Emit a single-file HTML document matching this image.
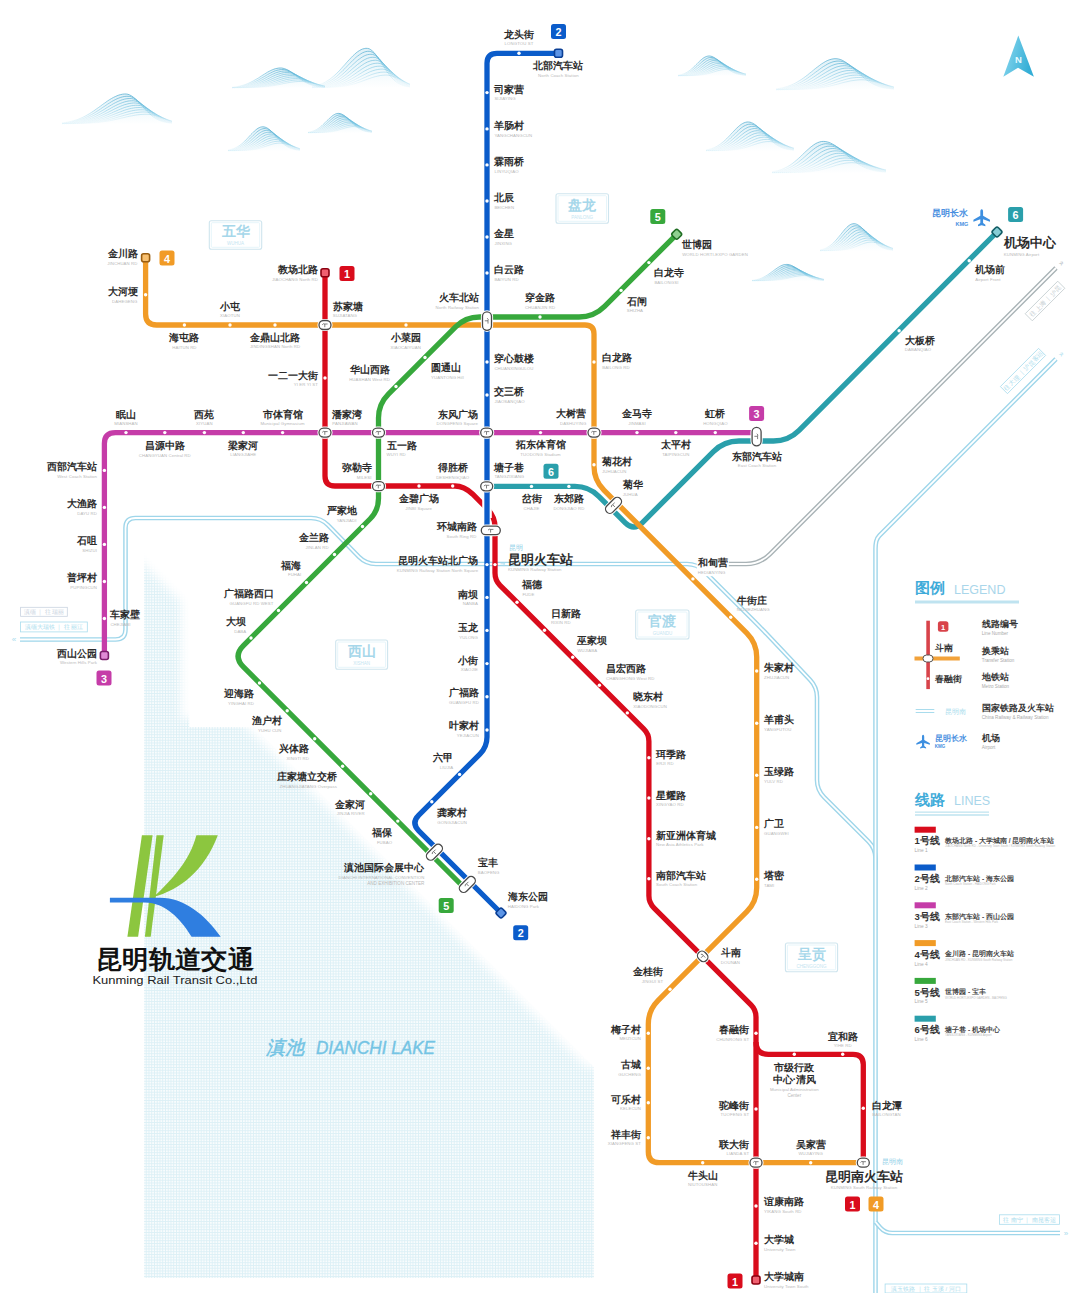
<!DOCTYPE html><html><head><meta charset="utf-8"><style>
html,body{margin:0;padding:0;background:#fff;width:1080px;height:1293px;overflow:hidden}
svg{display:block;font-family:"Liberation Sans",sans-serif}
</style></head><body>
<svg width="1080" height="1293" viewBox="0 0 1080 1293">
<defs>
<pattern id="grid" width="2.75" height="2.75" patternUnits="userSpaceOnUse">
<rect width="2.75" height="2.75" fill="#f8fcfd"/>
<path d="M0 0.45H2.75M0.45 0V2.75" stroke="#dcf0f6" stroke-width="0.9"/>
</pattern>
</defs>
<rect width="1080" height="1293" fill="#fff"/>
<filter id="lb" filterUnits="userSpaceOnUse" x="80" y="500" width="580" height="850"><feGaussianBlur stdDeviation="5"/></filter>
<mask id="lm" maskUnits="userSpaceOnUse" x="0" y="0" width="1080" height="1293"><rect x="144" y="540" width="460" height="760" fill="#000"/><path d="M120 541 L181 602 V719 H238 L586 1067 H610 V1310 H120 Z" fill="#fff" filter="url(#lb)"/></mask>
<path d="M144 553 L189.3 598.3 V727 H254 L594 1067 V1278 H144 Z" fill="url(#grid)" mask="url(#lm)"/>
<path d="M20.0 639.5 L115.5 639.5 Q125.5 639.5 125.5 629.5 L125.5 528.0 Q125.5 518.0 135.5 518.0 L311.0 518.0 Q321.0 518.0 328.0 525.1 L359.0 556.9 Q366.0 564.0 376.0 564.0 L687.0 564.0 Q697.0 564.0 704.1 571.1 L752.9 619.9 Q760.0 627.0 766.9 634.2 L810.1 679.8 Q817.0 687.0 817.0 697.0 L817.0 780.0 Q817.0 790.0 824.1 797.1 L868.4 841.4 Q875.5 848.5 875.5 858.5 L875.5 870.0" fill="none" stroke="#9fd6ea" stroke-width="4.6"/>
<path d="M20.0 639.5 L115.5 639.5 Q125.5 639.5 125.5 629.5 L125.5 528.0 Q125.5 518.0 135.5 518.0 L311.0 518.0 Q321.0 518.0 328.0 525.1 L359.0 556.9 Q366.0 564.0 376.0 564.0 L687.0 564.0 Q697.0 564.0 704.1 571.1 L752.9 619.9 Q760.0 627.0 766.9 634.2 L810.1 679.8 Q817.0 687.0 817.0 697.0 L817.0 780.0 Q817.0 790.0 824.1 797.1 L868.4 841.4 Q875.5 848.5 875.5 858.5 L875.5 870.0" fill="none" stroke="#fff" stroke-width="1.8"/>
<path d="M1056.0 359.0 L879.5 535.5 Q877.0 538.0 876.2 541.5 L876.2 541.5 Q875.5 545.0 875.5 548.6 L875.5 1293.0" fill="none" stroke="#9fd6ea" stroke-width="4.6"/>
<path d="M1056.0 359.0 L879.5 535.5 Q877.0 538.0 876.2 541.5 L876.2 541.5 Q875.5 545.0 875.5 548.6 L875.5 1293.0" fill="none" stroke="#fff" stroke-width="1.8"/>
<path d="M875.5 1222.0 L880.2 1227.5 Q885.0 1233.0 892.3 1233.0 L1060.0 1233.0" fill="none" stroke="#9fd6ea" stroke-width="4.6"/>
<path d="M875.5 1222.0 L880.2 1227.5 Q885.0 1233.0 892.3 1233.0 L1060.0 1233.0" fill="none" stroke="#fff" stroke-width="1.8"/>
<path d="M697.0 564.0 L746.0 564.0 Q760.0 564.0 769.9 554.1 L1056.0 268.0" fill="none" stroke="#a9b3b6" stroke-width="4.6"/>
<path d="M697.0 564.0 L746.0 564.0 Q760.0 564.0 769.9 554.1 L1056.0 268.0" fill="none" stroke="#fff" stroke-width="1.8"/>
<linearGradient id="mg1" gradientUnits="userSpaceOnUse" x1="0" y1="94.0" x2="0" y2="125.0"><stop offset="0" stop-color="#4aa9cf" stop-opacity="0.95"/><stop offset="0.55" stop-color="#6cc0e0" stop-opacity="0.6"/><stop offset="1" stop-color="#9ad6ec" stop-opacity="0"/></linearGradient>
<path d="M62.0 124.0 L62.0 122.9 L63.8 122.7 L65.7 122.4 L67.5 122.1 L69.3 121.7 L71.2 121.3 L73.0 120.9 L74.8 120.3 L76.7 119.8 L78.5 119.1 L80.3 118.4 L82.2 117.6 L84.0 116.7 L85.8 115.8 L87.7 114.7 L89.5 113.7 L91.3 112.5 L93.2 111.3 L95.0 110.0 L96.8 108.7 L98.7 107.4 L100.5 106.1 L102.3 104.7 L104.2 103.4 L106.0 102.1 L107.8 100.8 L109.7 99.6 L111.5 98.5 L113.3 97.5 L115.2 96.6 L117.0 95.8 L118.8 95.1 L120.7 94.6 L122.5 94.2 L124.3 94.0 L126.2 94.0 L128.0 94.3 L129.8 95.0 L131.7 96.0 L133.5 97.3 L135.3 98.8 L137.2 100.6 L139.0 102.5 L140.8 104.5 L142.7 106.5 L144.5 108.6 L146.3 110.5 L148.2 112.4 L150.0 114.1 L151.8 115.6 L153.7 117.1 L155.5 118.3 L157.3 119.4 L159.2 120.3 L161.0 121.1 L162.8 121.7 L164.7 122.2 L166.5 122.7 L168.3 123.0 L170.2 123.3 L172.0 123.5 Z" fill="url(#mg1)" opacity="0.18"/>
<path d="M62.0 122.9 L63.8 122.7 L65.7 122.4 L67.5 122.1 L69.3 121.7 L71.2 121.3 L73.0 120.9 L74.8 120.3 L76.7 119.8 L78.5 119.1 L80.3 118.4 L82.2 117.6 L84.0 116.7 L85.8 115.8 L87.7 114.7 L89.5 113.7 L91.3 112.5 L93.2 111.3 L95.0 110.0 L96.8 108.7 L98.7 107.4 L100.5 106.1 L102.3 104.7 L104.2 103.4 L106.0 102.1 L107.8 100.8 L109.7 99.6 L111.5 98.5 L113.3 97.5 L115.2 96.6 L117.0 95.8 L118.8 95.1 L120.7 94.6 L122.5 94.2 L124.3 94.0 L126.2 94.0 L128.0 94.3 L129.8 95.0 L131.7 96.0 L133.5 97.3 L135.3 98.8 L137.2 100.6 L139.0 102.5 L140.8 104.5 L142.7 106.5 L144.5 108.6 L146.3 110.5 L148.2 112.4 L150.0 114.1 L151.8 115.6 L153.7 117.1 L155.5 118.3 L157.3 119.4 L159.2 120.3 L161.0 121.1 L162.8 121.7 L164.7 122.2 L166.5 122.7 L168.3 123.0 L170.2 123.3 L172.0 123.5" fill="none" stroke="url(#mg1)" stroke-width="0.75"/>
<path d="M62.0 123.2 L63.8 123.0 L65.7 122.8 L67.5 122.6 L69.3 122.3 L71.2 122.0 L73.0 121.6 L74.8 121.2 L76.7 120.8 L78.5 120.2 L80.3 119.6 L82.2 119.0 L84.0 118.3 L85.8 117.5 L87.7 116.6 L89.5 115.7 L91.3 114.7 L93.2 113.7 L95.0 112.6 L96.8 111.4 L98.7 110.2 L100.5 109.0 L102.3 107.7 L104.2 106.5 L106.0 105.3 L107.8 104.0 L109.7 102.9 L111.5 101.7 L113.3 100.7 L115.2 99.7 L117.0 98.8 L118.8 98.1 L120.7 97.4 L122.5 96.9 L124.3 96.5 L126.2 96.3 L128.0 96.3 L129.8 96.4 L131.7 97.0 L133.5 97.8 L135.3 98.9 L137.2 100.3 L139.0 101.9 L140.8 103.6 L142.7 105.5 L144.5 107.3 L146.3 109.2 L148.2 111.0 L150.0 112.8 L151.8 114.4 L153.7 115.9 L155.5 117.2 L157.3 118.4 L159.2 119.5 L161.0 120.4 L162.8 121.1 L164.7 121.7 L166.5 122.3 L168.3 122.7 L170.2 123.0 L172.0 123.2" fill="none" stroke="url(#mg1)" stroke-width="0.75"/>
<path d="M62.0 123.4 L63.8 123.3 L65.7 123.2 L67.5 123.0 L69.3 122.8 L71.2 122.5 L73.0 122.2 L74.8 121.9 L76.7 121.6 L78.5 121.1 L80.3 120.7 L82.2 120.1 L84.0 119.6 L85.8 118.9 L87.7 118.2 L89.5 117.4 L91.3 116.6 L93.2 115.7 L95.0 114.8 L96.8 113.8 L98.7 112.7 L100.5 111.6 L102.3 110.5 L104.2 109.4 L106.0 108.2 L107.8 107.1 L109.7 106.0 L111.5 104.9 L113.3 103.8 L115.2 102.8 L117.0 101.9 L118.8 101.1 L120.7 100.3 L122.5 99.7 L124.3 99.2 L126.2 98.8 L128.0 98.6 L129.8 98.5 L131.7 98.6 L133.5 99.0 L135.3 99.7 L137.2 100.7 L139.0 101.9 L140.8 103.3 L142.7 104.9 L144.5 106.5 L146.3 108.2 L148.2 110.0 L150.0 111.7 L151.8 113.3 L153.7 114.8 L155.5 116.2 L157.3 117.5 L159.2 118.6 L161.0 119.6 L162.8 120.5 L164.7 121.2 L166.5 121.8 L168.3 122.3 L170.2 122.7 L172.0 123.0" fill="none" stroke="url(#mg1)" stroke-width="0.75"/>
<path d="M62.0 123.6 L63.8 123.5 L65.7 123.4 L67.5 123.3 L69.3 123.1 L71.2 122.9 L73.0 122.7 L74.8 122.5 L76.7 122.2 L78.5 121.9 L80.3 121.5 L82.2 121.1 L84.0 120.6 L85.8 120.1 L87.7 119.5 L89.5 118.9 L91.3 118.2 L93.2 117.5 L95.0 116.7 L96.8 115.8 L98.7 114.9 L100.5 114.0 L102.3 113.0 L104.2 112.0 L106.0 110.9 L107.8 109.9 L109.7 108.9 L111.5 107.8 L113.3 106.8 L115.2 105.8 L117.0 104.9 L118.8 104.1 L120.7 103.3 L122.5 102.6 L124.3 102.0 L126.2 101.5 L128.0 101.1 L129.8 100.9 L131.7 100.8 L133.5 100.8 L135.3 101.1 L137.2 101.6 L139.0 102.5 L140.8 103.5 L142.7 104.8 L144.5 106.2 L146.3 107.7 L148.2 109.2 L150.0 110.8 L151.8 112.3 L153.7 113.8 L155.5 115.3 L157.3 116.6 L159.2 117.8 L161.0 118.8 L162.8 119.8 L164.7 120.6 L166.5 121.3 L168.3 121.8 L170.2 122.3 L172.0 122.7" fill="none" stroke="url(#mg1)" stroke-width="0.75"/>
<path d="M62.0 123.7 L63.8 123.7 L65.7 123.6 L67.5 123.5 L69.3 123.4 L71.2 123.2 L73.0 123.1 L74.8 122.9 L76.7 122.7 L78.5 122.4 L80.3 122.2 L82.2 121.8 L84.0 121.5 L85.8 121.1 L87.7 120.6 L89.5 120.1 L91.3 119.5 L93.2 118.9 L95.0 118.3 L96.8 117.6 L98.7 116.8 L100.5 116.0 L102.3 115.2 L104.2 114.3 L106.0 113.4 L107.8 112.5 L109.7 111.5 L111.5 110.6 L113.3 109.6 L115.2 108.7 L117.0 107.8 L118.8 107.0 L120.7 106.2 L122.5 105.5 L124.3 104.8 L126.2 104.3 L128.0 103.8 L129.8 103.4 L131.7 103.2 L133.5 103.0 L135.3 103.0 L137.2 103.2 L139.0 103.7 L140.8 104.3 L142.7 105.2 L144.5 106.3 L146.3 107.5 L148.2 108.9 L150.0 110.3 L151.8 111.7 L153.7 113.1 L155.5 114.5 L157.3 115.8 L159.2 117.0 L161.0 118.1 L162.8 119.1 L164.7 120.0 L166.5 120.7 L168.3 121.4 L170.2 121.9 L172.0 122.4" fill="none" stroke="url(#mg1)" stroke-width="0.75"/>
<path d="M62.0 123.8 L63.8 123.8 L65.7 123.7 L67.5 123.6 L69.3 123.6 L71.2 123.5 L73.0 123.4 L74.8 123.2 L76.7 123.1 L78.5 122.9 L80.3 122.7 L82.2 122.4 L84.0 122.1 L85.8 121.8 L87.7 121.5 L89.5 121.1 L91.3 120.6 L93.2 120.2 L95.0 119.6 L96.8 119.0 L98.7 118.4 L100.5 117.8 L102.3 117.1 L104.2 116.3 L106.0 115.5 L107.8 114.7 L109.7 113.9 L111.5 113.1 L113.3 112.2 L115.2 111.4 L117.0 110.6 L118.8 109.8 L120.7 109.0 L122.5 108.3 L124.3 107.6 L126.2 107.0 L128.0 106.5 L129.8 106.1 L131.7 105.7 L133.5 105.5 L135.3 105.3 L137.2 105.3 L139.0 105.4 L140.8 105.7 L142.7 106.3 L144.5 107.0 L146.3 107.9 L148.2 109.0 L150.0 110.2 L151.8 111.4 L153.7 112.7 L155.5 113.9 L157.3 115.2 L159.2 116.4 L161.0 117.5 L162.8 118.5 L164.7 119.4 L166.5 120.2 L168.3 120.9 L170.2 121.5 L172.0 122.0" fill="none" stroke="url(#mg1)" stroke-width="0.75"/>
<path d="M62.0 123.9 L63.8 123.8 L65.7 123.8 L67.5 123.8 L69.3 123.7 L71.2 123.6 L73.0 123.6 L74.8 123.5 L76.7 123.3 L78.5 123.2 L80.3 123.1 L82.2 122.9 L84.0 122.7 L85.8 122.4 L87.7 122.2 L89.5 121.9 L91.3 121.5 L93.2 121.1 L95.0 120.7 L96.8 120.3 L98.7 119.8 L100.5 119.2 L102.3 118.7 L104.2 118.1 L106.0 117.4 L107.8 116.7 L109.7 116.0 L111.5 115.3 L113.3 114.6 L115.2 113.8 L117.0 113.1 L118.8 112.4 L120.7 111.7 L122.5 111.0 L124.3 110.3 L126.2 109.7 L128.0 109.2 L129.8 108.7 L131.7 108.3 L133.5 108.0 L135.3 107.7 L137.2 107.6 L139.0 107.5 L140.8 107.6 L142.7 107.8 L144.5 108.2 L146.3 108.9 L148.2 109.6 L150.0 110.5 L151.8 111.6 L153.7 112.6 L155.5 113.7 L157.3 114.8 L159.2 115.9 L161.0 117.0 L162.8 118.0 L164.7 118.9 L166.5 119.7 L168.3 120.5 L170.2 121.1 L172.0 121.7" fill="none" stroke="url(#mg1)" stroke-width="0.75"/>
<path d="M62.0 123.9 L63.8 123.9 L65.7 123.9 L67.5 123.8 L69.3 123.8 L71.2 123.8 L73.0 123.7 L74.8 123.6 L76.7 123.6 L78.5 123.5 L80.3 123.4 L82.2 123.2 L84.0 123.1 L85.8 122.9 L87.7 122.7 L89.5 122.5 L91.3 122.2 L93.2 121.9 L95.0 121.6 L96.8 121.3 L98.7 120.9 L100.5 120.5 L102.3 120.0 L104.2 119.5 L106.0 119.0 L107.8 118.5 L109.7 117.9 L111.5 117.3 L113.3 116.7 L115.2 116.0 L117.0 115.4 L118.8 114.8 L120.7 114.1 L122.5 113.5 L124.3 112.9 L126.2 112.3 L128.0 111.8 L129.8 111.3 L131.7 110.9 L133.5 110.5 L135.3 110.2 L137.2 110.0 L139.0 109.8 L140.8 109.8 L142.7 109.8 L144.5 109.9 L146.3 110.3 L148.2 110.8 L150.0 111.4 L151.8 112.2 L153.7 113.0 L155.5 113.9 L157.3 114.9 L159.2 115.8 L161.0 116.8 L162.8 117.7 L164.7 118.6 L166.5 119.4 L168.3 120.1 L170.2 120.8 L172.0 121.4" fill="none" stroke="url(#mg1)" stroke-width="0.75"/>
<path d="M62.0 124.0 L63.8 123.9 L65.7 123.9 L67.5 123.9 L69.3 123.9 L71.2 123.8 L73.0 123.8 L74.8 123.8 L76.7 123.7 L78.5 123.6 L80.3 123.6 L82.2 123.5 L84.0 123.4 L85.8 123.3 L87.7 123.1 L89.5 123.0 L91.3 122.8 L93.2 122.6 L95.0 122.3 L96.8 122.1 L98.7 121.8 L100.5 121.5 L102.3 121.1 L104.2 120.8 L106.0 120.3 L107.8 119.9 L109.7 119.5 L111.5 119.0 L113.3 118.5 L115.2 118.0 L117.0 117.4 L118.8 116.9 L120.7 116.4 L122.5 115.8 L124.3 115.3 L126.2 114.8 L128.0 114.3 L129.8 113.9 L131.7 113.4 L133.5 113.1 L135.3 112.7 L137.2 112.5 L139.0 112.3 L140.8 112.1 L142.7 112.0 L144.5 112.0 L146.3 112.1 L148.2 112.4 L150.0 112.7 L151.8 113.2 L153.7 113.9 L155.5 114.6 L157.3 115.3 L159.2 116.1 L161.0 116.9 L162.8 117.7 L164.7 118.5 L166.5 119.3 L168.3 119.9 L170.2 120.6 L172.0 121.2" fill="none" stroke="url(#mg1)" stroke-width="0.75"/>
<path d="M62.0 124.0 L63.8 124.0 L65.7 124.0 L67.5 123.9 L69.3 123.9 L71.2 123.9 L73.0 123.9 L74.8 123.9 L76.7 123.8 L78.5 123.8 L80.3 123.7 L82.2 123.7 L84.0 123.6 L85.8 123.5 L87.7 123.4 L89.5 123.3 L91.3 123.2 L93.2 123.0 L95.0 122.9 L96.8 122.7 L98.7 122.5 L100.5 122.3 L102.3 122.0 L104.2 121.7 L106.0 121.4 L107.8 121.1 L109.7 120.8 L111.5 120.4 L113.3 120.0 L115.2 119.6 L117.0 119.2 L118.8 118.8 L120.7 118.3 L122.5 117.9 L124.3 117.5 L126.2 117.0 L128.0 116.6 L129.8 116.2 L131.7 115.9 L133.5 115.5 L135.3 115.2 L137.2 114.9 L139.0 114.7 L140.8 114.5 L142.7 114.4 L144.5 114.3 L146.3 114.3 L148.2 114.3 L150.0 114.5 L151.8 114.8 L153.7 115.1 L155.5 115.6 L157.3 116.2 L159.2 116.8 L161.0 117.4 L162.8 118.1 L164.7 118.7 L166.5 119.4 L168.3 120.0 L170.2 120.6 L172.0 121.1" fill="none" stroke="url(#mg1)" stroke-width="0.75"/>
<linearGradient id="mg2" gradientUnits="userSpaceOnUse" x1="0" y1="68.0" x2="0" y2="89.0"><stop offset="0" stop-color="#4aa9cf" stop-opacity="0.95"/><stop offset="0.55" stop-color="#6cc0e0" stop-opacity="0.6"/><stop offset="1" stop-color="#9ad6ec" stop-opacity="0"/></linearGradient>
<path d="M232.0 88.0 L232.0 87.3 L233.6 87.1 L235.1 86.9 L236.7 86.7 L238.2 86.4 L239.8 86.1 L241.3 85.7 L242.8 85.3 L244.4 84.8 L245.9 84.3 L247.5 83.7 L249.1 83.0 L250.6 82.3 L252.2 81.5 L253.7 80.7 L255.2 79.8 L256.8 78.9 L258.4 78.0 L259.9 77.0 L261.4 76.0 L263.0 75.0 L264.6 74.0 L266.1 73.1 L267.6 72.1 L269.2 71.3 L270.8 70.5 L272.3 69.8 L273.9 69.2 L275.4 68.7 L276.9 68.4 L278.5 68.1 L280.1 68.0 L281.6 68.0 L283.1 68.3 L284.7 68.7 L286.2 69.3 L287.8 70.0 L289.4 70.9 L290.9 71.9 L292.4 73.0 L294.0 74.2 L295.6 75.3 L297.1 76.5 L298.6 77.7 L300.2 78.9 L301.8 80.0 L303.3 81.0 L304.9 82.0 L306.4 82.8 L307.9 83.6 L309.5 84.3 L311.1 85.0 L312.6 85.5 L314.1 86.0 L315.7 86.4 L317.2 86.7 L318.8 87.0 L320.4 87.2 L321.9 87.4 L323.4 87.5 L325.0 87.6 Z" fill="url(#mg2)" opacity="0.18"/>
<path d="M232.0 87.3 L233.6 87.1 L235.1 86.9 L236.7 86.7 L238.2 86.4 L239.8 86.1 L241.3 85.7 L242.8 85.3 L244.4 84.8 L245.9 84.3 L247.5 83.7 L249.1 83.0 L250.6 82.3 L252.2 81.5 L253.7 80.7 L255.2 79.8 L256.8 78.9 L258.4 78.0 L259.9 77.0 L261.4 76.0 L263.0 75.0 L264.6 74.0 L266.1 73.1 L267.6 72.1 L269.2 71.3 L270.8 70.5 L272.3 69.8 L273.9 69.2 L275.4 68.7 L276.9 68.4 L278.5 68.1 L280.1 68.0 L281.6 68.0 L283.1 68.3 L284.7 68.7 L286.2 69.3 L287.8 70.0 L289.4 70.9 L290.9 71.9 L292.4 73.0 L294.0 74.2 L295.6 75.3 L297.1 76.5 L298.6 77.7 L300.2 78.9 L301.8 80.0 L303.3 81.0 L304.9 82.0 L306.4 82.8 L307.9 83.6 L309.5 84.3 L311.1 85.0 L312.6 85.5 L314.1 86.0 L315.7 86.4 L317.2 86.7 L318.8 87.0 L320.4 87.2 L321.9 87.4 L323.4 87.5 L325.0 87.6" fill="none" stroke="url(#mg2)" stroke-width="0.75"/>
<path d="M232.0 87.5 L233.6 87.4 L235.1 87.2 L236.7 87.1 L238.2 86.9 L239.8 86.6 L241.3 86.3 L242.8 86.0 L244.4 85.7 L245.9 85.2 L247.5 84.8 L249.1 84.2 L250.6 83.7 L252.2 83.0 L253.7 82.3 L255.2 81.6 L256.8 80.8 L258.4 80.0 L259.9 79.1 L261.4 78.2 L263.0 77.3 L264.6 76.4 L266.1 75.5 L267.6 74.6 L269.2 73.7 L270.8 72.9 L272.3 72.1 L273.9 71.4 L275.4 70.8 L276.9 70.3 L278.5 70.0 L280.1 69.7 L281.6 69.5 L283.1 69.5 L284.7 69.6 L286.2 70.0 L287.8 70.4 L289.4 71.1 L290.9 71.8 L292.4 72.7 L294.0 73.7 L295.6 74.7 L297.1 75.8 L298.6 76.9 L300.2 78.0 L301.8 79.1 L303.3 80.1 L304.9 81.1 L306.4 82.0 L307.9 82.9 L309.5 83.7 L311.1 84.3 L312.6 85.0 L314.1 85.5 L315.7 85.9 L317.2 86.3 L318.8 86.7 L320.4 86.9 L321.9 87.2 L323.4 87.4 L325.0 87.5" fill="none" stroke="url(#mg2)" stroke-width="0.75"/>
<path d="M232.0 87.7 L233.6 87.6 L235.1 87.5 L236.7 87.4 L238.2 87.2 L239.8 87.0 L241.3 86.8 L242.8 86.6 L244.4 86.3 L245.9 86.0 L247.5 85.6 L249.1 85.2 L250.6 84.8 L252.2 84.3 L253.7 83.7 L255.2 83.1 L256.8 82.4 L258.4 81.7 L259.9 81.0 L261.4 80.2 L263.0 79.4 L264.6 78.5 L266.1 77.7 L267.6 76.8 L269.2 76.0 L270.8 75.2 L272.3 74.4 L273.9 73.7 L275.4 73.0 L276.9 72.5 L278.5 72.0 L280.1 71.6 L281.6 71.3 L283.1 71.1 L284.7 71.0 L286.2 71.1 L287.8 71.3 L289.4 71.7 L290.9 72.2 L292.4 72.8 L294.0 73.6 L295.6 74.5 L297.1 75.4 L298.6 76.4 L300.2 77.4 L301.8 78.4 L303.3 79.4 L304.9 80.4 L306.4 81.3 L307.9 82.2 L309.5 83.0 L311.1 83.7 L312.6 84.4 L314.1 85.0 L315.7 85.5 L317.2 85.9 L318.8 86.3 L320.4 86.6 L321.9 86.9 L323.4 87.1 L325.0 87.3" fill="none" stroke="url(#mg2)" stroke-width="0.75"/>
<path d="M232.0 87.8 L233.6 87.7 L235.1 87.7 L236.7 87.6 L238.2 87.5 L239.8 87.3 L241.3 87.2 L242.8 87.0 L244.4 86.8 L245.9 86.6 L247.5 86.3 L249.1 86.0 L250.6 85.6 L252.2 85.2 L253.7 84.8 L255.2 84.3 L256.8 83.8 L258.4 83.2 L259.9 82.6 L261.4 81.9 L263.0 81.2 L264.6 80.5 L266.1 79.7 L267.6 78.9 L269.2 78.2 L270.8 77.4 L272.3 76.6 L273.9 75.9 L275.4 75.2 L276.9 74.6 L278.5 74.1 L280.1 73.6 L281.6 73.2 L283.1 72.8 L284.7 72.6 L286.2 72.5 L287.8 72.5 L289.4 72.6 L290.9 72.9 L292.4 73.3 L294.0 73.9 L295.6 74.5 L297.1 75.3 L298.6 76.1 L300.2 77.0 L301.8 77.9 L303.3 78.8 L304.9 79.8 L306.4 80.7 L307.9 81.5 L309.5 82.3 L311.1 83.1 L312.6 83.8 L314.1 84.4 L315.7 85.0 L317.2 85.5 L318.8 85.9 L320.4 86.3 L321.9 86.6 L323.4 86.9 L325.0 87.1" fill="none" stroke="url(#mg2)" stroke-width="0.75"/>
<path d="M232.0 87.9 L233.6 87.8 L235.1 87.8 L236.7 87.7 L238.2 87.6 L239.8 87.6 L241.3 87.5 L242.8 87.3 L244.4 87.2 L245.9 87.0 L247.5 86.8 L249.1 86.6 L250.6 86.3 L252.2 86.0 L253.7 85.7 L255.2 85.3 L256.8 84.9 L258.4 84.4 L259.9 83.9 L261.4 83.3 L263.0 82.7 L264.6 82.1 L266.1 81.5 L267.6 80.8 L269.2 80.1 L270.8 79.4 L272.3 78.7 L273.9 78.0 L275.4 77.4 L276.9 76.7 L278.5 76.2 L280.1 75.6 L281.6 75.1 L283.1 74.7 L284.7 74.4 L286.2 74.2 L287.8 74.1 L289.4 74.0 L290.9 74.1 L292.4 74.3 L294.0 74.6 L295.6 75.0 L297.1 75.6 L298.6 76.2 L300.2 76.9 L301.8 77.7 L303.3 78.5 L304.9 79.4 L306.4 80.2 L307.9 81.0 L309.5 81.8 L311.1 82.6 L312.6 83.3 L314.1 83.9 L315.7 84.5 L317.2 85.1 L318.8 85.6 L320.4 86.0 L321.9 86.3 L323.4 86.7 L325.0 86.9" fill="none" stroke="url(#mg2)" stroke-width="0.75"/>
<path d="M232.0 87.9 L233.6 87.9 L235.1 87.9 L236.7 87.8 L238.2 87.8 L239.8 87.7 L241.3 87.6 L242.8 87.6 L244.4 87.5 L245.9 87.3 L247.5 87.2 L249.1 87.0 L250.6 86.8 L252.2 86.6 L253.7 86.3 L255.2 86.1 L256.8 85.7 L258.4 85.4 L259.9 85.0 L261.4 84.5 L263.0 84.0 L264.6 83.5 L266.1 83.0 L267.6 82.4 L269.2 81.8 L270.8 81.2 L272.3 80.6 L273.9 80.0 L275.4 79.4 L276.9 78.8 L278.5 78.2 L280.1 77.6 L281.6 77.1 L283.1 76.7 L284.7 76.3 L286.2 76.0 L287.8 75.8 L289.4 75.6 L290.9 75.5 L292.4 75.5 L294.0 75.6 L295.6 75.9 L297.1 76.2 L298.6 76.7 L300.2 77.2 L301.8 77.8 L303.3 78.5 L304.9 79.2 L306.4 80.0 L307.9 80.7 L309.5 81.4 L311.1 82.2 L312.6 82.9 L314.1 83.5 L315.7 84.1 L317.2 84.7 L318.8 85.2 L320.4 85.6 L321.9 86.0 L323.4 86.4 L325.0 86.7" fill="none" stroke="url(#mg2)" stroke-width="0.75"/>
<path d="M232.0 87.9 L233.6 87.9 L235.1 87.9 L236.7 87.9 L238.2 87.9 L239.8 87.8 L241.3 87.8 L242.8 87.7 L244.4 87.6 L245.9 87.6 L247.5 87.5 L249.1 87.3 L250.6 87.2 L252.2 87.0 L253.7 86.9 L255.2 86.6 L256.8 86.4 L258.4 86.1 L259.9 85.8 L261.4 85.5 L263.0 85.1 L264.6 84.7 L266.1 84.3 L267.6 83.8 L269.2 83.3 L270.8 82.8 L272.3 82.3 L273.9 81.7 L275.4 81.2 L276.9 80.6 L278.5 80.1 L280.1 79.6 L281.6 79.1 L283.1 78.6 L284.7 78.2 L286.2 77.9 L287.8 77.6 L289.4 77.3 L290.9 77.1 L292.4 77.0 L294.0 77.0 L295.6 77.1 L297.1 77.2 L298.6 77.5 L300.2 77.9 L301.8 78.3 L303.3 78.8 L304.9 79.4 L306.4 80.0 L307.9 80.6 L309.5 81.3 L311.1 81.9 L312.6 82.6 L314.1 83.2 L315.7 83.8 L317.2 84.4 L318.8 84.9 L320.4 85.3 L321.9 85.8 L323.4 86.1 L325.0 86.5" fill="none" stroke="url(#mg2)" stroke-width="0.75"/>
<path d="M232.0 88.0 L233.6 88.0 L235.1 87.9 L236.7 87.9 L238.2 87.9 L239.8 87.9 L241.3 87.9 L242.8 87.8 L244.4 87.8 L245.9 87.7 L247.5 87.7 L249.1 87.6 L250.6 87.5 L252.2 87.4 L253.7 87.2 L255.2 87.1 L256.8 86.9 L258.4 86.7 L259.9 86.5 L261.4 86.2 L263.0 86.0 L264.6 85.6 L266.1 85.3 L267.6 84.9 L269.2 84.6 L270.8 84.1 L272.3 83.7 L273.9 83.3 L275.4 82.8 L276.9 82.3 L278.5 81.8 L280.1 81.4 L281.6 80.9 L283.1 80.5 L284.7 80.1 L286.2 79.7 L287.8 79.4 L289.4 79.1 L290.9 78.9 L292.4 78.7 L294.0 78.6 L295.6 78.5 L297.1 78.5 L298.6 78.6 L300.2 78.8 L301.8 79.1 L303.3 79.5 L304.9 79.9 L306.4 80.3 L307.9 80.9 L309.5 81.4 L311.1 82.0 L312.6 82.5 L314.1 83.1 L315.7 83.6 L317.2 84.2 L318.8 84.7 L320.4 85.1 L321.9 85.5 L323.4 85.9 L325.0 86.2" fill="none" stroke="url(#mg2)" stroke-width="0.75"/>
<path d="M232.0 88.0 L233.6 88.0 L235.1 88.0 L236.7 88.0 L238.2 88.0 L239.8 87.9 L241.3 87.9 L242.8 87.9 L244.4 87.9 L245.9 87.8 L247.5 87.8 L249.1 87.7 L250.6 87.7 L252.2 87.6 L253.7 87.5 L255.2 87.4 L256.8 87.3 L258.4 87.2 L259.9 87.0 L261.4 86.8 L263.0 86.6 L264.6 86.4 L266.1 86.1 L267.6 85.9 L269.2 85.6 L270.8 85.2 L272.3 84.9 L273.9 84.5 L275.4 84.2 L276.9 83.8 L278.5 83.4 L280.1 83.0 L281.6 82.6 L283.1 82.2 L284.7 81.8 L286.2 81.5 L287.8 81.1 L289.4 80.9 L290.9 80.6 L292.4 80.4 L294.0 80.2 L295.6 80.1 L297.1 80.0 L298.6 80.0 L300.2 80.1 L301.8 80.2 L303.3 80.4 L304.9 80.7 L306.4 81.0 L307.9 81.4 L309.5 81.8 L311.1 82.2 L312.6 82.7 L314.1 83.2 L315.7 83.7 L317.2 84.1 L318.8 84.6 L320.4 85.0 L321.9 85.4 L323.4 85.8 L325.0 86.1" fill="none" stroke="url(#mg2)" stroke-width="0.75"/>
<path d="M232.0 88.0 L233.6 88.0 L235.1 88.0 L236.7 88.0 L238.2 88.0 L239.8 88.0 L241.3 88.0 L242.8 87.9 L244.4 87.9 L245.9 87.9 L247.5 87.9 L249.1 87.8 L250.6 87.8 L252.2 87.8 L253.7 87.7 L255.2 87.6 L256.8 87.6 L258.4 87.5 L259.9 87.4 L261.4 87.2 L263.0 87.1 L264.6 86.9 L266.1 86.8 L267.6 86.6 L269.2 86.4 L270.8 86.1 L272.3 85.9 L273.9 85.6 L275.4 85.3 L276.9 85.0 L278.5 84.7 L280.1 84.4 L281.6 84.1 L283.1 83.7 L284.7 83.4 L286.2 83.1 L287.8 82.8 L289.4 82.5 L290.9 82.3 L292.4 82.1 L294.0 81.9 L295.6 81.7 L297.1 81.6 L298.6 81.5 L300.2 81.5 L301.8 81.5 L303.3 81.6 L304.9 81.7 L306.4 81.9 L307.9 82.2 L309.5 82.5 L311.1 82.8 L312.6 83.2 L314.1 83.5 L315.7 83.9 L317.2 84.3 L318.8 84.7 L320.4 85.1 L321.9 85.4 L323.4 85.8 L325.0 86.1" fill="none" stroke="url(#mg2)" stroke-width="0.75"/>
<linearGradient id="mg3" gradientUnits="userSpaceOnUse" x1="0" y1="48.3" x2="0" y2="89.0"><stop offset="0" stop-color="#4aa9cf" stop-opacity="0.95"/><stop offset="0.55" stop-color="#6cc0e0" stop-opacity="0.6"/><stop offset="1" stop-color="#9ad6ec" stop-opacity="0"/></linearGradient>
<path d="M312.0 88.0 L312.0 86.5 L313.6 86.2 L315.3 85.9 L316.9 85.4 L318.5 84.9 L320.2 84.4 L321.8 83.7 L323.4 83.0 L325.1 82.2 L326.7 81.2 L328.3 80.2 L330.0 79.1 L331.6 77.8 L333.2 76.5 L334.9 75.0 L336.5 73.5 L338.1 71.9 L339.8 70.2 L341.4 68.4 L343.0 66.6 L344.7 64.8 L346.3 62.9 L347.9 61.1 L349.6 59.3 L351.2 57.6 L352.8 55.9 L354.5 54.4 L356.1 52.9 L357.7 51.7 L359.4 50.6 L361.0 49.7 L362.6 49.0 L364.3 48.6 L365.9 48.3 L367.5 48.4 L369.2 48.8 L370.8 49.7 L372.4 51.0 L374.1 52.6 L375.7 54.6 L377.3 56.8 L379.0 59.2 L380.6 61.7 L382.2 64.3 L383.9 66.8 L385.5 69.3 L387.1 71.7 L388.8 74.0 L390.4 76.0 L392.0 77.9 L393.7 79.6 L395.3 81.1 L396.9 82.4 L398.6 83.5 L400.2 84.4 L401.8 85.1 L403.5 85.8 L405.1 86.3 L406.7 86.7 L408.4 87.0 L410.0 87.3 Z" fill="url(#mg3)" opacity="0.18"/>
<path d="M312.0 86.5 L313.6 86.2 L315.3 85.9 L316.9 85.4 L318.5 84.9 L320.2 84.4 L321.8 83.7 L323.4 83.0 L325.1 82.2 L326.7 81.2 L328.3 80.2 L330.0 79.1 L331.6 77.8 L333.2 76.5 L334.9 75.0 L336.5 73.5 L338.1 71.9 L339.8 70.2 L341.4 68.4 L343.0 66.6 L344.7 64.8 L346.3 62.9 L347.9 61.1 L349.6 59.3 L351.2 57.6 L352.8 55.9 L354.5 54.4 L356.1 52.9 L357.7 51.7 L359.4 50.6 L361.0 49.7 L362.6 49.0 L364.3 48.6 L365.9 48.3 L367.5 48.4 L369.2 48.8 L370.8 49.7 L372.4 51.0 L374.1 52.6 L375.7 54.6 L377.3 56.8 L379.0 59.2 L380.6 61.7 L382.2 64.3 L383.9 66.8 L385.5 69.3 L387.1 71.7 L388.8 74.0 L390.4 76.0 L392.0 77.9 L393.7 79.6 L395.3 81.1 L396.9 82.4 L398.6 83.5 L400.2 84.4 L401.8 85.1 L403.5 85.8 L405.1 86.3 L406.7 86.7 L408.4 87.0 L410.0 87.3" fill="none" stroke="url(#mg3)" stroke-width="0.75"/>
<path d="M312.0 87.0 L313.6 86.7 L315.3 86.5 L316.9 86.1 L318.5 85.8 L320.2 85.3 L321.8 84.8 L323.4 84.2 L325.1 83.6 L326.7 82.8 L328.3 82.0 L330.0 81.1 L331.6 80.1 L333.2 79.0 L334.9 77.8 L336.5 76.5 L338.1 75.1 L339.8 73.6 L341.4 72.0 L343.0 70.4 L344.7 68.8 L346.3 67.1 L347.9 65.4 L349.6 63.7 L351.2 62.0 L352.8 60.4 L354.5 58.8 L356.1 57.3 L357.7 56.0 L359.4 54.8 L361.0 53.7 L362.6 52.8 L364.3 52.1 L365.9 51.6 L367.5 51.3 L369.2 51.3 L370.8 51.6 L372.4 52.3 L374.1 53.3 L375.7 54.8 L377.3 56.5 L379.0 58.5 L380.6 60.6 L382.2 62.9 L383.9 65.3 L385.5 67.7 L387.1 70.0 L388.8 72.2 L390.4 74.3 L392.0 76.3 L393.7 78.1 L395.3 79.7 L396.9 81.2 L398.6 82.4 L400.2 83.5 L401.8 84.4 L403.5 85.1 L405.1 85.8 L406.7 86.3 L408.4 86.7 L410.0 87.0" fill="none" stroke="url(#mg3)" stroke-width="0.75"/>
<path d="M312.0 87.3 L313.6 87.1 L315.3 86.9 L316.9 86.7 L318.5 86.4 L320.2 86.1 L321.8 85.7 L323.4 85.2 L325.1 84.7 L326.7 84.2 L328.3 83.5 L330.0 82.8 L331.6 81.9 L333.2 81.0 L334.9 80.0 L336.5 79.0 L338.1 77.8 L339.8 76.5 L341.4 75.2 L343.0 73.8 L344.7 72.3 L346.3 70.8 L347.9 69.3 L349.6 67.7 L351.2 66.1 L352.8 64.6 L354.5 63.1 L356.1 61.6 L357.7 60.2 L359.4 59.0 L361.0 57.8 L362.6 56.8 L364.3 55.9 L365.9 55.2 L367.5 54.7 L369.2 54.4 L370.8 54.3 L372.4 54.4 L374.1 54.9 L375.7 55.8 L377.3 57.0 L379.0 58.5 L380.6 60.2 L382.2 62.2 L383.9 64.3 L385.5 66.4 L387.1 68.6 L388.8 70.8 L390.4 72.8 L392.0 74.8 L393.7 76.7 L395.3 78.4 L396.9 79.9 L398.6 81.3 L400.2 82.5 L401.8 83.5 L403.5 84.4 L405.1 85.2 L406.7 85.8 L408.4 86.3 L410.0 86.7" fill="none" stroke="url(#mg3)" stroke-width="0.75"/>
<path d="M312.0 87.5 L313.6 87.4 L315.3 87.2 L316.9 87.1 L318.5 86.9 L320.2 86.6 L321.8 86.3 L323.4 86.0 L325.1 85.6 L326.7 85.2 L328.3 84.7 L330.0 84.1 L331.6 83.5 L333.2 82.7 L334.9 81.9 L336.5 81.0 L338.1 80.1 L339.8 79.0 L341.4 77.9 L343.0 76.7 L344.7 75.5 L346.3 74.2 L347.9 72.8 L349.6 71.4 L351.2 70.0 L352.8 68.5 L354.5 67.1 L356.1 65.7 L357.7 64.4 L359.4 63.1 L361.0 61.9 L362.6 60.8 L364.3 59.8 L365.9 59.0 L367.5 58.3 L369.2 57.8 L370.8 57.4 L372.4 57.3 L374.1 57.3 L375.7 57.6 L377.3 58.3 L379.0 59.3 L380.6 60.6 L382.2 62.2 L383.9 63.9 L385.5 65.7 L387.1 67.7 L388.8 69.7 L390.4 71.6 L392.0 73.6 L393.7 75.4 L395.3 77.2 L396.9 78.8 L398.6 80.2 L400.2 81.5 L401.8 82.7 L403.5 83.6 L405.1 84.5 L406.7 85.2 L408.4 85.8 L410.0 86.3" fill="none" stroke="url(#mg3)" stroke-width="0.75"/>
<path d="M312.0 87.7 L313.6 87.6 L315.3 87.5 L316.9 87.4 L318.5 87.2 L320.2 87.0 L321.8 86.8 L323.4 86.6 L325.1 86.3 L326.7 86.0 L328.3 85.6 L330.0 85.1 L331.6 84.6 L333.2 84.1 L334.9 83.5 L336.5 82.8 L338.1 82.0 L339.8 81.1 L341.4 80.2 L343.0 79.2 L344.7 78.2 L346.3 77.1 L347.9 75.9 L349.6 74.7 L351.2 73.4 L352.8 72.1 L354.5 70.8 L356.1 69.6 L357.7 68.3 L359.4 67.1 L361.0 65.9 L362.6 64.8 L364.3 63.7 L365.9 62.8 L367.5 62.0 L369.2 61.4 L370.8 60.8 L372.4 60.5 L374.1 60.3 L375.7 60.2 L377.3 60.4 L379.0 61.0 L380.6 61.8 L382.2 62.9 L383.9 64.2 L385.5 65.7 L387.1 67.3 L388.8 69.1 L390.4 70.8 L392.0 72.6 L393.7 74.4 L395.3 76.1 L396.9 77.7 L398.6 79.2 L400.2 80.5 L401.8 81.8 L403.5 82.8 L405.1 83.8 L406.7 84.6 L408.4 85.3 L410.0 85.9" fill="none" stroke="url(#mg3)" stroke-width="0.75"/>
<path d="M312.0 87.8 L313.6 87.7 L315.3 87.7 L316.9 87.6 L318.5 87.5 L320.2 87.3 L321.8 87.2 L323.4 87.0 L325.1 86.8 L326.7 86.6 L328.3 86.3 L330.0 86.0 L331.6 85.6 L333.2 85.2 L334.9 84.7 L336.5 84.1 L338.1 83.5 L339.8 82.9 L341.4 82.1 L343.0 81.3 L344.7 80.5 L346.3 79.6 L347.9 78.6 L349.6 77.5 L351.2 76.5 L352.8 75.3 L354.5 74.2 L356.1 73.1 L357.7 71.9 L359.4 70.8 L361.0 69.6 L362.6 68.6 L364.3 67.6 L365.9 66.6 L367.5 65.8 L369.2 65.0 L370.8 64.4 L372.4 63.9 L374.1 63.5 L375.7 63.3 L377.3 63.2 L379.0 63.3 L380.6 63.7 L382.2 64.3 L383.9 65.2 L385.5 66.3 L387.1 67.6 L388.8 69.1 L390.4 70.6 L392.0 72.2 L393.7 73.8 L395.3 75.4 L396.9 76.9 L398.6 78.4 L400.2 79.7 L401.8 81.0 L403.5 82.1 L405.1 83.1 L406.7 84.0 L408.4 84.7 L410.0 85.4" fill="none" stroke="url(#mg3)" stroke-width="0.75"/>
<path d="M312.0 87.9 L313.6 87.8 L315.3 87.8 L316.9 87.7 L318.5 87.6 L320.2 87.6 L321.8 87.5 L323.4 87.3 L325.1 87.2 L326.7 87.0 L328.3 86.8 L330.0 86.6 L331.6 86.3 L333.2 86.0 L334.9 85.6 L336.5 85.2 L338.1 84.8 L339.8 84.2 L341.4 83.7 L343.0 83.1 L344.7 82.4 L346.3 81.6 L347.9 80.8 L349.6 80.0 L351.2 79.1 L352.8 78.2 L354.5 77.2 L356.1 76.2 L357.7 75.2 L359.4 74.2 L361.0 73.2 L362.6 72.2 L364.3 71.2 L365.9 70.3 L367.5 69.5 L369.2 68.7 L370.8 68.0 L372.4 67.4 L374.1 66.9 L375.7 66.5 L377.3 66.3 L379.0 66.2 L380.6 66.2 L382.2 66.5 L383.9 67.0 L385.5 67.7 L387.1 68.6 L388.8 69.7 L390.4 70.9 L392.0 72.2 L393.7 73.6 L395.3 75.0 L396.9 76.4 L398.6 77.8 L400.2 79.1 L401.8 80.3 L403.5 81.5 L405.1 82.5 L406.7 83.4 L408.4 84.2 L410.0 84.9" fill="none" stroke="url(#mg3)" stroke-width="0.75"/>
<path d="M312.0 87.9 L313.6 87.9 L315.3 87.9 L316.9 87.8 L318.5 87.8 L320.2 87.7 L321.8 87.6 L323.4 87.6 L325.1 87.5 L326.7 87.3 L328.3 87.2 L330.0 87.0 L331.6 86.8 L333.2 86.6 L334.9 86.4 L336.5 86.1 L338.1 85.7 L339.8 85.3 L341.4 84.9 L343.0 84.4 L344.7 83.9 L346.3 83.3 L347.9 82.7 L349.6 82.0 L351.2 81.3 L352.8 80.6 L354.5 79.8 L356.1 78.9 L357.7 78.1 L359.4 77.2 L361.0 76.3 L362.6 75.5 L364.3 74.6 L365.9 73.8 L367.5 73.0 L369.2 72.2 L370.8 71.5 L372.4 70.9 L374.1 70.4 L375.7 69.9 L377.3 69.6 L379.0 69.3 L380.6 69.2 L382.2 69.1 L383.9 69.3 L385.5 69.7 L387.1 70.2 L388.8 71.0 L390.4 71.9 L392.0 72.9 L393.7 74.0 L395.3 75.2 L396.9 76.4 L398.6 77.6 L400.2 78.8 L401.8 80.0 L403.5 81.0 L405.1 82.0 L406.7 83.0 L408.4 83.8 L410.0 84.5" fill="none" stroke="url(#mg3)" stroke-width="0.75"/>
<path d="M312.0 87.9 L313.6 87.9 L315.3 87.9 L316.9 87.9 L318.5 87.9 L320.2 87.8 L321.8 87.8 L323.4 87.7 L325.1 87.7 L326.7 87.6 L328.3 87.5 L330.0 87.4 L331.6 87.2 L333.2 87.1 L334.9 86.9 L336.5 86.7 L338.1 86.4 L339.8 86.2 L341.4 85.9 L343.0 85.5 L344.7 85.1 L346.3 84.7 L347.9 84.2 L349.6 83.7 L351.2 83.2 L352.8 82.6 L354.5 81.9 L356.1 81.3 L357.7 80.6 L359.4 79.9 L361.0 79.2 L362.6 78.4 L364.3 77.7 L365.9 77.0 L367.5 76.2 L369.2 75.6 L370.8 74.9 L372.4 74.3 L374.1 73.8 L375.7 73.3 L377.3 72.9 L379.0 72.6 L380.6 72.3 L382.2 72.2 L383.9 72.1 L385.5 72.2 L387.1 72.4 L388.8 72.9 L390.4 73.4 L392.0 74.2 L393.7 75.0 L395.3 75.9 L396.9 76.9 L398.6 77.9 L400.2 78.9 L401.8 79.9 L403.5 80.9 L405.1 81.8 L406.7 82.7 L408.4 83.5 L410.0 84.2" fill="none" stroke="url(#mg3)" stroke-width="0.75"/>
<path d="M312.0 88.0 L313.6 88.0 L315.3 88.0 L316.9 87.9 L318.5 87.9 L320.2 87.9 L321.8 87.9 L323.4 87.8 L325.1 87.8 L326.7 87.7 L328.3 87.7 L330.0 87.6 L331.6 87.5 L333.2 87.4 L334.9 87.3 L336.5 87.2 L338.1 87.0 L339.8 86.8 L341.4 86.6 L343.0 86.4 L344.7 86.1 L346.3 85.8 L347.9 85.4 L349.6 85.1 L351.2 84.7 L352.8 84.2 L354.5 83.8 L356.1 83.3 L357.7 82.7 L359.4 82.2 L361.0 81.6 L362.6 81.0 L364.3 80.4 L365.9 79.8 L367.5 79.2 L369.2 78.6 L370.8 78.1 L372.4 77.5 L374.1 77.0 L375.7 76.6 L377.3 76.2 L379.0 75.8 L380.6 75.5 L382.2 75.3 L383.9 75.2 L385.5 75.1 L387.1 75.1 L388.8 75.3 L390.4 75.6 L392.0 76.0 L393.7 76.5 L395.3 77.2 L396.9 77.9 L398.6 78.7 L400.2 79.5 L401.8 80.3 L403.5 81.2 L405.1 82.0 L406.7 82.8 L408.4 83.5 L410.0 84.2" fill="none" stroke="url(#mg3)" stroke-width="0.75"/>
<linearGradient id="mg4" gradientUnits="userSpaceOnUse" x1="0" y1="126.8" x2="0" y2="152.0"><stop offset="0" stop-color="#4aa9cf" stop-opacity="0.95"/><stop offset="0.55" stop-color="#6cc0e0" stop-opacity="0.6"/><stop offset="1" stop-color="#9ad6ec" stop-opacity="0"/></linearGradient>
<path d="M228.0 151.0 L228.0 150.1 L229.2 149.9 L230.4 149.6 L231.6 149.3 L232.8 148.9 L234.0 148.5 L235.2 148.0 L236.4 147.4 L237.6 146.7 L238.8 146.0 L240.0 145.2 L241.2 144.3 L242.4 143.3 L243.6 142.2 L244.8 141.1 L246.0 139.9 L247.2 138.6 L248.4 137.3 L249.6 136.0 L250.8 134.7 L252.0 133.5 L253.2 132.3 L254.4 131.1 L255.6 130.1 L256.8 129.1 L258.0 128.3 L259.2 127.7 L260.4 127.2 L261.6 126.9 L262.8 126.8 L264.0 126.9 L265.2 127.2 L266.4 127.6 L267.6 128.3 L268.8 129.1 L270.0 130.1 L271.2 131.2 L272.4 132.4 L273.6 133.6 L274.8 135.0 L276.0 136.3 L277.2 137.6 L278.4 139.0 L279.6 140.2 L280.8 141.5 L282.0 142.6 L283.2 143.7 L284.4 144.7 L285.6 145.6 L286.8 146.4 L288.0 147.1 L289.2 147.8 L290.4 148.3 L291.6 148.8 L292.8 149.2 L294.0 149.5 L295.2 149.8 L296.4 150.1 L297.6 150.3 L298.8 150.4 L300.0 150.6 Z" fill="url(#mg4)" opacity="0.18"/>
<path d="M228.0 150.1 L229.2 149.9 L230.4 149.6 L231.6 149.3 L232.8 148.9 L234.0 148.5 L235.2 148.0 L236.4 147.4 L237.6 146.7 L238.8 146.0 L240.0 145.2 L241.2 144.3 L242.4 143.3 L243.6 142.2 L244.8 141.1 L246.0 139.9 L247.2 138.6 L248.4 137.3 L249.6 136.0 L250.8 134.7 L252.0 133.5 L253.2 132.3 L254.4 131.1 L255.6 130.1 L256.8 129.1 L258.0 128.3 L259.2 127.7 L260.4 127.2 L261.6 126.9 L262.8 126.8 L264.0 126.9 L265.2 127.2 L266.4 127.6 L267.6 128.3 L268.8 129.1 L270.0 130.1 L271.2 131.2 L272.4 132.4 L273.6 133.6 L274.8 135.0 L276.0 136.3 L277.2 137.6 L278.4 139.0 L279.6 140.2 L280.8 141.5 L282.0 142.6 L283.2 143.7 L284.4 144.7 L285.6 145.6 L286.8 146.4 L288.0 147.1 L289.2 147.8 L290.4 148.3 L291.6 148.8 L292.8 149.2 L294.0 149.5 L295.2 149.8 L296.4 150.1 L297.6 150.3 L298.8 150.4 L300.0 150.6" fill="none" stroke="url(#mg4)" stroke-width="0.75"/>
<path d="M228.0 150.4 L229.2 150.3 L230.4 150.1 L231.6 149.9 L232.8 149.6 L234.0 149.3 L235.2 148.9 L236.4 148.5 L237.6 148.0 L238.8 147.4 L240.0 146.8 L241.2 146.0 L242.4 145.2 L243.6 144.4 L244.8 143.4 L246.0 142.4 L247.2 141.3 L248.4 140.2 L249.6 139.0 L250.8 137.8 L252.0 136.6 L253.2 135.4 L254.4 134.3 L255.6 133.2 L256.8 132.1 L258.0 131.2 L259.2 130.4 L260.4 129.7 L261.6 129.2 L262.8 128.8 L264.0 128.6 L265.2 128.6 L266.4 128.8 L267.6 129.1 L268.8 129.7 L270.0 130.3 L271.2 131.2 L272.4 132.1 L273.6 133.2 L274.8 134.3 L276.0 135.5 L277.2 136.7 L278.4 138.0 L279.6 139.2 L280.8 140.4 L282.0 141.6 L283.2 142.7 L284.4 143.7 L285.6 144.7 L286.8 145.5 L288.0 146.3 L289.2 147.1 L290.4 147.7 L291.6 148.2 L292.8 148.7 L294.0 149.1 L295.2 149.5 L296.4 149.8 L297.6 150.0 L298.8 150.2 L300.0 150.4" fill="none" stroke="url(#mg4)" stroke-width="0.75"/>
<path d="M228.0 150.6 L229.2 150.5 L230.4 150.4 L231.6 150.3 L232.8 150.1 L234.0 149.9 L235.2 149.6 L236.4 149.3 L237.6 148.9 L238.8 148.5 L240.0 148.0 L241.2 147.4 L242.4 146.8 L243.6 146.1 L244.8 145.3 L246.0 144.5 L247.2 143.6 L248.4 142.6 L249.6 141.6 L250.8 140.6 L252.0 139.5 L253.2 138.4 L254.4 137.3 L255.6 136.2 L256.8 135.2 L258.0 134.2 L259.2 133.3 L260.4 132.5 L261.6 131.8 L262.8 131.2 L264.0 130.8 L265.2 130.5 L266.4 130.4 L267.6 130.5 L268.8 130.7 L270.0 131.1 L271.2 131.7 L272.4 132.3 L273.6 133.2 L274.8 134.1 L276.0 135.1 L277.2 136.2 L278.4 137.3 L279.6 138.4 L280.8 139.5 L282.0 140.7 L283.2 141.8 L284.4 142.8 L285.6 143.8 L286.8 144.7 L288.0 145.6 L289.2 146.3 L290.4 147.0 L291.6 147.6 L292.8 148.2 L294.0 148.7 L295.2 149.1 L296.4 149.4 L297.6 149.7 L298.8 150.0 L300.0 150.2" fill="none" stroke="url(#mg4)" stroke-width="0.75"/>
<path d="M228.0 150.8 L229.2 150.7 L230.4 150.6 L231.6 150.5 L232.8 150.4 L234.0 150.3 L235.2 150.1 L236.4 149.8 L237.6 149.6 L238.8 149.3 L240.0 148.9 L241.2 148.5 L242.4 148.0 L243.6 147.5 L244.8 146.9 L246.0 146.2 L247.2 145.5 L248.4 144.7 L249.6 143.9 L250.8 143.0 L252.0 142.0 L253.2 141.0 L254.4 140.0 L255.6 139.0 L256.8 138.0 L258.0 137.1 L259.2 136.1 L260.4 135.3 L261.6 134.5 L262.8 133.8 L264.0 133.2 L265.2 132.8 L266.4 132.5 L267.6 132.3 L268.8 132.3 L270.0 132.4 L271.2 132.6 L272.4 133.1 L273.6 133.6 L274.8 134.3 L276.0 135.1 L277.2 136.0 L278.4 136.9 L279.6 137.9 L280.8 138.9 L282.0 140.0 L283.2 141.0 L284.4 142.0 L285.6 143.0 L286.8 143.9 L288.0 144.8 L289.2 145.6 L290.4 146.4 L291.6 147.0 L292.8 147.6 L294.0 148.2 L295.2 148.7 L296.4 149.1 L297.6 149.4 L298.8 149.7 L300.0 150.0" fill="none" stroke="url(#mg4)" stroke-width="0.75"/>
<path d="M228.0 150.9 L229.2 150.8 L230.4 150.8 L231.6 150.7 L232.8 150.6 L234.0 150.5 L235.2 150.4 L236.4 150.3 L237.6 150.1 L238.8 149.9 L240.0 149.6 L241.2 149.3 L242.4 149.0 L243.6 148.6 L244.8 148.1 L246.0 147.6 L247.2 147.0 L248.4 146.4 L249.6 145.7 L250.8 145.0 L252.0 144.2 L253.2 143.4 L254.4 142.5 L255.6 141.6 L256.8 140.7 L258.0 139.8 L259.2 138.9 L260.4 138.0 L261.6 137.2 L262.8 136.5 L264.0 135.8 L265.2 135.2 L266.4 134.8 L267.6 134.4 L268.8 134.2 L270.0 134.1 L271.2 134.1 L272.4 134.3 L273.6 134.6 L274.8 135.0 L276.0 135.6 L277.2 136.2 L278.4 137.0 L279.6 137.8 L280.8 138.7 L282.0 139.6 L283.2 140.5 L284.4 141.5 L285.6 142.4 L286.8 143.3 L288.0 144.2 L289.2 145.0 L290.4 145.8 L291.6 146.5 L292.8 147.1 L294.0 147.7 L295.2 148.2 L296.4 148.7 L297.6 149.1 L298.8 149.4 L300.0 149.7" fill="none" stroke="url(#mg4)" stroke-width="0.75"/>
<path d="M228.0 150.9 L229.2 150.9 L230.4 150.9 L231.6 150.8 L232.8 150.8 L234.0 150.7 L235.2 150.6 L236.4 150.5 L237.6 150.4 L238.8 150.3 L240.0 150.1 L241.2 149.9 L242.4 149.6 L243.6 149.4 L244.8 149.0 L246.0 148.6 L247.2 148.2 L248.4 147.7 L249.6 147.2 L250.8 146.6 L252.0 146.0 L253.2 145.3 L254.4 144.6 L255.6 143.8 L256.8 143.0 L258.0 142.2 L259.2 141.4 L260.4 140.6 L261.6 139.8 L262.8 139.1 L264.0 138.4 L265.2 137.7 L266.4 137.2 L267.6 136.7 L268.8 136.3 L270.0 136.1 L271.2 135.9 L272.4 135.9 L273.6 136.0 L274.8 136.2 L276.0 136.5 L277.2 136.9 L278.4 137.5 L279.6 138.1 L280.8 138.8 L282.0 139.6 L283.2 140.4 L284.4 141.2 L285.6 142.0 L286.8 142.9 L288.0 143.7 L289.2 144.5 L290.4 145.2 L291.6 145.9 L292.8 146.6 L294.0 147.2 L295.2 147.8 L296.4 148.3 L297.6 148.7 L298.8 149.1 L300.0 149.4" fill="none" stroke="url(#mg4)" stroke-width="0.75"/>
<path d="M228.0 151.0 L229.2 150.9 L230.4 150.9 L231.6 150.9 L232.8 150.9 L234.0 150.8 L235.2 150.8 L236.4 150.7 L237.6 150.6 L238.8 150.5 L240.0 150.4 L241.2 150.3 L242.4 150.1 L243.6 149.9 L244.8 149.7 L246.0 149.4 L247.2 149.1 L248.4 148.8 L249.6 148.4 L250.8 147.9 L252.0 147.4 L253.2 146.9 L254.4 146.3 L255.6 145.7 L256.8 145.1 L258.0 144.4 L259.2 143.7 L260.4 143.0 L261.6 142.2 L262.8 141.5 L264.0 140.9 L265.2 140.2 L266.4 139.6 L267.6 139.1 L268.8 138.6 L270.0 138.3 L271.2 138.0 L272.4 137.8 L273.6 137.7 L274.8 137.7 L276.0 137.8 L277.2 138.1 L278.4 138.4 L279.6 138.8 L280.8 139.3 L282.0 139.9 L283.2 140.6 L284.4 141.3 L285.6 142.0 L286.8 142.7 L288.0 143.5 L289.2 144.2 L290.4 144.9 L291.6 145.6 L292.8 146.2 L294.0 146.8 L295.2 147.4 L296.4 147.9 L297.6 148.4 L298.8 148.8 L300.0 149.1" fill="none" stroke="url(#mg4)" stroke-width="0.75"/>
<path d="M228.0 151.0 L229.2 151.0 L230.4 151.0 L231.6 150.9 L232.8 150.9 L234.0 150.9 L235.2 150.9 L236.4 150.8 L237.6 150.8 L238.8 150.7 L240.0 150.7 L241.2 150.6 L242.4 150.5 L243.6 150.3 L244.8 150.2 L246.0 150.0 L247.2 149.8 L248.4 149.5 L249.6 149.2 L250.8 148.9 L252.0 148.6 L253.2 148.2 L254.4 147.7 L255.6 147.2 L256.8 146.7 L258.0 146.2 L259.2 145.6 L260.4 145.0 L261.6 144.4 L262.8 143.8 L264.0 143.2 L265.2 142.6 L266.4 142.0 L267.6 141.5 L268.8 141.0 L270.0 140.5 L271.2 140.2 L272.4 139.9 L273.6 139.7 L274.8 139.5 L276.0 139.5 L277.2 139.6 L278.4 139.7 L279.6 140.0 L280.8 140.3 L282.0 140.7 L283.2 141.2 L284.4 141.7 L285.6 142.3 L286.8 142.9 L288.0 143.5 L289.2 144.1 L290.4 144.8 L291.6 145.4 L292.8 146.0 L294.0 146.6 L295.2 147.1 L296.4 147.6 L297.6 148.1 L298.8 148.5 L300.0 148.9" fill="none" stroke="url(#mg4)" stroke-width="0.75"/>
<path d="M228.0 151.0 L229.2 151.0 L230.4 151.0 L231.6 151.0 L232.8 151.0 L234.0 150.9 L235.2 150.9 L236.4 150.9 L237.6 150.9 L238.8 150.8 L240.0 150.8 L241.2 150.7 L242.4 150.7 L243.6 150.6 L244.8 150.5 L246.0 150.4 L247.2 150.2 L248.4 150.1 L249.6 149.9 L250.8 149.6 L252.0 149.4 L253.2 149.1 L254.4 148.8 L255.6 148.4 L256.8 148.1 L258.0 147.6 L259.2 147.2 L260.4 146.7 L261.6 146.2 L262.8 145.7 L264.0 145.2 L265.2 144.7 L266.4 144.2 L267.6 143.7 L268.8 143.2 L270.0 142.8 L271.2 142.4 L272.4 142.0 L273.6 141.8 L274.8 141.5 L276.0 141.4 L277.2 141.3 L278.4 141.3 L279.6 141.4 L280.8 141.6 L282.0 141.8 L283.2 142.1 L284.4 142.5 L285.6 142.9 L286.8 143.4 L288.0 143.9 L289.2 144.4 L290.4 144.9 L291.6 145.5 L292.8 146.0 L294.0 146.5 L295.2 147.0 L296.4 147.5 L297.6 147.9 L298.8 148.3 L300.0 148.7" fill="none" stroke="url(#mg4)" stroke-width="0.75"/>
<path d="M228.0 151.0 L229.2 151.0 L230.4 151.0 L231.6 151.0 L232.8 151.0 L234.0 151.0 L235.2 151.0 L236.4 151.0 L237.6 150.9 L238.8 150.9 L240.0 150.9 L241.2 150.9 L242.4 150.8 L243.6 150.8 L244.8 150.7 L246.0 150.6 L247.2 150.5 L248.4 150.4 L249.6 150.3 L250.8 150.2 L252.0 150.0 L253.2 149.8 L254.4 149.6 L255.6 149.4 L256.8 149.1 L258.0 148.8 L259.2 148.5 L260.4 148.1 L261.6 147.7 L262.8 147.3 L264.0 146.9 L265.2 146.5 L266.4 146.1 L267.6 145.7 L268.8 145.3 L270.0 144.9 L271.2 144.5 L272.4 144.2 L273.6 143.9 L274.8 143.6 L276.0 143.4 L277.2 143.3 L278.4 143.2 L279.6 143.1 L280.8 143.2 L282.0 143.3 L283.2 143.4 L284.4 143.6 L285.6 143.9 L286.8 144.2 L288.0 144.6 L289.2 145.0 L290.4 145.4 L291.6 145.8 L292.8 146.3 L294.0 146.7 L295.2 147.1 L296.4 147.5 L297.6 147.9 L298.8 148.3 L300.0 148.7" fill="none" stroke="url(#mg4)" stroke-width="0.75"/>
<linearGradient id="mg5" gradientUnits="userSpaceOnUse" x1="0" y1="113.4" x2="0" y2="134.0"><stop offset="0" stop-color="#4aa9cf" stop-opacity="0.95"/><stop offset="0.55" stop-color="#6cc0e0" stop-opacity="0.6"/><stop offset="1" stop-color="#9ad6ec" stop-opacity="0"/></linearGradient>
<path d="M308.0 133.0 L308.0 132.3 L309.1 132.1 L310.1 131.9 L311.2 131.6 L312.3 131.3 L313.3 130.9 L314.4 130.5 L315.5 130.0 L316.5 129.5 L317.6 128.8 L318.7 128.2 L319.7 127.4 L320.8 126.6 L321.9 125.7 L322.9 124.7 L324.0 123.7 L325.1 122.7 L326.1 121.6 L327.2 120.5 L328.3 119.5 L329.3 118.5 L330.4 117.5 L331.5 116.6 L332.5 115.7 L333.6 115.0 L334.7 114.4 L335.7 113.9 L336.8 113.6 L337.9 113.4 L338.9 113.4 L340.0 113.6 L341.1 113.9 L342.1 114.3 L343.2 114.9 L344.3 115.6 L345.3 116.4 L346.4 117.3 L347.5 118.3 L348.5 119.3 L349.6 120.4 L350.7 121.4 L351.7 122.5 L352.8 123.5 L353.9 124.6 L354.9 125.5 L356.0 126.4 L357.1 127.3 L358.1 128.0 L359.2 128.7 L360.3 129.4 L361.3 129.9 L362.4 130.4 L363.5 130.9 L364.5 131.2 L365.6 131.6 L366.7 131.8 L367.7 132.1 L368.8 132.3 L369.9 132.4 L370.9 132.5 L372.0 132.6 Z" fill="url(#mg5)" opacity="0.18"/>
<path d="M308.0 132.3 L309.1 132.1 L310.1 131.9 L311.2 131.6 L312.3 131.3 L313.3 130.9 L314.4 130.5 L315.5 130.0 L316.5 129.5 L317.6 128.8 L318.7 128.2 L319.7 127.4 L320.8 126.6 L321.9 125.7 L322.9 124.7 L324.0 123.7 L325.1 122.7 L326.1 121.6 L327.2 120.5 L328.3 119.5 L329.3 118.5 L330.4 117.5 L331.5 116.6 L332.5 115.7 L333.6 115.0 L334.7 114.4 L335.7 113.9 L336.8 113.6 L337.9 113.4 L338.9 113.4 L340.0 113.6 L341.1 113.9 L342.1 114.3 L343.2 114.9 L344.3 115.6 L345.3 116.4 L346.4 117.3 L347.5 118.3 L348.5 119.3 L349.6 120.4 L350.7 121.4 L351.7 122.5 L352.8 123.5 L353.9 124.6 L354.9 125.5 L356.0 126.4 L357.1 127.3 L358.1 128.0 L359.2 128.7 L360.3 129.4 L361.3 129.9 L362.4 130.4 L363.5 130.9 L364.5 131.2 L365.6 131.6 L366.7 131.8 L367.7 132.1 L368.8 132.3 L369.9 132.4 L370.9 132.5 L372.0 132.6" fill="none" stroke="url(#mg5)" stroke-width="0.75"/>
<path d="M308.0 132.5 L309.1 132.4 L310.1 132.3 L311.2 132.1 L312.3 131.9 L313.3 131.6 L314.4 131.3 L315.5 130.9 L316.5 130.5 L317.6 130.0 L318.7 129.5 L319.7 128.9 L320.8 128.2 L321.9 127.5 L322.9 126.7 L324.0 125.8 L325.1 124.9 L326.1 124.0 L327.2 123.0 L328.3 122.0 L329.3 121.1 L330.4 120.1 L331.5 119.2 L332.5 118.3 L333.6 117.5 L334.7 116.7 L335.7 116.1 L336.8 115.6 L337.9 115.2 L338.9 115.0 L340.0 114.9 L341.1 114.9 L342.1 115.1 L343.2 115.5 L344.3 115.9 L345.3 116.5 L346.4 117.2 L347.5 118.0 L348.5 118.9 L349.6 119.8 L350.7 120.8 L351.7 121.7 L352.8 122.7 L353.9 123.7 L354.9 124.7 L356.0 125.6 L357.1 126.4 L358.1 127.3 L359.2 128.0 L360.3 128.7 L361.3 129.3 L362.4 129.9 L363.5 130.4 L364.5 130.8 L365.6 131.2 L366.7 131.5 L367.7 131.8 L368.8 132.0 L369.9 132.2 L370.9 132.4 L372.0 132.5" fill="none" stroke="url(#mg5)" stroke-width="0.75"/>
<path d="M308.0 132.7 L309.1 132.6 L310.1 132.5 L311.2 132.4 L312.3 132.3 L313.3 132.1 L314.4 131.9 L315.5 131.6 L316.5 131.3 L317.6 130.9 L318.7 130.5 L319.7 130.1 L320.8 129.5 L321.9 129.0 L322.9 128.3 L324.0 127.6 L325.1 126.9 L326.1 126.1 L327.2 125.2 L328.3 124.4 L329.3 123.5 L330.4 122.5 L331.5 121.6 L332.5 120.8 L333.6 119.9 L334.7 119.1 L335.7 118.4 L336.8 117.8 L337.9 117.3 L338.9 116.8 L340.0 116.5 L341.1 116.4 L342.1 116.3 L343.2 116.4 L344.3 116.7 L345.3 117.0 L346.4 117.5 L347.5 118.1 L348.5 118.8 L349.6 119.6 L350.7 120.4 L351.7 121.2 L352.8 122.1 L353.9 123.0 L354.9 123.9 L356.0 124.8 L357.1 125.7 L358.1 126.5 L359.2 127.3 L360.3 128.0 L361.3 128.7 L362.4 129.3 L363.5 129.8 L364.5 130.3 L365.6 130.8 L366.7 131.1 L367.7 131.5 L368.8 131.7 L369.9 132.0 L370.9 132.2 L372.0 132.3" fill="none" stroke="url(#mg5)" stroke-width="0.75"/>
<path d="M308.0 132.8 L309.1 132.8 L310.1 132.7 L311.2 132.6 L312.3 132.5 L313.3 132.4 L314.4 132.3 L315.5 132.1 L316.5 131.9 L317.6 131.6 L318.7 131.3 L319.7 131.0 L320.8 130.6 L321.9 130.1 L322.9 129.6 L324.0 129.1 L325.1 128.5 L326.1 127.8 L327.2 127.1 L328.3 126.4 L329.3 125.6 L330.4 124.8 L331.5 123.9 L332.5 123.1 L333.6 122.3 L334.7 121.5 L335.7 120.8 L336.8 120.1 L337.9 119.4 L338.9 118.9 L340.0 118.5 L341.1 118.1 L342.1 117.9 L343.2 117.8 L344.3 117.8 L345.3 118.0 L346.4 118.3 L347.5 118.6 L348.5 119.1 L349.6 119.7 L350.7 120.3 L351.7 121.1 L352.8 121.8 L353.9 122.6 L354.9 123.4 L356.0 124.3 L357.1 125.1 L358.1 125.9 L359.2 126.7 L360.3 127.4 L361.3 128.1 L362.4 128.7 L363.5 129.3 L364.5 129.8 L365.6 130.3 L366.7 130.7 L367.7 131.1 L368.8 131.4 L369.9 131.7 L370.9 132.0 L372.0 132.2" fill="none" stroke="url(#mg5)" stroke-width="0.75"/>
<path d="M308.0 132.9 L309.1 132.9 L310.1 132.8 L311.2 132.8 L312.3 132.7 L313.3 132.6 L314.4 132.5 L315.5 132.4 L316.5 132.3 L317.6 132.1 L318.7 131.9 L319.7 131.6 L320.8 131.3 L321.9 131.0 L322.9 130.6 L324.0 130.2 L325.1 129.8 L326.1 129.2 L327.2 128.7 L328.3 128.0 L329.3 127.4 L330.4 126.7 L331.5 126.0 L332.5 125.2 L333.6 124.5 L334.7 123.8 L335.7 123.0 L336.8 122.3 L337.9 121.7 L338.9 121.1 L340.0 120.5 L341.1 120.1 L342.1 119.7 L343.2 119.5 L344.3 119.3 L345.3 119.3 L346.4 119.4 L347.5 119.5 L348.5 119.8 L349.6 120.2 L350.7 120.7 L351.7 121.2 L352.8 121.8 L353.9 122.5 L354.9 123.2 L356.0 123.9 L357.1 124.7 L358.1 125.4 L359.2 126.2 L360.3 126.9 L361.3 127.6 L362.4 128.2 L363.5 128.8 L364.5 129.4 L365.6 129.9 L366.7 130.3 L367.7 130.8 L368.8 131.1 L369.9 131.4 L370.9 131.7 L372.0 131.9" fill="none" stroke="url(#mg5)" stroke-width="0.75"/>
<path d="M308.0 132.9 L309.1 132.9 L310.1 132.9 L311.2 132.9 L312.3 132.8 L313.3 132.8 L314.4 132.7 L315.5 132.6 L316.5 132.5 L317.6 132.4 L318.7 132.3 L319.7 132.1 L320.8 131.9 L321.9 131.7 L322.9 131.4 L324.0 131.1 L325.1 130.7 L326.1 130.3 L327.2 129.9 L328.3 129.4 L329.3 128.9 L330.4 128.3 L331.5 127.7 L332.5 127.1 L333.6 126.5 L334.7 125.8 L335.7 125.1 L336.8 124.5 L337.9 123.8 L338.9 123.2 L340.0 122.6 L341.1 122.1 L342.1 121.7 L343.2 121.3 L344.3 121.0 L345.3 120.9 L346.4 120.8 L347.5 120.8 L348.5 120.9 L349.6 121.1 L350.7 121.4 L351.7 121.7 L352.8 122.2 L353.9 122.7 L354.9 123.3 L356.0 123.9 L357.1 124.5 L358.1 125.2 L359.2 125.9 L360.3 126.5 L361.3 127.2 L362.4 127.8 L363.5 128.4 L364.5 129.0 L365.6 129.5 L366.7 130.0 L367.7 130.4 L368.8 130.8 L369.9 131.1 L370.9 131.4 L372.0 131.7" fill="none" stroke="url(#mg5)" stroke-width="0.75"/>
<path d="M308.0 133.0 L309.1 133.0 L310.1 132.9 L311.2 132.9 L312.3 132.9 L313.3 132.9 L314.4 132.8 L315.5 132.8 L316.5 132.7 L317.6 132.6 L318.7 132.5 L319.7 132.4 L320.8 132.3 L321.9 132.1 L322.9 132.0 L324.0 131.7 L325.1 131.5 L326.1 131.2 L327.2 130.9 L328.3 130.5 L329.3 130.1 L330.4 129.7 L331.5 129.2 L332.5 128.7 L333.6 128.1 L334.7 127.6 L335.7 127.0 L336.8 126.4 L337.9 125.8 L338.9 125.2 L340.0 124.7 L341.1 124.2 L342.1 123.7 L343.2 123.3 L344.3 122.9 L345.3 122.6 L346.4 122.4 L347.5 122.3 L348.5 122.2 L349.6 122.3 L350.7 122.4 L351.7 122.6 L352.8 122.9 L353.9 123.3 L354.9 123.7 L356.0 124.2 L357.1 124.7 L358.1 125.2 L359.2 125.8 L360.3 126.4 L361.3 127.0 L362.4 127.6 L363.5 128.1 L364.5 128.7 L365.6 129.2 L366.7 129.7 L367.7 130.1 L368.8 130.5 L369.9 130.9 L370.9 131.2 L372.0 131.5" fill="none" stroke="url(#mg5)" stroke-width="0.75"/>
<path d="M308.0 133.0 L309.1 133.0 L310.1 133.0 L311.2 133.0 L312.3 132.9 L313.3 132.9 L314.4 132.9 L315.5 132.9 L316.5 132.8 L317.6 132.8 L318.7 132.7 L319.7 132.7 L320.8 132.6 L321.9 132.5 L322.9 132.3 L324.0 132.2 L325.1 132.0 L326.1 131.8 L327.2 131.6 L328.3 131.3 L329.3 131.0 L330.4 130.7 L331.5 130.3 L332.5 129.9 L333.6 129.5 L334.7 129.1 L335.7 128.6 L336.8 128.1 L337.9 127.6 L338.9 127.1 L340.0 126.6 L341.1 126.1 L342.1 125.6 L343.2 125.2 L344.3 124.8 L345.3 124.4 L346.4 124.2 L347.5 123.9 L348.5 123.8 L349.6 123.7 L350.7 123.7 L351.7 123.8 L352.8 123.9 L353.9 124.1 L354.9 124.4 L356.0 124.7 L357.1 125.1 L358.1 125.6 L359.2 126.0 L360.3 126.5 L361.3 127.0 L362.4 127.5 L363.5 128.0 L364.5 128.5 L365.6 129.0 L366.7 129.4 L367.7 129.9 L368.8 130.3 L369.9 130.6 L370.9 131.0 L372.0 131.3" fill="none" stroke="url(#mg5)" stroke-width="0.75"/>
<path d="M308.0 133.0 L309.1 133.0 L310.1 133.0 L311.2 133.0 L312.3 133.0 L313.3 133.0 L314.4 132.9 L315.5 132.9 L316.5 132.9 L317.6 132.9 L318.7 132.8 L319.7 132.8 L320.8 132.7 L321.9 132.7 L322.9 132.6 L324.0 132.5 L325.1 132.4 L326.1 132.3 L327.2 132.1 L328.3 131.9 L329.3 131.7 L330.4 131.5 L331.5 131.2 L332.5 130.9 L333.6 130.6 L334.7 130.3 L335.7 129.9 L336.8 129.5 L337.9 129.1 L338.9 128.7 L340.0 128.3 L341.1 127.8 L342.1 127.4 L343.2 127.0 L344.3 126.6 L345.3 126.3 L346.4 126.0 L347.5 125.7 L348.5 125.5 L349.6 125.3 L350.7 125.2 L351.7 125.2 L352.8 125.2 L353.9 125.3 L354.9 125.4 L356.0 125.6 L357.1 125.9 L358.1 126.2 L359.2 126.5 L360.3 126.9 L361.3 127.3 L362.4 127.7 L363.5 128.1 L364.5 128.6 L365.6 129.0 L366.7 129.4 L367.7 129.8 L368.8 130.2 L369.9 130.5 L370.9 130.8 L372.0 131.1" fill="none" stroke="url(#mg5)" stroke-width="0.75"/>
<path d="M308.0 133.0 L309.1 133.0 L310.1 133.0 L311.2 133.0 L312.3 133.0 L313.3 133.0 L314.4 133.0 L315.5 133.0 L316.5 133.0 L317.6 132.9 L318.7 132.9 L319.7 132.9 L320.8 132.9 L321.9 132.8 L322.9 132.8 L324.0 132.7 L325.1 132.6 L326.1 132.6 L327.2 132.5 L328.3 132.3 L329.3 132.2 L330.4 132.1 L331.5 131.9 L332.5 131.7 L333.6 131.5 L334.7 131.2 L335.7 130.9 L336.8 130.7 L337.9 130.3 L338.9 130.0 L340.0 129.7 L341.1 129.3 L342.1 129.0 L343.2 128.7 L344.3 128.3 L345.3 128.0 L346.4 127.7 L347.5 127.4 L348.5 127.2 L349.6 127.0 L350.7 126.8 L351.7 126.7 L352.8 126.6 L353.9 126.6 L354.9 126.7 L356.0 126.8 L357.1 126.9 L358.1 127.1 L359.2 127.3 L360.3 127.6 L361.3 127.9 L362.4 128.2 L363.5 128.5 L364.5 128.8 L365.6 129.2 L366.7 129.5 L367.7 129.9 L368.8 130.2 L369.9 130.5 L370.9 130.8 L372.0 131.1" fill="none" stroke="url(#mg5)" stroke-width="0.75"/>
<linearGradient id="mg6" gradientUnits="userSpaceOnUse" x1="0" y1="56.0" x2="0" y2="77.0"><stop offset="0" stop-color="#4aa9cf" stop-opacity="0.95"/><stop offset="0.55" stop-color="#6cc0e0" stop-opacity="0.6"/><stop offset="1" stop-color="#9ad6ec" stop-opacity="0"/></linearGradient>
<path d="M678.0 76.0 L678.0 75.3 L679.1 75.1 L680.3 74.8 L681.4 74.5 L682.5 74.2 L683.7 73.8 L684.8 73.3 L685.9 72.8 L687.1 72.2 L688.2 71.5 L689.3 70.7 L690.5 69.9 L691.6 68.9 L692.7 68.0 L693.9 66.9 L695.0 65.8 L696.1 64.7 L697.3 63.5 L698.4 62.4 L699.5 61.3 L700.7 60.2 L701.8 59.3 L702.9 58.4 L704.1 57.6 L705.2 57.0 L706.3 56.5 L707.5 56.2 L708.6 56.0 L709.7 56.0 L710.9 56.2 L712.0 56.5 L713.1 57.0 L714.3 57.6 L715.4 58.3 L716.5 59.1 L717.7 59.9 L718.8 60.9 L719.9 61.9 L721.1 62.9 L722.2 64.0 L723.3 65.0 L724.5 66.1 L725.6 67.1 L726.7 68.0 L727.9 68.9 L729.0 69.8 L730.1 70.6 L731.3 71.3 L732.4 72.0 L733.5 72.6 L734.7 73.1 L735.8 73.5 L736.9 74.0 L738.1 74.3 L739.2 74.6 L740.3 74.9 L741.5 75.1 L742.6 75.3 L743.7 75.4 L744.9 75.5 L746.0 75.6 Z" fill="url(#mg6)" opacity="0.18"/>
<path d="M678.0 75.3 L679.1 75.1 L680.3 74.8 L681.4 74.5 L682.5 74.2 L683.7 73.8 L684.8 73.3 L685.9 72.8 L687.1 72.2 L688.2 71.5 L689.3 70.7 L690.5 69.9 L691.6 68.9 L692.7 68.0 L693.9 66.9 L695.0 65.8 L696.1 64.7 L697.3 63.5 L698.4 62.4 L699.5 61.3 L700.7 60.2 L701.8 59.3 L702.9 58.4 L704.1 57.6 L705.2 57.0 L706.3 56.5 L707.5 56.2 L708.6 56.0 L709.7 56.0 L710.9 56.2 L712.0 56.5 L713.1 57.0 L714.3 57.6 L715.4 58.3 L716.5 59.1 L717.7 59.9 L718.8 60.9 L719.9 61.9 L721.1 62.9 L722.2 64.0 L723.3 65.0 L724.5 66.1 L725.6 67.1 L726.7 68.0 L727.9 68.9 L729.0 69.8 L730.1 70.6 L731.3 71.3 L732.4 72.0 L733.5 72.6 L734.7 73.1 L735.8 73.5 L736.9 74.0 L738.1 74.3 L739.2 74.6 L740.3 74.9 L741.5 75.1 L742.6 75.3 L743.7 75.4 L744.9 75.5 L746.0 75.6" fill="none" stroke="url(#mg6)" stroke-width="0.75"/>
<path d="M678.0 75.5 L679.1 75.4 L680.3 75.3 L681.4 75.1 L682.5 74.8 L683.7 74.5 L684.8 74.2 L685.9 73.8 L687.1 73.4 L688.2 72.8 L689.3 72.2 L690.5 71.6 L691.6 70.8 L692.7 70.0 L693.9 69.1 L695.0 68.2 L696.1 67.2 L697.3 66.2 L698.4 65.1 L699.5 64.1 L700.7 63.1 L701.8 62.0 L702.9 61.1 L704.1 60.2 L705.2 59.4 L706.3 58.8 L707.5 58.2 L708.6 57.8 L709.7 57.6 L710.9 57.5 L712.0 57.6 L713.1 57.8 L714.3 58.1 L715.4 58.6 L716.5 59.2 L717.7 59.8 L718.8 60.6 L719.9 61.5 L721.1 62.4 L722.2 63.3 L723.3 64.3 L724.5 65.2 L725.6 66.2 L726.7 67.1 L727.9 68.1 L729.0 68.9 L730.1 69.8 L731.3 70.5 L732.4 71.2 L733.5 71.9 L734.7 72.5 L735.8 73.0 L736.9 73.5 L738.1 73.9 L739.2 74.2 L740.3 74.5 L741.5 74.8 L742.6 75.0 L743.7 75.2 L744.9 75.4 L746.0 75.5" fill="none" stroke="url(#mg6)" stroke-width="0.75"/>
<path d="M678.0 75.7 L679.1 75.6 L680.3 75.5 L681.4 75.4 L682.5 75.3 L683.7 75.1 L684.8 74.8 L685.9 74.6 L687.1 74.2 L688.2 73.8 L689.3 73.4 L690.5 72.9 L691.6 72.3 L692.7 71.7 L693.9 71.0 L695.0 70.2 L696.1 69.4 L697.3 68.5 L698.4 67.6 L699.5 66.6 L700.7 65.7 L701.8 64.7 L702.9 63.8 L704.1 62.8 L705.2 62.0 L706.3 61.2 L707.5 60.5 L708.6 60.0 L709.7 59.5 L710.9 59.2 L712.0 59.0 L713.1 59.0 L714.3 59.1 L715.4 59.4 L716.5 59.7 L717.7 60.2 L718.8 60.8 L719.9 61.4 L721.1 62.1 L722.2 62.9 L723.3 63.8 L724.5 64.7 L725.6 65.5 L726.7 66.4 L727.9 67.3 L729.0 68.2 L730.1 69.0 L731.3 69.8 L732.4 70.5 L733.5 71.2 L734.7 71.8 L735.8 72.4 L736.9 72.9 L738.1 73.4 L739.2 73.8 L740.3 74.2 L741.5 74.5 L742.6 74.8 L743.7 75.0 L744.9 75.2 L746.0 75.3" fill="none" stroke="url(#mg6)" stroke-width="0.75"/>
<path d="M678.0 75.8 L679.1 75.8 L680.3 75.7 L681.4 75.6 L682.5 75.5 L683.7 75.4 L684.8 75.3 L685.9 75.1 L687.1 74.8 L688.2 74.6 L689.3 74.3 L690.5 73.9 L691.6 73.5 L692.7 73.0 L693.9 72.4 L695.0 71.8 L696.1 71.2 L697.3 70.5 L698.4 69.7 L699.5 68.9 L700.7 68.0 L701.8 67.1 L702.9 66.3 L704.1 65.4 L705.2 64.5 L706.3 63.7 L707.5 63.0 L708.6 62.3 L709.7 61.7 L710.9 61.2 L712.0 60.8 L713.1 60.6 L714.3 60.5 L715.4 60.5 L716.5 60.7 L717.7 60.9 L718.8 61.3 L719.9 61.8 L721.1 62.3 L722.2 62.9 L723.3 63.6 L724.5 64.4 L725.6 65.2 L726.7 66.0 L727.9 66.8 L729.0 67.6 L730.1 68.4 L731.3 69.1 L732.4 69.9 L733.5 70.6 L734.7 71.2 L735.8 71.9 L736.9 72.4 L738.1 72.9 L739.2 73.4 L740.3 73.8 L741.5 74.1 L742.6 74.4 L743.7 74.7 L744.9 74.9 L746.0 75.1" fill="none" stroke="url(#mg6)" stroke-width="0.75"/>
<path d="M678.0 75.9 L679.1 75.9 L680.3 75.8 L681.4 75.8 L682.5 75.7 L683.7 75.6 L684.8 75.5 L685.9 75.4 L687.1 75.3 L688.2 75.1 L689.3 74.9 L690.5 74.6 L691.6 74.3 L692.7 74.0 L693.9 73.6 L695.0 73.1 L696.1 72.6 L697.3 72.0 L698.4 71.4 L699.5 70.7 L700.7 70.0 L701.8 69.3 L702.9 68.5 L704.1 67.7 L705.2 66.9 L706.3 66.1 L707.5 65.4 L708.6 64.6 L709.7 64.0 L710.9 63.4 L712.0 62.9 L713.1 62.5 L714.3 62.2 L715.4 62.0 L716.5 62.0 L717.7 62.1 L718.8 62.2 L719.9 62.5 L721.1 62.9 L722.2 63.3 L723.3 63.8 L724.5 64.4 L725.6 65.1 L726.7 65.8 L727.9 66.5 L729.0 67.2 L730.1 67.9 L731.3 68.7 L732.4 69.4 L733.5 70.1 L734.7 70.7 L735.8 71.3 L736.9 71.9 L738.1 72.4 L739.2 72.9 L740.3 73.4 L741.5 73.8 L742.6 74.1 L743.7 74.4 L744.9 74.7 L746.0 74.9" fill="none" stroke="url(#mg6)" stroke-width="0.75"/>
<path d="M678.0 76.0 L679.1 75.9 L680.3 75.9 L681.4 75.9 L682.5 75.8 L683.7 75.8 L684.8 75.7 L685.9 75.7 L687.1 75.6 L688.2 75.4 L689.3 75.3 L690.5 75.1 L691.6 74.9 L692.7 74.7 L693.9 74.4 L695.0 74.1 L696.1 73.7 L697.3 73.3 L698.4 72.8 L699.5 72.3 L700.7 71.7 L701.8 71.1 L702.9 70.4 L704.1 69.7 L705.2 69.0 L706.3 68.3 L707.5 67.6 L708.6 66.9 L709.7 66.3 L710.9 65.6 L712.0 65.1 L713.1 64.6 L714.3 64.2 L715.4 63.8 L716.5 63.6 L717.7 63.5 L718.8 63.5 L719.9 63.6 L721.1 63.8 L722.2 64.1 L723.3 64.4 L724.5 64.8 L725.6 65.3 L726.7 65.9 L727.9 66.5 L729.0 67.1 L730.1 67.7 L731.3 68.4 L732.4 69.0 L733.5 69.7 L734.7 70.3 L735.8 70.9 L736.9 71.5 L738.1 72.0 L739.2 72.5 L740.3 73.0 L741.5 73.4 L742.6 73.8 L743.7 74.1 L744.9 74.4 L746.0 74.7" fill="none" stroke="url(#mg6)" stroke-width="0.75"/>
<path d="M678.0 76.0 L679.1 76.0 L680.3 76.0 L681.4 75.9 L682.5 75.9 L683.7 75.9 L684.8 75.8 L685.9 75.8 L687.1 75.7 L688.2 75.7 L689.3 75.6 L690.5 75.5 L691.6 75.3 L692.7 75.2 L693.9 75.0 L695.0 74.7 L696.1 74.5 L697.3 74.2 L698.4 73.8 L699.5 73.4 L700.7 73.0 L701.8 72.5 L702.9 72.0 L704.1 71.5 L705.2 70.9 L706.3 70.3 L707.5 69.6 L708.6 69.0 L709.7 68.4 L710.9 67.8 L712.0 67.2 L713.1 66.7 L714.3 66.2 L715.4 65.8 L716.5 65.5 L717.7 65.2 L718.8 65.1 L719.9 65.0 L721.1 65.0 L722.2 65.1 L723.3 65.3 L724.5 65.6 L725.6 65.9 L726.7 66.3 L727.9 66.8 L729.0 67.3 L730.1 67.8 L731.3 68.4 L732.4 68.9 L733.5 69.5 L734.7 70.1 L735.8 70.6 L736.9 71.2 L738.1 71.7 L739.2 72.2 L740.3 72.7 L741.5 73.1 L742.6 73.5 L743.7 73.8 L744.9 74.2 L746.0 74.5" fill="none" stroke="url(#mg6)" stroke-width="0.75"/>
<path d="M678.0 76.0 L679.1 76.0 L680.3 76.0 L681.4 76.0 L682.5 76.0 L683.7 75.9 L684.8 75.9 L685.9 75.9 L687.1 75.9 L688.2 75.8 L689.3 75.8 L690.5 75.7 L691.6 75.6 L692.7 75.5 L693.9 75.4 L695.0 75.2 L696.1 75.0 L697.3 74.8 L698.4 74.6 L699.5 74.3 L700.7 74.0 L701.8 73.6 L702.9 73.3 L704.1 72.8 L705.2 72.4 L706.3 71.9 L707.5 71.4 L708.6 70.9 L709.7 70.3 L710.9 69.8 L712.0 69.2 L713.1 68.7 L714.3 68.2 L715.4 67.8 L716.5 67.4 L717.7 67.1 L718.8 66.8 L719.9 66.6 L721.1 66.5 L722.2 66.5 L723.3 66.6 L724.5 66.7 L725.6 66.9 L726.7 67.1 L727.9 67.4 L729.0 67.8 L730.1 68.2 L731.3 68.6 L732.4 69.1 L733.5 69.6 L734.7 70.1 L735.8 70.6 L736.9 71.1 L738.1 71.6 L739.2 72.0 L740.3 72.5 L741.5 72.9 L742.6 73.3 L743.7 73.6 L744.9 74.0 L746.0 74.2" fill="none" stroke="url(#mg6)" stroke-width="0.75"/>
<path d="M678.0 76.0 L679.1 76.0 L680.3 76.0 L681.4 76.0 L682.5 76.0 L683.7 76.0 L684.8 76.0 L685.9 75.9 L687.1 75.9 L688.2 75.9 L689.3 75.9 L690.5 75.8 L691.6 75.8 L692.7 75.7 L693.9 75.6 L695.0 75.5 L696.1 75.4 L697.3 75.3 L698.4 75.1 L699.5 74.9 L700.7 74.7 L701.8 74.5 L702.9 74.2 L704.1 73.9 L705.2 73.6 L706.3 73.2 L707.5 72.8 L708.6 72.4 L709.7 71.9 L710.9 71.5 L712.0 71.0 L713.1 70.6 L714.3 70.1 L715.4 69.7 L716.5 69.3 L717.7 69.0 L718.8 68.7 L719.9 68.4 L721.1 68.2 L722.2 68.1 L723.3 68.0 L724.5 68.0 L725.6 68.1 L726.7 68.2 L727.9 68.4 L729.0 68.6 L730.1 68.9 L731.3 69.2 L732.4 69.6 L733.5 69.9 L734.7 70.3 L735.8 70.7 L736.9 71.2 L738.1 71.6 L739.2 72.0 L740.3 72.4 L741.5 72.8 L742.6 73.2 L743.7 73.5 L744.9 73.8 L746.0 74.1" fill="none" stroke="url(#mg6)" stroke-width="0.75"/>
<path d="M678.0 76.0 L679.1 76.0 L680.3 76.0 L681.4 76.0 L682.5 76.0 L683.7 76.0 L684.8 76.0 L685.9 76.0 L687.1 76.0 L688.2 75.9 L689.3 75.9 L690.5 75.9 L691.6 75.9 L692.7 75.8 L693.9 75.8 L695.0 75.7 L696.1 75.7 L697.3 75.6 L698.4 75.5 L699.5 75.4 L700.7 75.2 L701.8 75.1 L702.9 74.9 L704.1 74.7 L705.2 74.5 L706.3 74.2 L707.5 73.9 L708.6 73.6 L709.7 73.3 L710.9 72.9 L712.0 72.6 L713.1 72.2 L714.3 71.8 L715.4 71.5 L716.5 71.1 L717.7 70.8 L718.8 70.5 L719.9 70.2 L721.1 70.0 L722.2 69.8 L723.3 69.6 L724.5 69.5 L725.6 69.5 L726.7 69.5 L727.9 69.6 L729.0 69.7 L730.1 69.9 L731.3 70.1 L732.4 70.3 L733.5 70.6 L734.7 70.9 L735.8 71.2 L736.9 71.5 L738.1 71.9 L739.2 72.2 L740.3 72.5 L741.5 72.9 L742.6 73.2 L743.7 73.5 L744.9 73.8 L746.0 74.1" fill="none" stroke="url(#mg6)" stroke-width="0.75"/>
<linearGradient id="mg7" gradientUnits="userSpaceOnUse" x1="0" y1="58.7" x2="0" y2="91.0"><stop offset="0" stop-color="#4aa9cf" stop-opacity="0.95"/><stop offset="0.55" stop-color="#6cc0e0" stop-opacity="0.6"/><stop offset="1" stop-color="#9ad6ec" stop-opacity="0"/></linearGradient>
<path d="M776.0 90.0 L776.0 88.9 L778.0 88.6 L779.9 88.2 L781.9 87.9 L783.9 87.4 L785.8 86.9 L787.8 86.3 L789.8 85.6 L791.7 84.8 L793.7 83.9 L795.7 82.9 L797.6 81.8 L799.6 80.6 L801.6 79.3 L803.5 78.0 L805.5 76.5 L807.5 75.0 L809.4 73.4 L811.4 71.9 L813.4 70.2 L815.3 68.6 L817.3 67.1 L819.3 65.6 L821.2 64.2 L823.2 62.9 L825.2 61.7 L827.1 60.7 L829.1 59.9 L831.1 59.3 L833.0 58.9 L835.0 58.7 L837.0 58.8 L838.9 59.1 L840.9 59.7 L842.9 60.6 L844.8 61.7 L846.8 63.0 L848.8 64.5 L850.7 66.1 L852.7 67.8 L854.7 69.6 L856.6 71.4 L858.6 73.2 L860.6 74.9 L862.5 76.6 L864.5 78.2 L866.5 79.8 L868.4 81.2 L870.4 82.4 L872.4 83.6 L874.3 84.6 L876.3 85.5 L878.3 86.3 L880.2 87.0 L882.2 87.5 L884.2 88.0 L886.1 88.4 L888.1 88.8 L890.1 89.0 L892.0 89.3 L894.0 89.4 Z" fill="url(#mg7)" opacity="0.18"/>
<path d="M776.0 88.9 L778.0 88.6 L779.9 88.2 L781.9 87.9 L783.9 87.4 L785.8 86.9 L787.8 86.3 L789.8 85.6 L791.7 84.8 L793.7 83.9 L795.7 82.9 L797.6 81.8 L799.6 80.6 L801.6 79.3 L803.5 78.0 L805.5 76.5 L807.5 75.0 L809.4 73.4 L811.4 71.9 L813.4 70.2 L815.3 68.6 L817.3 67.1 L819.3 65.6 L821.2 64.2 L823.2 62.9 L825.2 61.7 L827.1 60.7 L829.1 59.9 L831.1 59.3 L833.0 58.9 L835.0 58.7 L837.0 58.8 L838.9 59.1 L840.9 59.7 L842.9 60.6 L844.8 61.7 L846.8 63.0 L848.8 64.5 L850.7 66.1 L852.7 67.8 L854.7 69.6 L856.6 71.4 L858.6 73.2 L860.6 74.9 L862.5 76.6 L864.5 78.2 L866.5 79.8 L868.4 81.2 L870.4 82.4 L872.4 83.6 L874.3 84.6 L876.3 85.5 L878.3 86.3 L880.2 87.0 L882.2 87.5 L884.2 88.0 L886.1 88.4 L888.1 88.8 L890.1 89.0 L892.0 89.3 L894.0 89.4" fill="none" stroke="url(#mg7)" stroke-width="0.75"/>
<path d="M776.0 89.2 L778.0 89.0 L779.9 88.8 L781.9 88.5 L783.9 88.2 L785.8 87.8 L787.8 87.4 L789.8 86.8 L791.7 86.2 L793.7 85.5 L795.7 84.8 L797.6 83.9 L799.6 82.9 L801.6 81.9 L803.5 80.7 L805.5 79.5 L807.5 78.2 L809.4 76.8 L811.4 75.4 L813.4 73.9 L815.3 72.4 L817.3 71.0 L819.3 69.5 L821.2 68.1 L823.2 66.7 L825.2 65.5 L827.1 64.3 L829.1 63.3 L831.1 62.5 L833.0 61.8 L835.0 61.4 L837.0 61.1 L838.9 61.1 L840.9 61.2 L842.9 61.7 L844.8 62.4 L846.8 63.3 L848.8 64.4 L850.7 65.7 L852.7 67.1 L854.7 68.7 L856.6 70.3 L858.6 72.0 L860.6 73.6 L862.5 75.3 L864.5 76.9 L866.5 78.4 L868.4 79.9 L870.4 81.2 L872.4 82.4 L874.3 83.6 L876.3 84.6 L878.3 85.5 L880.2 86.2 L882.2 86.9 L884.2 87.5 L886.1 88.0 L888.1 88.4 L890.1 88.7 L892.0 89.0 L894.0 89.2" fill="none" stroke="url(#mg7)" stroke-width="0.75"/>
<path d="M776.0 89.5 L778.0 89.4 L779.9 89.2 L781.9 89.0 L783.9 88.8 L785.8 88.5 L787.8 88.2 L789.8 87.8 L791.7 87.3 L793.7 86.8 L795.7 86.2 L797.6 85.5 L799.6 84.8 L801.6 83.9 L803.5 83.0 L805.5 82.0 L807.5 80.9 L809.4 79.7 L811.4 78.5 L813.4 77.2 L815.3 75.9 L817.3 74.5 L819.3 73.2 L821.2 71.8 L823.2 70.5 L825.2 69.2 L827.1 68.0 L829.1 66.9 L831.1 65.9 L833.0 65.1 L835.0 64.4 L837.0 63.9 L838.9 63.6 L840.9 63.4 L842.9 63.5 L844.8 63.8 L846.8 64.3 L848.8 65.0 L850.7 66.0 L852.7 67.1 L854.7 68.3 L856.6 69.7 L858.6 71.2 L860.6 72.7 L862.5 74.2 L864.5 75.7 L866.5 77.2 L868.4 78.7 L870.4 80.1 L872.4 81.3 L874.3 82.5 L876.3 83.6 L878.3 84.6 L880.2 85.4 L882.2 86.2 L884.2 86.9 L886.1 87.4 L888.1 87.9 L890.1 88.3 L892.0 88.7 L894.0 89.0" fill="none" stroke="url(#mg7)" stroke-width="0.75"/>
<path d="M776.0 89.7 L778.0 89.6 L779.9 89.5 L781.9 89.4 L783.9 89.2 L785.8 89.0 L787.8 88.8 L789.8 88.5 L791.7 88.2 L793.7 87.8 L795.7 87.3 L797.6 86.8 L799.6 86.2 L801.6 85.6 L803.5 84.9 L805.5 84.1 L807.5 83.2 L809.4 82.2 L811.4 81.2 L813.4 80.1 L815.3 78.9 L817.3 77.7 L819.3 76.5 L821.2 75.3 L823.2 74.0 L825.2 72.8 L827.1 71.6 L829.1 70.5 L831.1 69.4 L833.0 68.5 L835.0 67.6 L837.0 66.9 L838.9 66.4 L840.9 66.0 L842.9 65.8 L844.8 65.7 L846.8 65.9 L848.8 66.3 L850.7 66.9 L852.7 67.6 L854.7 68.6 L856.6 69.7 L858.6 70.9 L860.6 72.2 L862.5 73.5 L864.5 74.9 L866.5 76.3 L868.4 77.7 L870.4 79.0 L872.4 80.3 L874.3 81.5 L876.3 82.7 L878.3 83.7 L880.2 84.6 L882.2 85.5 L884.2 86.2 L886.1 86.9 L888.1 87.4 L890.1 87.9 L892.0 88.3 L894.0 88.7" fill="none" stroke="url(#mg7)" stroke-width="0.75"/>
<path d="M776.0 89.8 L778.0 89.7 L779.9 89.7 L781.9 89.6 L783.9 89.5 L785.8 89.3 L787.8 89.2 L789.8 89.0 L791.7 88.8 L793.7 88.5 L795.7 88.2 L797.6 87.8 L799.6 87.4 L801.6 86.9 L803.5 86.3 L805.5 85.7 L807.5 85.0 L809.4 84.2 L811.4 83.4 L813.4 82.5 L815.3 81.5 L817.3 80.5 L819.3 79.4 L821.2 78.3 L823.2 77.2 L825.2 76.1 L827.1 75.0 L829.1 73.9 L831.1 72.8 L833.0 71.9 L835.0 71.0 L837.0 70.2 L838.9 69.5 L840.9 68.9 L842.9 68.5 L844.8 68.2 L846.8 68.1 L848.8 68.1 L850.7 68.4 L852.7 68.8 L854.7 69.4 L856.6 70.2 L858.6 71.1 L860.6 72.2 L862.5 73.3 L864.5 74.5 L866.5 75.8 L868.4 77.0 L870.4 78.3 L872.4 79.5 L874.3 80.7 L876.3 81.8 L878.3 82.9 L880.2 83.9 L882.2 84.8 L884.2 85.6 L886.1 86.3 L888.1 86.9 L890.1 87.4 L892.0 87.9 L894.0 88.3" fill="none" stroke="url(#mg7)" stroke-width="0.75"/>
<path d="M776.0 89.9 L778.0 89.8 L779.9 89.8 L781.9 89.7 L783.9 89.7 L785.8 89.6 L787.8 89.5 L789.8 89.3 L791.7 89.2 L793.7 89.0 L795.7 88.8 L797.6 88.5 L799.6 88.2 L801.6 87.8 L803.5 87.4 L805.5 87.0 L807.5 86.4 L809.4 85.8 L811.4 85.2 L813.4 84.5 L815.3 83.7 L817.3 82.9 L819.3 82.0 L821.2 81.0 L823.2 80.1 L825.2 79.1 L827.1 78.1 L829.1 77.1 L831.1 76.1 L833.0 75.1 L835.0 74.2 L837.0 73.4 L838.9 72.6 L840.9 72.0 L842.9 71.4 L844.8 71.0 L846.8 70.6 L848.8 70.5 L850.7 70.4 L852.7 70.6 L854.7 70.9 L856.6 71.4 L858.6 72.0 L860.6 72.8 L862.5 73.6 L864.5 74.6 L866.5 75.7 L868.4 76.8 L870.4 77.9 L872.4 79.0 L874.3 80.1 L876.3 81.2 L878.3 82.2 L880.2 83.2 L882.2 84.1 L884.2 84.9 L886.1 85.7 L888.1 86.4 L890.1 87.0 L892.0 87.5 L894.0 87.9" fill="none" stroke="url(#mg7)" stroke-width="0.75"/>
<path d="M776.0 89.9 L778.0 89.9 L779.9 89.9 L781.9 89.8 L783.9 89.8 L785.8 89.7 L787.8 89.7 L789.8 89.6 L791.7 89.5 L793.7 89.4 L795.7 89.2 L797.6 89.0 L799.6 88.8 L801.6 88.5 L803.5 88.3 L805.5 87.9 L807.5 87.5 L809.4 87.1 L811.4 86.6 L813.4 86.0 L815.3 85.4 L817.3 84.8 L819.3 84.1 L821.2 83.3 L823.2 82.5 L825.2 81.7 L827.1 80.8 L829.1 79.9 L831.1 79.1 L833.0 78.2 L835.0 77.3 L837.0 76.5 L838.9 75.7 L840.9 75.0 L842.9 74.4 L844.8 73.9 L846.8 73.4 L848.8 73.1 L850.7 72.9 L852.7 72.8 L854.7 72.8 L856.6 73.0 L858.6 73.4 L860.6 73.9 L862.5 74.5 L864.5 75.2 L866.5 76.0 L868.4 76.9 L870.4 77.9 L872.4 78.9 L874.3 79.8 L876.3 80.8 L878.3 81.8 L880.2 82.7 L882.2 83.6 L884.2 84.4 L886.1 85.2 L888.1 85.9 L890.1 86.5 L892.0 87.1 L894.0 87.6" fill="none" stroke="url(#mg7)" stroke-width="0.75"/>
<path d="M776.0 90.0 L778.0 89.9 L779.9 89.9 L781.9 89.9 L783.9 89.9 L785.8 89.8 L787.8 89.8 L789.8 89.8 L791.7 89.7 L793.7 89.6 L795.7 89.5 L797.6 89.4 L799.6 89.2 L801.6 89.1 L803.5 88.9 L805.5 88.6 L807.5 88.3 L809.4 88.0 L811.4 87.7 L813.4 87.3 L815.3 86.8 L817.3 86.3 L819.3 85.8 L821.2 85.2 L823.2 84.6 L825.2 83.9 L827.1 83.2 L829.1 82.4 L831.1 81.7 L833.0 80.9 L835.0 80.2 L837.0 79.4 L838.9 78.7 L840.9 78.0 L842.9 77.3 L844.8 76.8 L846.8 76.3 L848.8 75.8 L850.7 75.5 L852.7 75.3 L854.7 75.2 L856.6 75.1 L858.6 75.2 L860.6 75.5 L862.5 75.8 L864.5 76.3 L866.5 76.9 L868.4 77.6 L870.4 78.3 L872.4 79.1 L874.3 80.0 L876.3 80.8 L878.3 81.7 L880.2 82.5 L882.2 83.3 L884.2 84.1 L886.1 84.9 L888.1 85.5 L890.1 86.2 L892.0 86.7 L894.0 87.3" fill="none" stroke="url(#mg7)" stroke-width="0.75"/>
<path d="M776.0 90.0 L778.0 90.0 L779.9 90.0 L781.9 90.0 L783.9 89.9 L785.8 89.9 L787.8 89.9 L789.8 89.9 L791.7 89.8 L793.7 89.8 L795.7 89.7 L797.6 89.6 L799.6 89.5 L801.6 89.4 L803.5 89.3 L805.5 89.1 L807.5 88.9 L809.4 88.7 L811.4 88.5 L813.4 88.2 L815.3 87.9 L817.3 87.5 L819.3 87.1 L821.2 86.7 L823.2 86.2 L825.2 85.7 L827.1 85.1 L829.1 84.5 L831.1 83.9 L833.0 83.3 L835.0 82.7 L837.0 82.0 L838.9 81.4 L840.9 80.8 L842.9 80.2 L844.8 79.6 L846.8 79.1 L848.8 78.6 L850.7 78.2 L852.7 77.9 L854.7 77.7 L856.6 77.5 L858.6 77.5 L860.6 77.5 L862.5 77.7 L864.5 77.9 L866.5 78.3 L868.4 78.7 L870.4 79.3 L872.4 79.9 L874.3 80.5 L876.3 81.2 L878.3 81.9 L880.2 82.6 L882.2 83.4 L884.2 84.1 L886.1 84.7 L888.1 85.4 L890.1 86.0 L892.0 86.5 L894.0 87.0" fill="none" stroke="url(#mg7)" stroke-width="0.75"/>
<path d="M776.0 90.0 L778.0 90.0 L779.9 90.0 L781.9 90.0 L783.9 90.0 L785.8 90.0 L787.8 89.9 L789.8 89.9 L791.7 89.9 L793.7 89.9 L795.7 89.8 L797.6 89.8 L799.6 89.7 L801.6 89.7 L803.5 89.6 L805.5 89.5 L807.5 89.4 L809.4 89.2 L811.4 89.1 L813.4 88.9 L815.3 88.6 L817.3 88.4 L819.3 88.1 L821.2 87.8 L823.2 87.5 L825.2 87.1 L827.1 86.7 L829.1 86.3 L831.1 85.8 L833.0 85.3 L835.0 84.8 L837.0 84.3 L838.9 83.8 L840.9 83.2 L842.9 82.7 L844.8 82.2 L846.8 81.8 L848.8 81.3 L850.7 80.9 L852.7 80.6 L854.7 80.3 L856.6 80.1 L858.6 79.9 L860.6 79.8 L862.5 79.8 L864.5 79.9 L866.5 80.1 L868.4 80.3 L870.4 80.7 L872.4 81.1 L874.3 81.5 L876.3 82.0 L878.3 82.6 L880.2 83.1 L882.2 83.7 L884.2 84.3 L886.1 84.9 L888.1 85.5 L890.1 86.0 L892.0 86.5 L894.0 87.0" fill="none" stroke="url(#mg7)" stroke-width="0.75"/>
<linearGradient id="mg8" gradientUnits="userSpaceOnUse" x1="0" y1="122.0" x2="0" y2="152.0"><stop offset="0" stop-color="#4aa9cf" stop-opacity="0.95"/><stop offset="0.55" stop-color="#6cc0e0" stop-opacity="0.6"/><stop offset="1" stop-color="#9ad6ec" stop-opacity="0"/></linearGradient>
<path d="M706.0 151.0 L706.0 149.9 L707.5 149.7 L708.9 149.3 L710.4 148.9 L711.9 148.5 L713.3 148.0 L714.8 147.3 L716.3 146.6 L717.7 145.8 L719.2 144.9 L720.7 143.8 L722.1 142.7 L723.6 141.5 L725.1 140.2 L726.5 138.8 L728.0 137.3 L729.5 135.8 L730.9 134.2 L732.4 132.6 L733.9 131.1 L735.3 129.5 L736.8 128.1 L738.3 126.7 L739.7 125.5 L741.2 124.4 L742.7 123.5 L744.1 122.8 L745.6 122.3 L747.1 122.0 L748.5 122.0 L750.0 122.2 L751.5 122.7 L752.9 123.3 L754.4 124.2 L755.9 125.2 L757.3 126.4 L758.8 127.7 L760.3 129.2 L761.7 130.7 L763.2 132.3 L764.7 133.8 L766.1 135.4 L767.6 137.0 L769.1 138.5 L770.5 139.9 L772.0 141.2 L773.5 142.5 L774.9 143.6 L776.4 144.7 L777.9 145.6 L779.3 146.5 L780.8 147.2 L782.3 147.8 L783.7 148.4 L785.2 148.9 L786.7 149.3 L788.1 149.6 L789.6 149.9 L791.1 150.1 L792.5 150.3 L794.0 150.5 Z" fill="url(#mg8)" opacity="0.18"/>
<path d="M706.0 149.9 L707.5 149.7 L708.9 149.3 L710.4 148.9 L711.9 148.5 L713.3 148.0 L714.8 147.3 L716.3 146.6 L717.7 145.8 L719.2 144.9 L720.7 143.8 L722.1 142.7 L723.6 141.5 L725.1 140.2 L726.5 138.8 L728.0 137.3 L729.5 135.8 L730.9 134.2 L732.4 132.6 L733.9 131.1 L735.3 129.5 L736.8 128.1 L738.3 126.7 L739.7 125.5 L741.2 124.4 L742.7 123.5 L744.1 122.8 L745.6 122.3 L747.1 122.0 L748.5 122.0 L750.0 122.2 L751.5 122.7 L752.9 123.3 L754.4 124.2 L755.9 125.2 L757.3 126.4 L758.8 127.7 L760.3 129.2 L761.7 130.7 L763.2 132.3 L764.7 133.8 L766.1 135.4 L767.6 137.0 L769.1 138.5 L770.5 139.9 L772.0 141.2 L773.5 142.5 L774.9 143.6 L776.4 144.7 L777.9 145.6 L779.3 146.5 L780.8 147.2 L782.3 147.8 L783.7 148.4 L785.2 148.9 L786.7 149.3 L788.1 149.6 L789.6 149.9 L791.1 150.1 L792.5 150.3 L794.0 150.5" fill="none" stroke="url(#mg8)" stroke-width="0.75"/>
<path d="M706.0 150.3 L707.5 150.1 L708.9 149.9 L710.4 149.6 L711.9 149.3 L713.3 148.9 L714.8 148.5 L716.3 147.9 L717.7 147.3 L719.2 146.6 L720.7 145.8 L722.1 144.9 L723.6 143.9 L725.1 142.9 L726.5 141.7 L728.0 140.4 L729.5 139.1 L730.9 137.7 L732.4 136.3 L733.9 134.8 L735.3 133.4 L736.8 131.9 L738.3 130.6 L739.7 129.2 L741.2 128.0 L742.7 126.9 L744.1 126.0 L745.6 125.3 L747.1 124.7 L748.5 124.3 L750.0 124.2 L751.5 124.2 L752.9 124.5 L754.4 125.0 L755.9 125.7 L757.3 126.6 L758.8 127.6 L760.3 128.8 L761.7 130.0 L763.2 131.4 L764.7 132.8 L766.1 134.3 L767.6 135.8 L769.1 137.2 L770.5 138.6 L772.0 140.0 L773.5 141.3 L774.9 142.5 L776.4 143.6 L777.9 144.6 L779.3 145.5 L780.8 146.4 L782.3 147.1 L783.7 147.8 L785.2 148.3 L786.7 148.8 L788.1 149.2 L789.6 149.6 L791.1 149.8 L792.5 150.1 L794.0 150.3" fill="none" stroke="url(#mg8)" stroke-width="0.75"/>
<path d="M706.0 150.6 L707.5 150.5 L708.9 150.3 L710.4 150.1 L711.9 149.9 L713.3 149.6 L714.8 149.3 L716.3 148.9 L717.7 148.5 L719.2 148.0 L720.7 147.4 L722.1 146.7 L723.6 145.9 L725.1 145.0 L726.5 144.1 L728.0 143.1 L729.5 142.0 L730.9 140.8 L732.4 139.5 L733.9 138.2 L735.3 136.9 L736.8 135.6 L738.3 134.2 L739.7 132.9 L741.2 131.7 L742.7 130.5 L744.1 129.4 L745.6 128.5 L747.1 127.7 L748.5 127.1 L750.0 126.7 L751.5 126.4 L752.9 126.4 L754.4 126.5 L755.9 126.8 L757.3 127.4 L758.8 128.1 L760.3 128.9 L761.7 129.9 L763.2 131.1 L764.7 132.3 L766.1 133.6 L767.6 134.9 L769.1 136.2 L770.5 137.6 L772.0 138.9 L773.5 140.2 L774.9 141.4 L776.4 142.6 L777.9 143.6 L779.3 144.6 L780.8 145.5 L782.3 146.3 L783.7 147.1 L785.2 147.7 L786.7 148.3 L788.1 148.7 L789.6 149.1 L791.1 149.5 L792.5 149.8 L794.0 150.0" fill="none" stroke="url(#mg8)" stroke-width="0.75"/>
<path d="M706.0 150.7 L707.5 150.7 L708.9 150.6 L710.4 150.5 L711.9 150.3 L713.3 150.1 L714.8 149.9 L716.3 149.6 L717.7 149.3 L719.2 148.9 L720.7 148.5 L722.1 148.0 L723.6 147.4 L725.1 146.8 L726.5 146.0 L728.0 145.2 L729.5 144.3 L730.9 143.3 L732.4 142.3 L733.9 141.2 L735.3 140.0 L736.8 138.8 L738.3 137.6 L739.7 136.4 L741.2 135.2 L742.7 134.0 L744.1 132.9 L745.6 131.9 L747.1 131.0 L748.5 130.2 L750.0 129.5 L751.5 129.0 L752.9 128.7 L754.4 128.5 L755.9 128.6 L757.3 128.8 L758.8 129.2 L760.3 129.7 L761.7 130.4 L763.2 131.3 L764.7 132.2 L766.1 133.3 L767.6 134.4 L769.1 135.6 L770.5 136.8 L772.0 138.1 L773.5 139.3 L774.9 140.5 L776.4 141.6 L777.9 142.7 L779.3 143.7 L780.8 144.7 L782.3 145.5 L783.7 146.3 L785.2 147.0 L786.7 147.7 L788.1 148.2 L789.6 148.7 L791.1 149.1 L792.5 149.5 L794.0 149.8" fill="none" stroke="url(#mg8)" stroke-width="0.75"/>
<path d="M706.0 150.9 L707.5 150.8 L708.9 150.7 L710.4 150.7 L711.9 150.6 L713.3 150.4 L714.8 150.3 L716.3 150.1 L717.7 149.9 L719.2 149.6 L720.7 149.3 L722.1 149.0 L723.6 148.6 L725.1 148.1 L726.5 147.5 L728.0 146.9 L729.5 146.2 L730.9 145.4 L732.4 144.6 L733.9 143.7 L735.3 142.7 L736.8 141.7 L738.3 140.6 L739.7 139.5 L741.2 138.4 L742.7 137.3 L744.1 136.3 L745.6 135.2 L747.1 134.3 L748.5 133.4 L750.0 132.6 L751.5 131.9 L752.9 131.4 L754.4 131.0 L755.9 130.8 L757.3 130.7 L758.8 130.8 L760.3 131.1 L761.7 131.5 L763.2 132.0 L764.7 132.7 L766.1 133.5 L767.6 134.5 L769.1 135.4 L770.5 136.5 L772.0 137.6 L773.5 138.7 L774.9 139.8 L776.4 140.9 L777.9 141.9 L779.3 143.0 L780.8 143.9 L782.3 144.8 L783.7 145.6 L785.2 146.4 L786.7 147.1 L788.1 147.7 L789.6 148.2 L791.1 148.7 L792.5 149.1 L794.0 149.4" fill="none" stroke="url(#mg8)" stroke-width="0.75"/>
<path d="M706.0 150.9 L707.5 150.9 L708.9 150.8 L710.4 150.8 L711.9 150.7 L713.3 150.7 L714.8 150.6 L716.3 150.5 L717.7 150.3 L719.2 150.1 L720.7 149.9 L722.1 149.7 L723.6 149.4 L725.1 149.0 L726.5 148.6 L728.0 148.2 L729.5 147.7 L730.9 147.1 L732.4 146.4 L733.9 145.7 L735.3 144.9 L736.8 144.1 L738.3 143.2 L739.7 142.3 L741.2 141.3 L742.7 140.3 L744.1 139.4 L745.6 138.4 L747.1 137.4 L748.5 136.5 L750.0 135.7 L751.5 134.9 L752.9 134.3 L754.4 133.7 L755.9 133.3 L757.3 133.0 L758.8 132.9 L760.3 132.9 L761.7 133.0 L763.2 133.3 L764.7 133.8 L766.1 134.3 L767.6 135.0 L769.1 135.8 L770.5 136.6 L772.0 137.5 L773.5 138.5 L774.9 139.4 L776.4 140.4 L777.9 141.4 L779.3 142.4 L780.8 143.3 L782.3 144.2 L783.7 145.0 L785.2 145.8 L786.7 146.5 L788.1 147.2 L789.6 147.7 L791.1 148.2 L792.5 148.7 L794.0 149.1" fill="none" stroke="url(#mg8)" stroke-width="0.75"/>
<path d="M706.0 151.0 L707.5 150.9 L708.9 150.9 L710.4 150.9 L711.9 150.9 L713.3 150.8 L714.8 150.7 L716.3 150.7 L717.7 150.6 L719.2 150.5 L720.7 150.3 L722.1 150.2 L723.6 150.0 L725.1 149.7 L726.5 149.4 L728.0 149.1 L729.5 148.8 L730.9 148.3 L732.4 147.8 L733.9 147.3 L735.3 146.7 L736.8 146.1 L738.3 145.4 L739.7 144.6 L741.2 143.8 L742.7 143.0 L744.1 142.1 L745.6 141.2 L747.1 140.4 L748.5 139.5 L750.0 138.7 L751.5 137.9 L752.9 137.2 L754.4 136.6 L755.9 136.1 L757.3 135.6 L758.8 135.3 L760.3 135.1 L761.7 135.1 L763.2 135.1 L764.7 135.3 L766.1 135.6 L767.6 136.0 L769.1 136.6 L770.5 137.2 L772.0 137.9 L773.5 138.7 L774.9 139.5 L776.4 140.3 L777.9 141.2 L779.3 142.1 L780.8 142.9 L782.3 143.8 L783.7 144.6 L785.2 145.3 L786.7 146.0 L788.1 146.7 L789.6 147.3 L791.1 147.8 L792.5 148.3 L794.0 148.8" fill="none" stroke="url(#mg8)" stroke-width="0.75"/>
<path d="M706.0 151.0 L707.5 151.0 L708.9 151.0 L710.4 150.9 L711.9 150.9 L713.3 150.9 L714.8 150.9 L716.3 150.8 L717.7 150.8 L719.2 150.7 L720.7 150.6 L722.1 150.5 L723.6 150.4 L725.1 150.2 L726.5 150.0 L728.0 149.8 L729.5 149.5 L730.9 149.2 L732.4 148.9 L733.9 148.5 L735.3 148.1 L736.8 147.6 L738.3 147.1 L739.7 146.5 L741.2 145.8 L742.7 145.2 L744.1 144.5 L745.6 143.7 L747.1 143.0 L748.5 142.3 L750.0 141.5 L751.5 140.8 L752.9 140.1 L754.4 139.5 L755.9 138.9 L757.3 138.4 L758.8 137.9 L760.3 137.6 L761.7 137.4 L763.2 137.2 L764.7 137.2 L766.1 137.3 L767.6 137.5 L769.1 137.9 L770.5 138.3 L772.0 138.8 L773.5 139.3 L774.9 140.0 L776.4 140.7 L777.9 141.4 L779.3 142.1 L780.8 142.9 L782.3 143.6 L783.7 144.4 L785.2 145.1 L786.7 145.7 L788.1 146.4 L789.6 147.0 L791.1 147.5 L792.5 148.0 L794.0 148.5" fill="none" stroke="url(#mg8)" stroke-width="0.75"/>
<path d="M706.0 151.0 L707.5 151.0 L708.9 151.0 L710.4 151.0 L711.9 151.0 L713.3 150.9 L714.8 150.9 L716.3 150.9 L717.7 150.9 L719.2 150.8 L720.7 150.8 L722.1 150.7 L723.6 150.6 L725.1 150.5 L726.5 150.4 L728.0 150.3 L729.5 150.1 L730.9 149.9 L732.4 149.7 L733.9 149.4 L735.3 149.1 L736.8 148.8 L738.3 148.4 L739.7 147.9 L741.2 147.5 L742.7 147.0 L744.1 146.4 L745.6 145.8 L747.1 145.2 L748.5 144.6 L750.0 144.0 L751.5 143.4 L752.9 142.7 L754.4 142.1 L755.9 141.6 L757.3 141.1 L758.8 140.6 L760.3 140.2 L761.7 139.9 L763.2 139.6 L764.7 139.5 L766.1 139.4 L767.6 139.4 L769.1 139.6 L770.5 139.8 L772.0 140.1 L773.5 140.4 L774.9 140.9 L776.4 141.4 L777.9 142.0 L779.3 142.5 L780.8 143.2 L782.3 143.8 L783.7 144.4 L785.2 145.1 L786.7 145.7 L788.1 146.3 L789.6 146.8 L791.1 147.3 L792.5 147.8 L794.0 148.3" fill="none" stroke="url(#mg8)" stroke-width="0.75"/>
<path d="M706.0 151.0 L707.5 151.0 L708.9 151.0 L710.4 151.0 L711.9 151.0 L713.3 151.0 L714.8 151.0 L716.3 150.9 L717.7 150.9 L719.2 150.9 L720.7 150.9 L722.1 150.8 L723.6 150.8 L725.1 150.7 L726.5 150.7 L728.0 150.6 L729.5 150.5 L730.9 150.3 L732.4 150.2 L733.9 150.0 L735.3 149.8 L736.8 149.6 L738.3 149.3 L739.7 149.0 L741.2 148.7 L742.7 148.4 L744.1 148.0 L745.6 147.5 L747.1 147.1 L748.5 146.6 L750.0 146.1 L751.5 145.6 L752.9 145.1 L754.4 144.6 L755.9 144.1 L757.3 143.6 L758.8 143.2 L760.3 142.8 L761.7 142.4 L763.2 142.1 L764.7 141.9 L766.1 141.7 L767.6 141.6 L769.1 141.6 L770.5 141.6 L772.0 141.8 L773.5 142.0 L774.9 142.2 L776.4 142.6 L777.9 143.0 L779.3 143.4 L780.8 143.9 L782.3 144.3 L783.7 144.9 L785.2 145.4 L786.7 145.9 L788.1 146.4 L789.6 146.9 L791.1 147.3 L792.5 147.8 L794.0 148.2" fill="none" stroke="url(#mg8)" stroke-width="0.75"/>
<linearGradient id="mg9" gradientUnits="userSpaceOnUse" x1="0" y1="141.4" x2="0" y2="174.0"><stop offset="0" stop-color="#4aa9cf" stop-opacity="0.95"/><stop offset="0.55" stop-color="#6cc0e0" stop-opacity="0.6"/><stop offset="1" stop-color="#9ad6ec" stop-opacity="0"/></linearGradient>
<path d="M772.0 173.0 L772.0 171.8 L773.9 171.5 L775.8 171.1 L777.7 170.7 L779.6 170.1 L781.5 169.5 L783.4 168.7 L785.3 167.8 L787.2 166.9 L789.1 165.7 L791.0 164.5 L792.9 163.1 L794.8 161.6 L796.7 160.0 L798.6 158.3 L800.5 156.6 L802.4 154.7 L804.3 152.9 L806.2 151.1 L808.1 149.4 L810.0 147.7 L811.9 146.2 L813.8 144.8 L815.7 143.6 L817.6 142.7 L819.5 142.0 L821.4 141.5 L823.3 141.4 L825.2 141.5 L827.1 141.9 L829.0 142.4 L830.9 143.2 L832.8 144.2 L834.7 145.3 L836.6 146.6 L838.5 148.0 L840.4 149.5 L842.3 151.1 L844.2 152.7 L846.1 154.4 L848.0 156.0 L849.9 157.6 L851.8 159.2 L853.7 160.7 L855.6 162.1 L857.5 163.4 L859.4 164.6 L861.3 165.7 L863.2 166.7 L865.1 167.7 L867.0 168.5 L868.9 169.2 L870.8 169.8 L872.7 170.4 L874.6 170.8 L876.5 171.2 L878.4 171.6 L880.3 171.8 L882.2 172.1 L884.1 172.3 L886.0 172.4 Z" fill="url(#mg9)" opacity="0.18"/>
<path d="M772.0 171.8 L773.9 171.5 L775.8 171.1 L777.7 170.7 L779.6 170.1 L781.5 169.5 L783.4 168.7 L785.3 167.8 L787.2 166.9 L789.1 165.7 L791.0 164.5 L792.9 163.1 L794.8 161.6 L796.7 160.0 L798.6 158.3 L800.5 156.6 L802.4 154.7 L804.3 152.9 L806.2 151.1 L808.1 149.4 L810.0 147.7 L811.9 146.2 L813.8 144.8 L815.7 143.6 L817.6 142.7 L819.5 142.0 L821.4 141.5 L823.3 141.4 L825.2 141.5 L827.1 141.9 L829.0 142.4 L830.9 143.2 L832.8 144.2 L834.7 145.3 L836.6 146.6 L838.5 148.0 L840.4 149.5 L842.3 151.1 L844.2 152.7 L846.1 154.4 L848.0 156.0 L849.9 157.6 L851.8 159.2 L853.7 160.7 L855.6 162.1 L857.5 163.4 L859.4 164.6 L861.3 165.7 L863.2 166.7 L865.1 167.7 L867.0 168.5 L868.9 169.2 L870.8 169.8 L872.7 170.4 L874.6 170.8 L876.5 171.2 L878.4 171.6 L880.3 171.8 L882.2 172.1 L884.1 172.3 L886.0 172.4" fill="none" stroke="url(#mg9)" stroke-width="0.75"/>
<path d="M772.0 172.3 L773.9 172.1 L775.8 171.8 L777.7 171.5 L779.6 171.1 L781.5 170.7 L783.4 170.1 L785.3 169.5 L787.2 168.8 L789.1 167.9 L791.0 167.0 L792.9 165.9 L794.8 164.7 L796.7 163.4 L798.6 162.0 L800.5 160.4 L802.4 158.9 L804.3 157.2 L806.2 155.5 L808.1 153.8 L810.0 152.2 L811.9 150.6 L813.8 149.1 L815.7 147.7 L817.6 146.5 L819.5 145.5 L821.4 144.7 L823.3 144.1 L825.2 143.8 L827.1 143.8 L829.0 144.0 L830.9 144.4 L832.8 145.0 L834.7 145.7 L836.6 146.7 L838.5 147.8 L840.4 149.0 L842.3 150.4 L844.2 151.8 L846.1 153.3 L848.0 154.8 L849.9 156.3 L851.8 157.8 L853.7 159.3 L855.6 160.7 L857.5 162.1 L859.4 163.3 L861.3 164.5 L863.2 165.6 L865.1 166.6 L867.0 167.5 L868.9 168.3 L870.8 169.1 L872.7 169.7 L874.6 170.2 L876.5 170.7 L878.4 171.1 L880.3 171.5 L882.2 171.8 L884.1 172.0 L886.0 172.2" fill="none" stroke="url(#mg9)" stroke-width="0.75"/>
<path d="M772.0 172.6 L773.9 172.5 L775.8 172.3 L777.7 172.1 L779.6 171.8 L781.5 171.5 L783.4 171.2 L785.3 170.7 L787.2 170.2 L789.1 169.6 L791.0 168.9 L792.9 168.0 L794.8 167.1 L796.7 166.1 L798.6 164.9 L800.5 163.7 L802.4 162.4 L804.3 161.0 L806.2 159.5 L808.1 157.9 L810.0 156.4 L811.9 154.9 L813.8 153.3 L815.7 151.9 L817.6 150.6 L819.5 149.4 L821.4 148.3 L823.3 147.4 L825.2 146.8 L827.1 146.3 L829.0 146.2 L830.9 146.2 L832.8 146.4 L834.7 146.8 L836.6 147.5 L838.5 148.2 L840.4 149.2 L842.3 150.2 L844.2 151.4 L846.1 152.7 L848.0 154.0 L849.9 155.4 L851.8 156.8 L853.7 158.1 L855.6 159.5 L857.5 160.9 L859.4 162.1 L861.3 163.4 L863.2 164.5 L865.1 165.6 L867.0 166.5 L868.9 167.4 L870.8 168.2 L872.7 169.0 L874.6 169.6 L876.5 170.1 L878.4 170.6 L880.3 171.0 L882.2 171.4 L884.1 171.7 L886.0 171.9" fill="none" stroke="url(#mg9)" stroke-width="0.75"/>
<path d="M772.0 172.8 L773.9 172.7 L775.8 172.6 L777.7 172.5 L779.6 172.3 L781.5 172.1 L783.4 171.8 L785.3 171.5 L787.2 171.2 L789.1 170.8 L791.0 170.2 L792.9 169.7 L794.8 169.0 L796.7 168.2 L798.6 167.3 L800.5 166.3 L802.4 165.3 L804.3 164.1 L806.2 162.9 L808.1 161.6 L810.0 160.2 L811.9 158.8 L813.8 157.4 L815.7 156.0 L817.6 154.6 L819.5 153.3 L821.4 152.1 L823.3 151.1 L825.2 150.2 L827.1 149.5 L829.0 148.9 L830.9 148.6 L832.8 148.5 L834.7 148.6 L836.6 148.9 L838.5 149.3 L840.4 149.9 L842.3 150.7 L844.2 151.6 L846.1 152.6 L848.0 153.7 L849.9 154.9 L851.8 156.1 L853.7 157.4 L855.6 158.6 L857.5 159.9 L859.4 161.1 L861.3 162.3 L863.2 163.5 L865.1 164.6 L867.0 165.6 L868.9 166.5 L870.8 167.4 L872.7 168.2 L874.6 168.9 L876.5 169.5 L878.4 170.1 L880.3 170.6 L882.2 171.0 L884.1 171.3 L886.0 171.6" fill="none" stroke="url(#mg9)" stroke-width="0.75"/>
<path d="M772.0 172.9 L773.9 172.8 L775.8 172.8 L777.7 172.7 L779.6 172.6 L781.5 172.5 L783.4 172.3 L785.3 172.1 L787.2 171.9 L789.1 171.6 L791.0 171.2 L792.9 170.8 L794.8 170.3 L796.7 169.8 L798.6 169.1 L800.5 168.4 L802.4 167.6 L804.3 166.7 L806.2 165.7 L808.1 164.6 L810.0 163.4 L811.9 162.2 L813.8 161.0 L815.7 159.7 L817.6 158.4 L819.5 157.2 L821.4 156.0 L823.3 154.8 L825.2 153.8 L827.1 152.9 L829.0 152.1 L830.9 151.5 L832.8 151.1 L834.7 150.9 L836.6 150.9 L838.5 151.0 L840.4 151.3 L842.3 151.8 L844.2 152.4 L846.1 153.1 L848.0 154.0 L849.9 154.9 L851.8 155.9 L853.7 157.0 L855.6 158.1 L857.5 159.3 L859.4 160.4 L861.3 161.6 L863.2 162.7 L865.1 163.7 L867.0 164.8 L868.9 165.7 L870.8 166.6 L872.7 167.4 L874.6 168.2 L876.5 168.9 L878.4 169.5 L880.3 170.0 L882.2 170.5 L884.1 170.9 L886.0 171.3" fill="none" stroke="url(#mg9)" stroke-width="0.75"/>
<path d="M772.0 172.9 L773.9 172.9 L775.8 172.9 L777.7 172.8 L779.6 172.8 L781.5 172.7 L783.4 172.6 L785.3 172.5 L787.2 172.3 L789.1 172.1 L791.0 171.9 L792.9 171.6 L794.8 171.3 L796.7 170.9 L798.6 170.5 L800.5 169.9 L802.4 169.3 L804.3 168.6 L806.2 167.9 L808.1 167.0 L810.0 166.1 L811.9 165.1 L813.8 164.1 L815.7 163.0 L817.6 161.9 L819.5 160.7 L821.4 159.6 L823.3 158.5 L825.2 157.4 L827.1 156.5 L829.0 155.6 L830.9 154.8 L832.8 154.2 L834.7 153.7 L836.6 153.4 L838.5 153.3 L840.4 153.3 L842.3 153.5 L844.2 153.8 L846.1 154.2 L848.0 154.8 L849.9 155.5 L851.8 156.3 L853.7 157.2 L855.6 158.1 L857.5 159.1 L859.4 160.1 L861.3 161.1 L863.2 162.1 L865.1 163.1 L867.0 164.1 L868.9 165.1 L870.8 166.0 L872.7 166.8 L874.6 167.6 L876.5 168.3 L878.4 168.9 L880.3 169.5 L882.2 170.0 L884.1 170.5 L886.0 170.9" fill="none" stroke="url(#mg9)" stroke-width="0.75"/>
<path d="M772.0 173.0 L773.9 172.9 L775.8 172.9 L777.7 172.9 L779.6 172.9 L781.5 172.8 L783.4 172.8 L785.3 172.7 L787.2 172.6 L789.1 172.5 L791.0 172.3 L792.9 172.2 L794.8 172.0 L796.7 171.7 L798.6 171.4 L800.5 171.0 L802.4 170.6 L804.3 170.1 L806.2 169.6 L808.1 168.9 L810.0 168.2 L811.9 167.5 L813.8 166.6 L815.7 165.8 L817.6 164.8 L819.5 163.9 L821.4 162.9 L823.3 161.9 L825.2 160.9 L827.1 159.9 L829.0 159.0 L830.9 158.2 L832.8 157.4 L834.7 156.8 L836.6 156.3 L838.5 155.9 L840.4 155.7 L842.3 155.6 L844.2 155.7 L846.1 155.9 L848.0 156.2 L849.9 156.7 L851.8 157.2 L853.7 157.8 L855.6 158.6 L857.5 159.3 L859.4 160.2 L861.3 161.1 L863.2 161.9 L865.1 162.8 L867.0 163.7 L868.9 164.6 L870.8 165.5 L872.7 166.3 L874.6 167.1 L876.5 167.8 L878.4 168.4 L880.3 169.1 L882.2 169.6 L884.1 170.1 L886.0 170.6" fill="none" stroke="url(#mg9)" stroke-width="0.75"/>
<path d="M772.0 173.0 L773.9 173.0 L775.8 173.0 L777.7 173.0 L779.6 172.9 L781.5 172.9 L783.4 172.9 L785.3 172.8 L787.2 172.8 L789.1 172.7 L791.0 172.6 L792.9 172.5 L794.8 172.4 L796.7 172.2 L798.6 172.0 L800.5 171.8 L802.4 171.5 L804.3 171.2 L806.2 170.8 L808.1 170.3 L810.0 169.8 L811.9 169.3 L813.8 168.7 L815.7 168.0 L817.6 167.3 L819.5 166.5 L821.4 165.7 L823.3 164.8 L825.2 163.9 L827.1 163.1 L829.0 162.2 L830.9 161.4 L832.8 160.6 L834.7 159.9 L836.6 159.3 L838.5 158.8 L840.4 158.4 L842.3 158.2 L844.2 158.0 L846.1 158.0 L848.0 158.1 L849.9 158.3 L851.8 158.6 L853.7 159.0 L855.6 159.5 L857.5 160.1 L859.4 160.8 L861.3 161.5 L863.2 162.2 L865.1 162.9 L867.0 163.7 L868.9 164.5 L870.8 165.3 L872.7 166.0 L874.6 166.8 L876.5 167.4 L878.4 168.1 L880.3 168.7 L882.2 169.3 L884.1 169.8 L886.0 170.2" fill="none" stroke="url(#mg9)" stroke-width="0.75"/>
<path d="M772.0 173.0 L773.9 173.0 L775.8 173.0 L777.7 173.0 L779.6 173.0 L781.5 173.0 L783.4 172.9 L785.3 172.9 L787.2 172.9 L789.1 172.8 L791.0 172.8 L792.9 172.7 L794.8 172.7 L796.7 172.6 L798.6 172.4 L800.5 172.3 L802.4 172.1 L804.3 171.9 L806.2 171.6 L808.1 171.4 L810.0 171.0 L811.9 170.6 L813.8 170.2 L815.7 169.7 L817.6 169.2 L819.5 168.6 L821.4 167.9 L823.3 167.3 L825.2 166.6 L827.1 165.8 L829.0 165.1 L830.9 164.4 L832.8 163.7 L834.7 163.0 L836.6 162.4 L838.5 161.8 L840.4 161.3 L842.3 160.9 L844.2 160.6 L846.1 160.4 L848.0 160.4 L849.9 160.4 L851.8 160.5 L853.7 160.7 L855.6 161.0 L857.5 161.4 L859.4 161.8 L861.3 162.3 L863.2 162.9 L865.1 163.5 L867.0 164.1 L868.9 164.8 L870.8 165.4 L872.7 166.1 L874.6 166.7 L876.5 167.3 L878.4 167.9 L880.3 168.5 L882.2 169.1 L884.1 169.5 L886.0 170.0" fill="none" stroke="url(#mg9)" stroke-width="0.75"/>
<path d="M772.0 173.0 L773.9 173.0 L775.8 173.0 L777.7 173.0 L779.6 173.0 L781.5 173.0 L783.4 173.0 L785.3 173.0 L787.2 172.9 L789.1 172.9 L791.0 172.9 L792.9 172.9 L794.8 172.8 L796.7 172.8 L798.6 172.7 L800.5 172.6 L802.4 172.5 L804.3 172.4 L806.2 172.2 L808.1 172.0 L810.0 171.8 L811.9 171.6 L813.8 171.3 L815.7 170.9 L817.6 170.6 L819.5 170.2 L821.4 169.7 L823.3 169.2 L825.2 168.7 L827.1 168.1 L829.0 167.6 L830.9 167.0 L832.8 166.4 L834.7 165.8 L836.6 165.2 L838.5 164.7 L840.4 164.2 L842.3 163.8 L844.2 163.4 L846.1 163.1 L848.0 162.9 L849.9 162.8 L851.8 162.7 L853.7 162.8 L855.6 162.9 L857.5 163.1 L859.4 163.4 L861.3 163.7 L863.2 164.1 L865.1 164.5 L867.0 165.0 L868.9 165.4 L870.8 166.0 L872.7 166.5 L874.6 167.0 L876.5 167.6 L878.4 168.1 L880.3 168.6 L882.2 169.1 L884.1 169.5 L886.0 169.9" fill="none" stroke="url(#mg9)" stroke-width="0.75"/>
<linearGradient id="mg10" gradientUnits="userSpaceOnUse" x1="0" y1="223.7" x2="0" y2="252.0"><stop offset="0" stop-color="#4aa9cf" stop-opacity="0.95"/><stop offset="0.55" stop-color="#6cc0e0" stop-opacity="0.6"/><stop offset="1" stop-color="#9ad6ec" stop-opacity="0"/></linearGradient>
<path d="M820.0 251.0 L820.0 250.0 L821.2 249.7 L822.4 249.4 L823.6 249.0 L824.9 248.6 L826.1 248.1 L827.3 247.4 L828.5 246.7 L829.7 245.9 L831.0 245.0 L832.2 244.0 L833.4 242.9 L834.6 241.6 L835.8 240.3 L837.0 239.0 L838.2 237.5 L839.5 236.0 L840.7 234.5 L841.9 233.0 L843.1 231.5 L844.3 230.0 L845.5 228.7 L846.8 227.4 L848.0 226.3 L849.2 225.4 L850.4 224.6 L851.6 224.1 L852.9 223.8 L854.1 223.7 L855.3 223.8 L856.5 224.2 L857.7 224.7 L858.9 225.5 L860.1 226.4 L861.4 227.4 L862.6 228.6 L863.8 229.9 L865.0 231.2 L866.2 232.7 L867.5 234.1 L868.7 235.6 L869.9 237.0 L871.1 238.4 L872.3 239.8 L873.5 241.0 L874.8 242.2 L876.0 243.4 L877.2 244.4 L878.4 245.3 L879.6 246.2 L880.8 246.9 L882.0 247.6 L883.3 248.1 L884.5 248.6 L885.7 249.1 L886.9 249.4 L888.1 249.7 L889.4 250.0 L890.6 250.2 L891.8 250.4 L893.0 250.5 Z" fill="url(#mg10)" opacity="0.18"/>
<path d="M820.0 250.0 L821.2 249.7 L822.4 249.4 L823.6 249.0 L824.9 248.6 L826.1 248.1 L827.3 247.4 L828.5 246.7 L829.7 245.9 L831.0 245.0 L832.2 244.0 L833.4 242.9 L834.6 241.6 L835.8 240.3 L837.0 239.0 L838.2 237.5 L839.5 236.0 L840.7 234.5 L841.9 233.0 L843.1 231.5 L844.3 230.0 L845.5 228.7 L846.8 227.4 L848.0 226.3 L849.2 225.4 L850.4 224.6 L851.6 224.1 L852.9 223.8 L854.1 223.7 L855.3 223.8 L856.5 224.2 L857.7 224.7 L858.9 225.5 L860.1 226.4 L861.4 227.4 L862.6 228.6 L863.8 229.9 L865.0 231.2 L866.2 232.7 L867.5 234.1 L868.7 235.6 L869.9 237.0 L871.1 238.4 L872.3 239.8 L873.5 241.0 L874.8 242.2 L876.0 243.4 L877.2 244.4 L878.4 245.3 L879.6 246.2 L880.8 246.9 L882.0 247.6 L883.3 248.1 L884.5 248.6 L885.7 249.1 L886.9 249.4 L888.1 249.7 L889.4 250.0 L890.6 250.2 L891.8 250.4 L893.0 250.5" fill="none" stroke="url(#mg10)" stroke-width="0.75"/>
<path d="M820.0 250.4 L821.2 250.2 L822.4 250.0 L823.6 249.7 L824.9 249.4 L826.1 249.0 L827.3 248.6 L828.5 248.1 L829.7 247.5 L831.0 246.8 L832.2 246.0 L833.4 245.1 L834.6 244.1 L835.8 243.0 L837.0 241.9 L838.2 240.6 L839.5 239.3 L840.7 238.0 L841.9 236.6 L843.1 235.2 L844.3 233.8 L845.5 232.4 L846.8 231.1 L848.0 229.9 L849.2 228.8 L850.4 227.8 L851.6 227.0 L852.9 226.4 L854.1 226.0 L855.3 225.8 L856.5 225.8 L857.7 226.0 L858.9 226.4 L860.1 226.9 L861.4 227.7 L862.6 228.6 L863.8 229.6 L865.0 230.7 L866.2 231.9 L867.5 233.2 L868.7 234.6 L869.9 235.9 L871.1 237.3 L872.3 238.6 L873.5 239.9 L874.8 241.1 L876.0 242.2 L877.2 243.3 L878.4 244.3 L879.6 245.2 L880.8 246.1 L882.0 246.8 L883.3 247.5 L884.5 248.0 L885.7 248.5 L886.9 249.0 L888.1 249.3 L889.4 249.7 L890.6 249.9 L891.8 250.1 L893.0 250.3" fill="none" stroke="url(#mg10)" stroke-width="0.75"/>
<path d="M820.0 250.6 L821.2 250.5 L822.4 250.4 L823.6 250.2 L824.9 250.0 L826.1 249.7 L827.3 249.4 L828.5 249.0 L829.7 248.6 L831.0 248.1 L832.2 247.5 L833.4 246.8 L834.6 246.1 L835.8 245.2 L837.0 244.3 L838.2 243.3 L839.5 242.2 L840.7 241.0 L841.9 239.8 L843.1 238.5 L844.3 237.2 L845.5 235.9 L846.8 234.7 L848.0 233.4 L849.2 232.3 L850.4 231.2 L851.6 230.2 L852.9 229.4 L854.1 228.7 L855.3 228.2 L856.5 227.9 L857.7 227.8 L858.9 227.9 L860.1 228.1 L861.4 228.6 L862.6 229.1 L863.8 229.9 L865.0 230.7 L866.2 231.7 L867.5 232.8 L868.7 234.0 L869.9 235.2 L871.1 236.4 L872.3 237.6 L873.5 238.8 L874.8 240.0 L876.0 241.2 L877.2 242.3 L878.4 243.3 L879.6 244.3 L880.8 245.2 L882.0 246.0 L883.3 246.7 L884.5 247.4 L885.7 248.0 L886.9 248.5 L888.1 248.9 L889.4 249.3 L890.6 249.6 L891.8 249.9 L893.0 250.1" fill="none" stroke="url(#mg10)" stroke-width="0.75"/>
<path d="M820.0 250.8 L821.2 250.7 L822.4 250.6 L823.6 250.5 L824.9 250.4 L826.1 250.2 L827.3 250.0 L828.5 249.7 L829.7 249.4 L831.0 249.1 L832.2 248.6 L833.4 248.1 L834.6 247.6 L835.8 246.9 L837.0 246.2 L838.2 245.4 L839.5 244.5 L840.7 243.6 L841.9 242.6 L843.1 241.5 L844.3 240.3 L845.5 239.2 L846.8 238.0 L848.0 236.8 L849.2 235.7 L850.4 234.5 L851.6 233.5 L852.9 232.6 L854.1 231.7 L855.3 231.0 L856.5 230.5 L857.7 230.1 L858.9 229.9 L860.1 229.9 L861.4 230.0 L862.6 230.3 L863.8 230.7 L865.0 231.3 L866.2 232.0 L867.5 232.9 L868.7 233.8 L869.9 234.8 L871.1 235.9 L872.3 237.0 L873.5 238.1 L874.8 239.2 L876.0 240.4 L877.2 241.4 L878.4 242.5 L879.6 243.5 L880.8 244.4 L882.0 245.2 L883.3 246.0 L884.5 246.7 L885.7 247.4 L886.9 247.9 L888.1 248.4 L889.4 248.9 L890.6 249.2 L891.8 249.6 L893.0 249.8" fill="none" stroke="url(#mg10)" stroke-width="0.75"/>
<path d="M820.0 250.9 L821.2 250.8 L822.4 250.8 L823.6 250.7 L824.9 250.6 L826.1 250.5 L827.3 250.4 L828.5 250.2 L829.7 250.0 L831.0 249.7 L832.2 249.5 L833.4 249.1 L834.6 248.7 L835.8 248.2 L837.0 247.7 L838.2 247.1 L839.5 246.4 L840.7 245.6 L841.9 244.8 L843.1 243.9 L844.3 243.0 L845.5 242.0 L846.8 241.0 L848.0 239.9 L849.2 238.8 L850.4 237.8 L851.6 236.7 L852.9 235.8 L854.1 234.9 L855.3 234.0 L856.5 233.3 L857.7 232.8 L858.9 232.3 L860.1 232.0 L861.4 231.9 L862.6 231.9 L863.8 232.1 L865.0 232.4 L866.2 232.9 L867.5 233.5 L868.7 234.2 L869.9 234.9 L871.1 235.8 L872.3 236.8 L873.5 237.7 L874.8 238.7 L876.0 239.8 L877.2 240.8 L878.4 241.8 L879.6 242.7 L880.8 243.7 L882.0 244.5 L883.3 245.3 L884.5 246.1 L885.7 246.8 L886.9 247.4 L888.1 247.9 L889.4 248.4 L890.6 248.8 L891.8 249.2 L893.0 249.5" fill="none" stroke="url(#mg10)" stroke-width="0.75"/>
<path d="M820.0 250.9 L821.2 250.9 L822.4 250.9 L823.6 250.8 L824.9 250.8 L826.1 250.7 L827.3 250.6 L828.5 250.5 L829.7 250.4 L831.0 250.2 L832.2 250.0 L833.4 249.8 L834.6 249.5 L835.8 249.2 L837.0 248.8 L838.2 248.3 L839.5 247.8 L840.7 247.3 L841.9 246.6 L843.1 245.9 L844.3 245.2 L845.5 244.4 L846.8 243.5 L848.0 242.6 L849.2 241.7 L850.4 240.7 L851.6 239.8 L852.9 238.8 L854.1 237.9 L855.3 237.1 L856.5 236.3 L857.7 235.6 L858.9 235.0 L860.1 234.5 L861.4 234.2 L862.6 234.0 L863.8 233.9 L865.0 234.0 L866.2 234.2 L867.5 234.6 L868.7 235.0 L869.9 235.6 L871.1 236.2 L872.3 237.0 L873.5 237.8 L874.8 238.6 L876.0 239.5 L877.2 240.4 L878.4 241.3 L879.6 242.2 L880.8 243.1 L882.0 243.9 L883.3 244.7 L884.5 245.5 L885.7 246.2 L886.9 246.8 L888.1 247.4 L889.4 248.0 L890.6 248.4 L891.8 248.8 L893.0 249.2" fill="none" stroke="url(#mg10)" stroke-width="0.75"/>
<path d="M820.0 251.0 L821.2 250.9 L822.4 250.9 L823.6 250.9 L824.9 250.9 L826.1 250.8 L827.3 250.8 L828.5 250.7 L829.7 250.6 L831.0 250.5 L832.2 250.4 L833.4 250.2 L834.6 250.1 L835.8 249.8 L837.0 249.6 L838.2 249.3 L839.5 248.9 L840.7 248.5 L841.9 248.0 L843.1 247.5 L844.3 246.9 L845.5 246.3 L846.8 245.6 L848.0 244.9 L849.2 244.1 L850.4 243.3 L851.6 242.5 L852.9 241.6 L854.1 240.8 L855.3 240.0 L856.5 239.2 L857.7 238.5 L858.9 237.8 L860.1 237.2 L861.4 236.7 L862.6 236.4 L863.8 236.1 L865.0 236.0 L866.2 236.0 L867.5 236.1 L868.7 236.3 L869.9 236.7 L871.1 237.1 L872.3 237.6 L873.5 238.2 L874.8 238.9 L876.0 239.6 L877.2 240.4 L878.4 241.2 L879.6 242.0 L880.8 242.8 L882.0 243.6 L883.3 244.3 L884.5 245.1 L885.7 245.8 L886.9 246.4 L888.1 247.0 L889.4 247.6 L890.6 248.0 L891.8 248.5 L893.0 248.9" fill="none" stroke="url(#mg10)" stroke-width="0.75"/>
<path d="M820.0 251.0 L821.2 251.0 L822.4 251.0 L823.6 250.9 L824.9 250.9 L826.1 250.9 L827.3 250.9 L828.5 250.8 L829.7 250.8 L831.0 250.7 L832.2 250.6 L833.4 250.6 L834.6 250.4 L835.8 250.3 L837.0 250.1 L838.2 249.9 L839.5 249.7 L840.7 249.4 L841.9 249.1 L843.1 248.7 L844.3 248.3 L845.5 247.8 L846.8 247.3 L848.0 246.7 L849.2 246.1 L850.4 245.4 L851.6 244.8 L852.9 244.1 L854.1 243.3 L855.3 242.6 L856.5 241.9 L857.7 241.2 L858.9 240.5 L860.1 239.9 L861.4 239.4 L862.6 238.9 L863.8 238.6 L865.0 238.3 L866.2 238.1 L867.5 238.0 L868.7 238.1 L869.9 238.2 L871.1 238.4 L872.3 238.8 L873.5 239.2 L874.8 239.7 L876.0 240.2 L877.2 240.8 L878.4 241.5 L879.6 242.1 L880.8 242.8 L882.0 243.5 L883.3 244.2 L884.5 244.9 L885.7 245.5 L886.9 246.1 L888.1 246.7 L889.4 247.2 L890.6 247.7 L891.8 248.2 L893.0 248.6" fill="none" stroke="url(#mg10)" stroke-width="0.75"/>
<path d="M820.0 251.0 L821.2 251.0 L822.4 251.0 L823.6 251.0 L824.9 251.0 L826.1 251.0 L827.3 250.9 L828.5 250.9 L829.7 250.9 L831.0 250.8 L832.2 250.8 L833.4 250.7 L834.6 250.7 L835.8 250.6 L837.0 250.5 L838.2 250.3 L839.5 250.2 L840.7 250.0 L841.9 249.8 L843.1 249.5 L844.3 249.2 L845.5 248.9 L846.8 248.5 L848.0 248.1 L849.2 247.7 L850.4 247.2 L851.6 246.7 L852.9 246.1 L854.1 245.5 L855.3 244.9 L856.5 244.3 L857.7 243.7 L858.9 243.1 L860.1 242.5 L861.4 242.0 L862.6 241.5 L863.8 241.1 L865.0 240.7 L866.2 240.4 L867.5 240.2 L868.7 240.1 L869.9 240.1 L871.1 240.1 L872.3 240.3 L873.5 240.5 L874.8 240.8 L876.0 241.2 L877.2 241.6 L878.4 242.1 L879.6 242.6 L880.8 243.2 L882.0 243.7 L883.3 244.3 L884.5 244.9 L885.7 245.5 L886.9 246.0 L888.1 246.6 L889.4 247.1 L890.6 247.6 L891.8 248.0 L893.0 248.4" fill="none" stroke="url(#mg10)" stroke-width="0.75"/>
<path d="M820.0 251.0 L821.2 251.0 L822.4 251.0 L823.6 251.0 L824.9 251.0 L826.1 251.0 L827.3 251.0 L828.5 251.0 L829.7 250.9 L831.0 250.9 L832.2 250.9 L833.4 250.9 L834.6 250.8 L835.8 250.8 L837.0 250.7 L838.2 250.6 L839.5 250.5 L840.7 250.4 L841.9 250.3 L843.1 250.1 L844.3 249.9 L845.5 249.7 L846.8 249.5 L848.0 249.2 L849.2 248.9 L850.4 248.5 L851.6 248.1 L852.9 247.7 L854.1 247.3 L855.3 246.8 L856.5 246.4 L857.7 245.9 L858.9 245.4 L860.1 244.9 L861.4 244.4 L862.6 243.9 L863.8 243.5 L865.0 243.1 L866.2 242.8 L867.5 242.5 L868.7 242.3 L869.9 242.2 L871.1 242.1 L872.3 242.1 L873.5 242.2 L874.8 242.4 L876.0 242.6 L877.2 242.8 L878.4 243.2 L879.6 243.5 L880.8 243.9 L882.0 244.4 L883.3 244.8 L884.5 245.3 L885.7 245.8 L886.9 246.2 L888.1 246.7 L889.4 247.1 L890.6 247.6 L891.8 248.0 L893.0 248.4" fill="none" stroke="url(#mg10)" stroke-width="0.75"/>
<linearGradient id="mg11" gradientUnits="userSpaceOnUse" x1="0" y1="264.4" x2="0" y2="282.0"><stop offset="0" stop-color="#4aa9cf" stop-opacity="0.95"/><stop offset="0.55" stop-color="#6cc0e0" stop-opacity="0.6"/><stop offset="1" stop-color="#9ad6ec" stop-opacity="0"/></linearGradient>
<path d="M752.0 281.0 L752.0 280.4 L753.2 280.2 L754.4 280.1 L755.6 279.8 L756.8 279.6 L758.0 279.3 L759.2 278.9 L760.4 278.5 L761.6 278.1 L762.8 277.5 L764.0 277.0 L765.2 276.3 L766.4 275.6 L767.6 274.9 L768.8 274.1 L770.0 273.3 L771.2 272.4 L772.4 271.5 L773.6 270.6 L774.8 269.7 L776.0 268.9 L777.2 268.0 L778.4 267.3 L779.6 266.5 L780.8 265.9 L782.0 265.4 L783.2 264.9 L784.4 264.6 L785.6 264.5 L786.8 264.4 L788.0 264.5 L789.2 264.7 L790.4 265.0 L791.6 265.5 L792.8 266.1 L794.0 266.8 L795.2 267.5 L796.4 268.3 L797.6 269.2 L798.8 270.1 L800.0 271.0 L801.2 271.9 L802.4 272.8 L803.6 273.7 L804.8 274.5 L806.0 275.3 L807.2 276.0 L808.4 276.7 L809.6 277.3 L810.8 277.9 L812.0 278.4 L813.2 278.8 L814.4 279.2 L815.6 279.5 L816.8 279.8 L818.0 280.0 L819.2 280.2 L820.4 280.4 L821.6 280.5 L822.8 280.6 L824.0 280.7 Z" fill="url(#mg11)" opacity="0.18"/>
<path d="M752.0 280.4 L753.2 280.2 L754.4 280.1 L755.6 279.8 L756.8 279.6 L758.0 279.3 L759.2 278.9 L760.4 278.5 L761.6 278.1 L762.8 277.5 L764.0 277.0 L765.2 276.3 L766.4 275.6 L767.6 274.9 L768.8 274.1 L770.0 273.3 L771.2 272.4 L772.4 271.5 L773.6 270.6 L774.8 269.7 L776.0 268.9 L777.2 268.0 L778.4 267.3 L779.6 266.5 L780.8 265.9 L782.0 265.4 L783.2 264.9 L784.4 264.6 L785.6 264.5 L786.8 264.4 L788.0 264.5 L789.2 264.7 L790.4 265.0 L791.6 265.5 L792.8 266.1 L794.0 266.8 L795.2 267.5 L796.4 268.3 L797.6 269.2 L798.8 270.1 L800.0 271.0 L801.2 271.9 L802.4 272.8 L803.6 273.7 L804.8 274.5 L806.0 275.3 L807.2 276.0 L808.4 276.7 L809.6 277.3 L810.8 277.9 L812.0 278.4 L813.2 278.8 L814.4 279.2 L815.6 279.5 L816.8 279.8 L818.0 280.0 L819.2 280.2 L820.4 280.4 L821.6 280.5 L822.8 280.6 L824.0 280.7" fill="none" stroke="url(#mg11)" stroke-width="0.75"/>
<path d="M752.0 280.6 L753.2 280.5 L754.4 280.4 L755.6 280.2 L756.8 280.0 L758.0 279.8 L759.2 279.6 L760.4 279.3 L761.6 278.9 L762.8 278.5 L764.0 278.1 L765.2 277.6 L766.4 277.0 L767.6 276.4 L768.8 275.7 L770.0 275.0 L771.2 274.3 L772.4 273.5 L773.6 272.7 L774.8 271.9 L776.0 271.0 L777.2 270.2 L778.4 269.4 L779.6 268.7 L780.8 268.0 L782.0 267.4 L783.2 266.8 L784.4 266.4 L785.6 266.0 L786.8 265.8 L788.0 265.7 L789.2 265.7 L790.4 265.8 L791.6 266.0 L792.8 266.4 L794.0 266.9 L795.2 267.5 L796.4 268.1 L797.6 268.9 L798.8 269.6 L800.0 270.5 L801.2 271.3 L802.4 272.1 L803.6 273.0 L804.8 273.8 L806.0 274.6 L807.2 275.3 L808.4 276.0 L809.6 276.7 L810.8 277.3 L812.0 277.8 L813.2 278.3 L814.4 278.7 L815.6 279.1 L816.8 279.4 L818.0 279.7 L819.2 280.0 L820.4 280.2 L821.6 280.3 L822.8 280.5 L824.0 280.6" fill="none" stroke="url(#mg11)" stroke-width="0.75"/>
<path d="M752.0 280.8 L753.2 280.7 L754.4 280.6 L755.6 280.5 L756.8 280.4 L758.0 280.2 L759.2 280.0 L760.4 279.8 L761.6 279.6 L762.8 279.3 L764.0 278.9 L765.2 278.5 L766.4 278.1 L767.6 277.6 L768.8 277.1 L770.0 276.5 L771.2 275.9 L772.4 275.2 L773.6 274.5 L774.8 273.8 L776.0 273.0 L777.2 272.3 L778.4 271.5 L779.6 270.8 L780.8 270.1 L782.0 269.4 L783.2 268.8 L784.4 268.2 L785.6 267.8 L786.8 267.4 L788.0 267.1 L789.2 266.9 L790.4 266.9 L791.6 266.9 L792.8 267.1 L794.0 267.4 L795.2 267.8 L796.4 268.3 L797.6 268.8 L798.8 269.5 L800.0 270.2 L801.2 270.9 L802.4 271.7 L803.6 272.4 L804.8 273.2 L806.0 274.0 L807.2 274.7 L808.4 275.4 L809.6 276.1 L810.8 276.7 L812.0 277.3 L813.2 277.8 L814.4 278.3 L815.6 278.7 L816.8 279.1 L818.0 279.4 L819.2 279.7 L820.4 279.9 L821.6 280.1 L822.8 280.3 L824.0 280.4" fill="none" stroke="url(#mg11)" stroke-width="0.75"/>
<path d="M752.0 280.9 L753.2 280.8 L754.4 280.8 L755.6 280.7 L756.8 280.6 L758.0 280.5 L759.2 280.4 L760.4 280.2 L761.6 280.0 L762.8 279.8 L764.0 279.6 L765.2 279.3 L766.4 279.0 L767.6 278.6 L768.8 278.2 L770.0 277.7 L771.2 277.2 L772.4 276.7 L773.6 276.1 L774.8 275.4 L776.0 274.8 L777.2 274.1 L778.4 273.4 L779.6 272.7 L780.8 272.0 L782.0 271.4 L783.2 270.7 L784.4 270.2 L785.6 269.6 L786.8 269.2 L788.0 268.8 L789.2 268.5 L790.4 268.3 L791.6 268.2 L792.8 268.1 L794.0 268.2 L795.2 268.4 L796.4 268.7 L797.6 269.1 L798.8 269.6 L800.0 270.2 L801.2 270.8 L802.4 271.4 L803.6 272.1 L804.8 272.8 L806.0 273.5 L807.2 274.2 L808.4 274.9 L809.6 275.6 L810.8 276.2 L812.0 276.8 L813.2 277.3 L814.4 277.8 L815.6 278.3 L816.8 278.7 L818.0 279.1 L819.2 279.4 L820.4 279.7 L821.6 279.9 L822.8 280.1 L824.0 280.3" fill="none" stroke="url(#mg11)" stroke-width="0.75"/>
<path d="M752.0 280.9 L753.2 280.9 L754.4 280.8 L755.6 280.8 L756.8 280.7 L758.0 280.7 L759.2 280.6 L760.4 280.5 L761.6 280.4 L762.8 280.2 L764.0 280.0 L765.2 279.8 L766.4 279.6 L767.6 279.3 L768.8 279.0 L770.0 278.7 L771.2 278.3 L772.4 277.8 L773.6 277.4 L774.8 276.8 L776.0 276.3 L777.2 275.7 L778.4 275.1 L779.6 274.5 L780.8 273.9 L782.0 273.3 L783.2 272.6 L784.4 272.1 L785.6 271.5 L786.8 271.0 L788.0 270.5 L789.2 270.1 L790.4 269.8 L791.6 269.6 L792.8 269.4 L794.0 269.4 L795.2 269.4 L796.4 269.5 L797.6 269.8 L798.8 270.1 L800.0 270.5 L801.2 270.9 L802.4 271.4 L803.6 272.0 L804.8 272.6 L806.0 273.2 L807.2 273.9 L808.4 274.5 L809.6 275.1 L810.8 275.8 L812.0 276.3 L813.2 276.9 L814.4 277.4 L815.6 277.9 L816.8 278.3 L818.0 278.7 L819.2 279.1 L820.4 279.4 L821.6 279.7 L822.8 279.9 L824.0 280.1" fill="none" stroke="url(#mg11)" stroke-width="0.75"/>
<path d="M752.0 280.9 L753.2 280.9 L754.4 280.9 L755.6 280.9 L756.8 280.8 L758.0 280.8 L759.2 280.7 L760.4 280.7 L761.6 280.6 L762.8 280.5 L764.0 280.4 L765.2 280.2 L766.4 280.1 L767.6 279.9 L768.8 279.6 L770.0 279.4 L771.2 279.1 L772.4 278.8 L773.6 278.4 L774.8 278.0 L776.0 277.5 L777.2 277.1 L778.4 276.6 L779.6 276.1 L780.8 275.5 L782.0 275.0 L783.2 274.4 L784.4 273.8 L785.6 273.3 L786.8 272.8 L788.0 272.3 L789.2 271.9 L790.4 271.5 L791.6 271.2 L792.8 270.9 L794.0 270.7 L795.2 270.6 L796.4 270.6 L797.6 270.7 L798.8 270.9 L800.0 271.1 L801.2 271.4 L802.4 271.8 L803.6 272.2 L804.8 272.7 L806.0 273.2 L807.2 273.8 L808.4 274.3 L809.6 274.9 L810.8 275.5 L812.0 276.0 L813.2 276.6 L814.4 277.1 L815.6 277.6 L816.8 278.0 L818.0 278.4 L819.2 278.8 L820.4 279.1 L821.6 279.4 L822.8 279.7 L824.0 279.9" fill="none" stroke="url(#mg11)" stroke-width="0.75"/>
<path d="M752.0 281.0 L753.2 281.0 L754.4 280.9 L755.6 280.9 L756.8 280.9 L758.0 280.9 L759.2 280.9 L760.4 280.8 L761.6 280.8 L762.8 280.7 L764.0 280.6 L765.2 280.5 L766.4 280.4 L767.6 280.3 L768.8 280.1 L770.0 279.9 L771.2 279.7 L772.4 279.5 L773.6 279.2 L774.8 278.9 L776.0 278.6 L777.2 278.2 L778.4 277.8 L779.6 277.4 L780.8 276.9 L782.0 276.4 L783.2 276.0 L784.4 275.5 L785.6 275.0 L786.8 274.5 L788.0 274.0 L789.2 273.6 L790.4 273.2 L791.6 272.8 L792.8 272.5 L794.0 272.2 L795.2 272.0 L796.4 271.9 L797.6 271.9 L798.8 271.9 L800.0 272.0 L801.2 272.2 L802.4 272.4 L803.6 272.7 L804.8 273.0 L806.0 273.4 L807.2 273.9 L808.4 274.4 L809.6 274.8 L810.8 275.3 L812.0 275.8 L813.2 276.3 L814.4 276.8 L815.6 277.3 L816.8 277.7 L818.0 278.1 L819.2 278.5 L820.4 278.9 L821.6 279.2 L822.8 279.5 L824.0 279.7" fill="none" stroke="url(#mg11)" stroke-width="0.75"/>
<path d="M752.0 281.0 L753.2 281.0 L754.4 281.0 L755.6 281.0 L756.8 281.0 L758.0 280.9 L759.2 280.9 L760.4 280.9 L761.6 280.9 L762.8 280.8 L764.0 280.8 L765.2 280.7 L766.4 280.6 L767.6 280.5 L768.8 280.4 L770.0 280.3 L771.2 280.2 L772.4 280.0 L773.6 279.8 L774.8 279.6 L776.0 279.3 L777.2 279.0 L778.4 278.7 L779.6 278.4 L780.8 278.1 L782.0 277.7 L783.2 277.3 L784.4 276.9 L785.6 276.5 L786.8 276.0 L788.0 275.6 L789.2 275.2 L790.4 274.8 L791.6 274.4 L792.8 274.1 L794.0 273.8 L795.2 273.6 L796.4 273.4 L797.6 273.2 L798.8 273.1 L800.0 273.1 L801.2 273.2 L802.4 273.3 L803.6 273.4 L804.8 273.7 L806.0 274.0 L807.2 274.3 L808.4 274.6 L809.6 275.0 L810.8 275.4 L812.0 275.9 L813.2 276.3 L814.4 276.7 L815.6 277.2 L816.8 277.6 L818.0 278.0 L819.2 278.3 L820.4 278.7 L821.6 279.0 L822.8 279.3 L824.0 279.5" fill="none" stroke="url(#mg11)" stroke-width="0.75"/>
<path d="M752.0 281.0 L753.2 281.0 L754.4 281.0 L755.6 281.0 L756.8 281.0 L758.0 281.0 L759.2 281.0 L760.4 280.9 L761.6 280.9 L762.8 280.9 L764.0 280.9 L765.2 280.8 L766.4 280.8 L767.6 280.7 L768.8 280.7 L770.0 280.6 L771.2 280.5 L772.4 280.4 L773.6 280.2 L774.8 280.1 L776.0 279.9 L777.2 279.7 L778.4 279.5 L779.6 279.2 L780.8 279.0 L782.0 278.7 L783.2 278.4 L784.4 278.1 L785.6 277.7 L786.8 277.4 L788.0 277.0 L789.2 276.7 L790.4 276.3 L791.6 276.0 L792.8 275.6 L794.0 275.3 L795.2 275.1 L796.4 274.8 L797.6 274.6 L798.8 274.5 L800.0 274.4 L801.2 274.4 L802.4 274.4 L803.6 274.4 L804.8 274.6 L806.0 274.7 L807.2 274.9 L808.4 275.2 L809.6 275.5 L810.8 275.8 L812.0 276.1 L813.2 276.5 L814.4 276.8 L815.6 277.2 L816.8 277.6 L818.0 277.9 L819.2 278.3 L820.4 278.6 L821.6 278.9 L822.8 279.2 L824.0 279.4" fill="none" stroke="url(#mg11)" stroke-width="0.75"/>
<path d="M752.0 281.0 L753.2 281.0 L754.4 281.0 L755.6 281.0 L756.8 281.0 L758.0 281.0 L759.2 281.0 L760.4 281.0 L761.6 281.0 L762.8 280.9 L764.0 280.9 L765.2 280.9 L766.4 280.9 L767.6 280.8 L768.8 280.8 L770.0 280.8 L771.2 280.7 L772.4 280.6 L773.6 280.5 L774.8 280.4 L776.0 280.3 L777.2 280.2 L778.4 280.0 L779.6 279.9 L780.8 279.7 L782.0 279.5 L783.2 279.3 L784.4 279.0 L785.6 278.8 L786.8 278.5 L788.0 278.2 L789.2 277.9 L790.4 277.6 L791.6 277.3 L792.8 277.1 L794.0 276.8 L795.2 276.5 L796.4 276.3 L797.6 276.1 L798.8 275.9 L800.0 275.8 L801.2 275.7 L802.4 275.6 L803.6 275.6 L804.8 275.6 L806.0 275.7 L807.2 275.8 L808.4 276.0 L809.6 276.2 L810.8 276.4 L812.0 276.6 L813.2 276.9 L814.4 277.2 L815.6 277.5 L816.8 277.8 L818.0 278.1 L819.2 278.3 L820.4 278.6 L821.6 278.9 L822.8 279.2 L824.0 279.4" fill="none" stroke="url(#mg11)" stroke-width="0.75"/>
<linearGradient id="narr" x1="0" y1="0" x2="1" y2="0.3"><stop offset="0" stop-color="#8fdaf0"/><stop offset="1" stop-color="#34aed6"/></linearGradient>
<path d="M1018.3 35.6 L1033.9 76.7 L1018 67.8 L1003.3 76.7 Z" fill="url(#narr)"/>
<text x="1018.5" y="59.6" font-size="9.5" font-weight="bold" fill="#e8fbff" text-anchor="middle" dominant-baseline="central">N</text>
<rect x="209.3" y="220.7" width="52.39999999999998" height="28.600000000000023" rx="2" fill="#fff" stroke="#cfe5ee" stroke-width="1.1"/>
<rect x="211.3" y="222.7" width="48.39999999999998" height="24.600000000000023" rx="1" fill="none" stroke="#e0f2f9" stroke-width="0.8"/>
<text x="235.5" y="231.9" font-size="13.5" font-weight="bold" fill="#a6d7ea" text-anchor="middle" dominant-baseline="central">五华</text>
<text x="235.5" y="243.6" font-size="4.5" fill="#c5e5f1" text-anchor="middle" dominant-baseline="central">WUHUA</text>
<rect x="556" y="193.7" width="52.5" height="29.600000000000023" rx="2" fill="#fff" stroke="#cfe5ee" stroke-width="1.1"/>
<rect x="558" y="195.7" width="48.5" height="25.600000000000023" rx="1" fill="none" stroke="#e0f2f9" stroke-width="0.8"/>
<text x="582.2" y="205.2" font-size="13.5" font-weight="bold" fill="#a6d7ea" text-anchor="middle" dominant-baseline="central">盘龙</text>
<text x="582.2" y="217.4" font-size="4.5" fill="#c5e5f1" text-anchor="middle" dominant-baseline="central">PANLONG</text>
<rect x="335.7" y="640" width="51.900000000000034" height="29.299999999999955" rx="2" fill="#fff" stroke="#cfe5ee" stroke-width="1.1"/>
<rect x="337.7" y="642" width="47.900000000000034" height="25.299999999999955" rx="1" fill="none" stroke="#e0f2f9" stroke-width="0.8"/>
<text x="361.6" y="651.4" font-size="13.5" font-weight="bold" fill="#a6d7ea" text-anchor="middle" dominant-baseline="central">西山</text>
<text x="361.6" y="663.4" font-size="4.5" fill="#c5e5f1" text-anchor="middle" dominant-baseline="central">XISHAN</text>
<rect x="635.7" y="610" width="53.299999999999955" height="29" rx="2" fill="#fff" stroke="#cfe5ee" stroke-width="1.1"/>
<rect x="637.7" y="612" width="49.299999999999955" height="25" rx="1" fill="none" stroke="#e0f2f9" stroke-width="0.8"/>
<text x="662.4" y="621.3" font-size="13.5" font-weight="bold" fill="#a6d7ea" text-anchor="middle" dominant-baseline="central">官渡</text>
<text x="662.4" y="633.2" font-size="4.5" fill="#c5e5f1" text-anchor="middle" dominant-baseline="central">GUANDU</text>
<rect x="785.4" y="943" width="52.200000000000045" height="28.799999999999955" rx="2" fill="#fff" stroke="#cfe5ee" stroke-width="1.1"/>
<rect x="787.4" y="945" width="48.200000000000045" height="24.799999999999955" rx="1" fill="none" stroke="#e0f2f9" stroke-width="0.8"/>
<text x="811.5" y="954.2" font-size="13.5" font-weight="bold" fill="#a6d7ea" text-anchor="middle" dominant-baseline="central">呈贡</text>
<text x="811.5" y="966.0" font-size="4.5" fill="#c5e5f1" text-anchor="middle" dominant-baseline="central">CHENGGONG</text>
<path d="M997.0 232.0 L799.1 430.4 Q788.5 441.0 773.5 441.0 L739.0 441.0 Q724.0 441.0 713.4 451.6 L642.2 522.8 Q633.8 531.2 625.3 522.8 L598.8 496.3 Q588.9 486.4 574.9 486.4 L487.0 486.4" fill="none" stroke="#2a9fab" stroke-width="5.3" stroke-linejoin="round"/>
<path d="M104.4 655.5 L104.4 443.6 Q104.4 432.6 115.4 432.6 L756.5 432.6" fill="none" stroke="#c53ca8" stroke-width="5.3" stroke-linejoin="round"/>
<path d="M145.6 257.8 L145.6 314.0 Q145.6 325.0 156.6 325.0 L585.0 325.0 Q594.0 325.0 594.0 334.0 L594.0 466.3 Q594.0 480.3 603.9 490.2 L746.8 633.1 Q756.7 643.0 756.7 657.0 L756.7 887.8 Q756.7 901.8 746.8 911.7 L658.2 1000.3 Q648.3 1010.2 648.3 1024.2 L648.3 1151.7 Q648.3 1162.7 659.3 1162.7 L863.3 1162.7" fill="none" stroke="#f19b26" stroke-width="5.3" stroke-linejoin="round"/>
<path d="M676.7 234.3 L604.6 306.4 Q594.0 317.0 579.0 317.0 L479.5 317.0 Q465.5 317.0 455.6 326.9 L388.4 394.1 Q378.5 404.0 378.5 418.0 L378.5 498.5 Q378.5 510.5 370.0 519.0 L243.4 645.6 Q232.8 656.2 243.4 666.9 L463.0 886.5" fill="none" stroke="#37a83c" stroke-width="5.3" stroke-linejoin="round"/>
<path d="M325 272.8 V476 Q325 486 335 486 H455 Q464 486 472.5 494 L487 508.5 Q495 516.5 495 527 V573 Q495 580.3 500 585.3 L643.9 729.2 Q648.9 734.2 648.9 741.2 V895.8 Q648.9 902.8 653.9 907.8 L751 1004.9 Q756 1009.9 756 1016.9 V1280" fill="none" stroke="#d90c1c" stroke-width="5.3"/>
<path d="M756 1042 Q756 1054.3 768.3 1054.3 H853 Q863.3 1054.3 863.3 1064.6 V1162.7" fill="none" stroke="#d90c1c" stroke-width="5.3"/>
<path d="M487 491 V518" stroke="#fff" stroke-width="9.6"/>
<path d="M558.5 53.3 L497.0 53.3 Q487.0 53.3 487.0 63.3 L487.0 737.0 Q487.0 747.0 479.9 754.1 L418.8 815.2 Q411.0 823.0 418.8 830.8 L501.0 913.0" fill="none" stroke="#0b5cca" stroke-width="5.3" stroke-linejoin="round"/>
<circle cx="519" cy="53.3" r="1.7" fill="#fff"/>
<circle cx="487" cy="92.6" r="1.7" fill="#fff"/>
<circle cx="487" cy="128.9" r="1.7" fill="#fff"/>
<circle cx="487" cy="164.9" r="1.7" fill="#fff"/>
<circle cx="487" cy="201" r="1.7" fill="#fff"/>
<circle cx="487" cy="237" r="1.7" fill="#fff"/>
<circle cx="487" cy="273" r="1.7" fill="#fff"/>
<circle cx="487" cy="362" r="1.7" fill="#fff"/>
<circle cx="487" cy="395" r="1.7" fill="#fff"/>
<circle cx="487" cy="564.6" r="1.7" fill="#fff"/>
<circle cx="487" cy="597.4" r="1.7" fill="#fff"/>
<circle cx="487" cy="630.4" r="1.7" fill="#fff"/>
<circle cx="487" cy="663.6" r="1.7" fill="#fff"/>
<circle cx="487" cy="696.7" r="1.7" fill="#fff"/>
<circle cx="487" cy="730" r="1.7" fill="#fff"/>
<circle cx="459.6" cy="774.4" r="1.7" fill="#fff"/>
<circle cx="431.8" cy="801.8" r="1.7" fill="#fff"/>
<circle cx="325" cy="378" r="1.7" fill="#fff"/>
<circle cx="419" cy="486" r="1.7" fill="#fff"/>
<circle cx="452.7" cy="486" r="1.7" fill="#fff"/>
<circle cx="495" cy="564.6" r="1.7" fill="#fff"/>
<circle cx="517" cy="602.2" r="1.7" fill="#fff"/>
<circle cx="544.5" cy="630.2" r="1.7" fill="#fff"/>
<circle cx="572.7" cy="657.2" r="1.7" fill="#fff"/>
<circle cx="599.4" cy="685.2" r="1.7" fill="#fff"/>
<circle cx="627.3" cy="712.9" r="1.7" fill="#fff"/>
<circle cx="648.9" cy="757.8" r="1.7" fill="#fff"/>
<circle cx="648.9" cy="798" r="1.7" fill="#fff"/>
<circle cx="648.9" cy="838.7" r="1.7" fill="#fff"/>
<circle cx="648.9" cy="878.7" r="1.7" fill="#fff"/>
<circle cx="756" cy="1033.3" r="1.7" fill="#fff"/>
<circle cx="756" cy="1109" r="1.7" fill="#fff"/>
<circle cx="756" cy="1206" r="1.7" fill="#fff"/>
<circle cx="756" cy="1243.3" r="1.7" fill="#fff"/>
<circle cx="794.3" cy="1054.3" r="1.7" fill="#fff"/>
<circle cx="842.7" cy="1054.3" r="1.7" fill="#fff"/>
<circle cx="863.3" cy="1108.3" r="1.7" fill="#fff"/>
<circle cx="145.6" cy="294.8" r="1.7" fill="#fff"/>
<circle cx="184.4" cy="325" r="1.7" fill="#fff"/>
<circle cx="230" cy="325" r="1.7" fill="#fff"/>
<circle cx="275" cy="325" r="1.7" fill="#fff"/>
<circle cx="406" cy="325" r="1.7" fill="#fff"/>
<circle cx="594" cy="362" r="1.7" fill="#fff"/>
<circle cx="594" cy="464.7" r="1.7" fill="#fff"/>
<circle cx="692.9" cy="578.9" r="1.7" fill="#fff"/>
<circle cx="730.7" cy="617.3" r="1.7" fill="#fff"/>
<circle cx="756.7" cy="671" r="1.7" fill="#fff"/>
<circle cx="756.7" cy="723.3" r="1.7" fill="#fff"/>
<circle cx="756.7" cy="775.2" r="1.7" fill="#fff"/>
<circle cx="756.7" cy="827.4" r="1.7" fill="#fff"/>
<circle cx="756.7" cy="879.2" r="1.7" fill="#fff"/>
<circle cx="670" cy="989.3" r="1.7" fill="#fff"/>
<circle cx="648.3" cy="1033.3" r="1.7" fill="#fff"/>
<circle cx="648.3" cy="1068.3" r="1.7" fill="#fff"/>
<circle cx="648.3" cy="1102.7" r="1.7" fill="#fff"/>
<circle cx="648.3" cy="1137.7" r="1.7" fill="#fff"/>
<circle cx="702.7" cy="1162.7" r="1.7" fill="#fff"/>
<circle cx="810.7" cy="1162.7" r="1.7" fill="#fff"/>
<circle cx="104.4" cy="470.4" r="1.7" fill="#fff"/>
<circle cx="104.4" cy="507.4" r="1.7" fill="#fff"/>
<circle cx="104.4" cy="544.4" r="1.7" fill="#fff"/>
<circle cx="104.4" cy="581.5" r="1.7" fill="#fff"/>
<circle cx="104.4" cy="618.5" r="1.7" fill="#fff"/>
<circle cx="126" cy="432.6" r="1.7" fill="#fff"/>
<circle cx="164.8" cy="432.6" r="1.7" fill="#fff"/>
<circle cx="204.4" cy="432.6" r="1.7" fill="#fff"/>
<circle cx="243.3" cy="432.6" r="1.7" fill="#fff"/>
<circle cx="282.6" cy="432.6" r="1.7" fill="#fff"/>
<circle cx="540.5" cy="432.6" r="1.7" fill="#fff"/>
<circle cx="637" cy="432.6" r="1.7" fill="#fff"/>
<circle cx="675.8" cy="432.6" r="1.7" fill="#fff"/>
<circle cx="715.3" cy="432.6" r="1.7" fill="#fff"/>
<circle cx="648.9" cy="262.6" r="1.7" fill="#fff"/>
<circle cx="621.1" cy="290.4" r="1.7" fill="#fff"/>
<circle cx="540" cy="317" r="1.7" fill="#fff"/>
<circle cx="425" cy="357.5" r="1.7" fill="#fff"/>
<circle cx="396" cy="386.5" r="1.7" fill="#fff"/>
<circle cx="362.5" cy="526.5" r="1.7" fill="#fff"/>
<circle cx="334.5" cy="554.5" r="1.7" fill="#fff"/>
<circle cx="306.5" cy="582.5" r="1.7" fill="#fff"/>
<circle cx="278.5" cy="610.5" r="1.7" fill="#fff"/>
<circle cx="251" cy="638" r="1.7" fill="#fff"/>
<circle cx="259.5" cy="683" r="1.7" fill="#fff"/>
<circle cx="287.2" cy="710.7" r="1.7" fill="#fff"/>
<circle cx="314.7" cy="738.8" r="1.7" fill="#fff"/>
<circle cx="342.6" cy="766.3" r="1.7" fill="#fff"/>
<circle cx="370.7" cy="793.8" r="1.7" fill="#fff"/>
<circle cx="397.8" cy="821.1" r="1.7" fill="#fff"/>
<circle cx="969.2" cy="260.7" r="1.7" fill="#fff"/>
<circle cx="899.1" cy="330.7" r="1.7" fill="#fff"/>
<circle cx="531.5" cy="486.4" r="1.7" fill="#fff"/>
<circle cx="568.9" cy="486.4" r="1.7" fill="#fff"/>
<rect x="554.5" y="49.3" width="8" height="8" rx="2" fill="#5d95e6" stroke="#0b3f95" stroke-width="1.6" transform="rotate(0 558.5 53.3)"/>
<rect x="141.6" y="253.8" width="8" height="8" rx="2" fill="#f8c070" stroke="#9a5d10" stroke-width="1.6" transform="rotate(0 145.6 257.8)"/>
<rect x="321.0" y="268.8" width="8" height="8" rx="2" fill="#f06070" stroke="#8a0010" stroke-width="1.6" transform="rotate(0 325 272.8)"/>
<rect x="100.4" y="651.5" width="8" height="8" rx="2" fill="#e08ad6" stroke="#7a1f6c" stroke-width="1.6" transform="rotate(0 104.4 655.5)"/>
<rect x="672.7" y="230.3" width="8" height="8" rx="2" fill="#8fd08f" stroke="#1f6d22" stroke-width="1.6" transform="rotate(45 676.7 234.3)"/>
<rect x="993.0" y="228.0" width="8" height="8" rx="2" fill="#86cdd5" stroke="#145e66" stroke-width="1.6" transform="rotate(45 997 232)"/>
<rect x="497.0" y="909.0" width="8" height="8" rx="2" fill="#5d95e6" stroke="#0b3f95" stroke-width="1.6" transform="rotate(45 501 913)"/>
<rect x="752.0" y="1276.0" width="8" height="8" rx="2" fill="#f06070" stroke="#8a0010" stroke-width="1.6" transform="rotate(0 756 1280)"/>
<g transform="translate(325 325) rotate(0)"><rect x="-6.0" y="-4.5" width="12" height="9" rx="4.5" fill="#fff" stroke="#fff" stroke-width="3.2"/><rect x="-6.0" y="-4.5" width="12" height="9" rx="4.5" fill="#fff" stroke="#4a4a4a" stroke-width="1.3"/><path d="M-2.8 -0.2 Q-1.6 -1.9 -0.2 -1 H2.6 M-0.2 -1 V2.2" fill="none" stroke="#555" stroke-width="0.75"/></g>
<g transform="translate(325 432.6) rotate(0)"><rect x="-6.0" y="-4.5" width="12" height="9" rx="4.5" fill="#fff" stroke="#fff" stroke-width="3.2"/><rect x="-6.0" y="-4.5" width="12" height="9" rx="4.5" fill="#fff" stroke="#4a4a4a" stroke-width="1.3"/><path d="M-2.8 -0.2 Q-1.6 -1.9 -0.2 -1 H2.6 M-0.2 -1 V2.2" fill="none" stroke="#555" stroke-width="0.75"/></g>
<g transform="translate(378.5 432.6) rotate(0)"><rect x="-6.0" y="-4.5" width="12" height="9" rx="4.5" fill="#fff" stroke="#fff" stroke-width="3.2"/><rect x="-6.0" y="-4.5" width="12" height="9" rx="4.5" fill="#fff" stroke="#4a4a4a" stroke-width="1.3"/><path d="M-2.8 -0.2 Q-1.6 -1.9 -0.2 -1 H2.6 M-0.2 -1 V2.2" fill="none" stroke="#555" stroke-width="0.75"/></g>
<g transform="translate(486.7 432.6) rotate(0)"><rect x="-6.0" y="-4.5" width="12" height="9" rx="4.5" fill="#fff" stroke="#fff" stroke-width="3.2"/><rect x="-6.0" y="-4.5" width="12" height="9" rx="4.5" fill="#fff" stroke="#4a4a4a" stroke-width="1.3"/><path d="M-2.8 -0.2 Q-1.6 -1.9 -0.2 -1 H2.6 M-0.2 -1 V2.2" fill="none" stroke="#555" stroke-width="0.75"/></g>
<g transform="translate(594 432.6) rotate(0)"><rect x="-6.0" y="-4.5" width="12" height="9" rx="4.5" fill="#fff" stroke="#fff" stroke-width="3.2"/><rect x="-6.0" y="-4.5" width="12" height="9" rx="4.5" fill="#fff" stroke="#4a4a4a" stroke-width="1.3"/><path d="M-2.8 -0.2 Q-1.6 -1.9 -0.2 -1 H2.6 M-0.2 -1 V2.2" fill="none" stroke="#555" stroke-width="0.75"/></g>
<g transform="translate(378.5 486.2) rotate(0)"><rect x="-6.0" y="-4.5" width="12" height="9" rx="4.5" fill="#fff" stroke="#fff" stroke-width="3.2"/><rect x="-6.0" y="-4.5" width="12" height="9" rx="4.5" fill="#fff" stroke="#4a4a4a" stroke-width="1.3"/><path d="M-2.8 -0.2 Q-1.6 -1.9 -0.2 -1 H2.6 M-0.2 -1 V2.2" fill="none" stroke="#555" stroke-width="0.75"/></g>
<g transform="translate(486.7 486.3) rotate(0)"><rect x="-6.0" y="-4.5" width="12" height="9" rx="4.5" fill="#fff" stroke="#fff" stroke-width="3.2"/><rect x="-6.0" y="-4.5" width="12" height="9" rx="4.5" fill="#fff" stroke="#4a4a4a" stroke-width="1.3"/><path d="M-2.8 -0.2 Q-1.6 -1.9 -0.2 -1 H2.6 M-0.2 -1 V2.2" fill="none" stroke="#555" stroke-width="0.75"/></g>
<g transform="translate(756 1162.7) rotate(0)"><rect x="-6.0" y="-4.5" width="12" height="9" rx="4.5" fill="#fff" stroke="#fff" stroke-width="3.2"/><rect x="-6.0" y="-4.5" width="12" height="9" rx="4.5" fill="#fff" stroke="#4a4a4a" stroke-width="1.3"/><path d="M-2.8 -0.2 Q-1.6 -1.9 -0.2 -1 H2.6 M-0.2 -1 V2.2" fill="none" stroke="#555" stroke-width="0.75"/></g>
<g transform="translate(863.3 1162.7) rotate(0)"><rect x="-6.0" y="-4.5" width="12" height="9" rx="4.5" fill="#fff" stroke="#fff" stroke-width="3.2"/><rect x="-6.0" y="-4.5" width="12" height="9" rx="4.5" fill="#fff" stroke="#4a4a4a" stroke-width="1.3"/><path d="M-2.8 -0.2 Q-1.6 -1.9 -0.2 -1 H2.6 M-0.2 -1 V2.2" fill="none" stroke="#555" stroke-width="0.75"/></g>
<g transform="translate(487 321) rotate(90)"><rect x="-9.2" y="-4.5" width="18.5" height="9" rx="4.5" fill="#fff" stroke="#fff" stroke-width="3.2"/><rect x="-9.2" y="-4.5" width="18.5" height="9" rx="4.5" fill="#fff" stroke="#4a4a4a" stroke-width="1.3"/><path d="M-2.8 -0.2 Q-1.6 -1.9 -0.2 -1 H2.6 M-0.2 -1 V2.2" fill="none" stroke="#555" stroke-width="0.75"/></g>
<g transform="translate(756.6 436.5) rotate(90)"><rect x="-9.2" y="-4.5" width="18.5" height="9" rx="4.5" fill="#fff" stroke="#fff" stroke-width="3.2"/><rect x="-9.2" y="-4.5" width="18.5" height="9" rx="4.5" fill="#fff" stroke="#4a4a4a" stroke-width="1.3"/><path d="M-2.8 -0.2 Q-1.6 -1.9 -0.2 -1 H2.6 M-0.2 -1 V2.2" fill="none" stroke="#555" stroke-width="0.75"/></g>
<g transform="translate(490.8 530.4) rotate(0)"><rect x="-9.5" y="-4.2" width="19" height="8.5" rx="4.2" fill="#fff" stroke="#fff" stroke-width="3.2"/><rect x="-9.5" y="-4.2" width="19" height="8.5" rx="4.2" fill="#fff" stroke="#4a4a4a" stroke-width="1.3"/><path d="M-2.8 -0.2 Q-1.6 -1.9 -0.2 -1 H2.6 M-0.2 -1 V2.2" fill="none" stroke="#555" stroke-width="0.75"/></g>
<g transform="translate(613.5 505.3) rotate(-45)"><rect x="-9.5" y="-4.2" width="19" height="8.5" rx="4.2" fill="#fff" stroke="#fff" stroke-width="3.2"/><rect x="-9.5" y="-4.2" width="19" height="8.5" rx="4.2" fill="#fff" stroke="#4a4a4a" stroke-width="1.3"/><path d="M-2.8 -0.2 Q-1.6 -1.9 -0.2 -1 H2.6 M-0.2 -1 V2.2" fill="none" stroke="#555" stroke-width="0.75"/></g>
<g transform="translate(434.4 852.2) rotate(-45)"><rect x="-9.5" y="-4.2" width="19" height="8.5" rx="4.2" fill="#fff" stroke="#fff" stroke-width="3.2"/><rect x="-9.5" y="-4.2" width="19" height="8.5" rx="4.2" fill="#fff" stroke="#4a4a4a" stroke-width="1.3"/><path d="M-2.8 -0.2 Q-1.6 -1.9 -0.2 -1 H2.6 M-0.2 -1 V2.2" fill="none" stroke="#555" stroke-width="0.75"/></g>
<g transform="translate(467.3 884.4) rotate(-45)"><rect x="-9.5" y="-4.2" width="19" height="8.5" rx="4.2" fill="#fff" stroke="#fff" stroke-width="3.2"/><rect x="-9.5" y="-4.2" width="19" height="8.5" rx="4.2" fill="#fff" stroke="#4a4a4a" stroke-width="1.3"/><path d="M-2.8 -0.2 Q-1.6 -1.9 -0.2 -1 H2.6 M-0.2 -1 V2.2" fill="none" stroke="#555" stroke-width="0.75"/></g>
<g transform="translate(702.7 956.4) rotate(45)"><rect x="-5.5" y="-4.5" width="11" height="9" rx="4.5" fill="#fff" stroke="#fff" stroke-width="3.2"/><rect x="-5.5" y="-4.5" width="11" height="9" rx="4.5" fill="#fff" stroke="#4a4a4a" stroke-width="1.3"/><path d="M-2.8 -0.2 Q-1.6 -1.9 -0.2 -1 H2.6 M-0.2 -1 V2.2" fill="none" stroke="#555" stroke-width="0.75"/></g>
<text x="519.0" y="34.0" font-size="10" font-weight="bold" fill="#2b2b2b" text-anchor="middle" dominant-baseline="central">龙头街</text>
<text x="519.0" y="43.8" font-size="4.3" fill="#b8b8b8" text-anchor="middle" dominant-baseline="central" letter-spacing="0.1">LONGTOU ST</text>
<text x="558.4" y="65.8" font-size="10" font-weight="bold" fill="#2b2b2b" text-anchor="middle" dominant-baseline="central">北部汽车站</text>
<text x="558.4" y="75.6" font-size="4.3" fill="#b8b8b8" text-anchor="middle" dominant-baseline="central" letter-spacing="0.1">North Coach Station</text>
<text x="494.4" y="89.0" font-size="10" font-weight="bold" fill="#2b2b2b" text-anchor="start" dominant-baseline="central">司家营</text>
<text x="494.4" y="98.8" font-size="4.3" fill="#b8b8b8" text-anchor="start" dominant-baseline="central" letter-spacing="0.1">SIJIAYING</text>
<text x="494.4" y="125.3" font-size="10" font-weight="bold" fill="#2b2b2b" text-anchor="start" dominant-baseline="central">羊肠村</text>
<text x="494.4" y="135.1" font-size="4.3" fill="#b8b8b8" text-anchor="start" dominant-baseline="central" letter-spacing="0.1">YANGCHANGCUN</text>
<text x="494.4" y="161.3" font-size="10" font-weight="bold" fill="#2b2b2b" text-anchor="start" dominant-baseline="central">霖雨桥</text>
<text x="494.4" y="171.1" font-size="4.3" fill="#b8b8b8" text-anchor="start" dominant-baseline="central" letter-spacing="0.1">LINYUQIAO</text>
<text x="494.4" y="197.4" font-size="10" font-weight="bold" fill="#2b2b2b" text-anchor="start" dominant-baseline="central">北辰</text>
<text x="494.4" y="207.2" font-size="4.3" fill="#b8b8b8" text-anchor="start" dominant-baseline="central" letter-spacing="0.1">BEICHEN</text>
<text x="494.4" y="233.4" font-size="10" font-weight="bold" fill="#2b2b2b" text-anchor="start" dominant-baseline="central">金星</text>
<text x="494.4" y="243.2" font-size="4.3" fill="#b8b8b8" text-anchor="start" dominant-baseline="central" letter-spacing="0.1">JINXING</text>
<text x="494.4" y="269.4" font-size="10" font-weight="bold" fill="#2b2b2b" text-anchor="start" dominant-baseline="central">白云路</text>
<text x="494.4" y="279.2" font-size="4.3" fill="#b8b8b8" text-anchor="start" dominant-baseline="central" letter-spacing="0.1">BAIYUN RD</text>
<text x="479.0" y="297.8" font-size="10" font-weight="bold" fill="#2b2b2b" text-anchor="end" dominant-baseline="central">火车北站</text>
<text x="479.0" y="307.6" font-size="4.3" fill="#b8b8b8" text-anchor="end" dominant-baseline="central" letter-spacing="0.1">North Railway Station</text>
<text x="494.4" y="358.4" font-size="10" font-weight="bold" fill="#2b2b2b" text-anchor="start" dominant-baseline="central">穿心鼓楼</text>
<text x="494.4" y="368.2" font-size="4.3" fill="#b8b8b8" text-anchor="start" dominant-baseline="central" letter-spacing="0.1">CHUANXINGULOU</text>
<text x="494.4" y="391.4" font-size="10" font-weight="bold" fill="#2b2b2b" text-anchor="start" dominant-baseline="central">交三桥</text>
<text x="494.4" y="401.2" font-size="4.3" fill="#b8b8b8" text-anchor="start" dominant-baseline="central" letter-spacing="0.1">JIAOSANQIAO</text>
<text x="478.0" y="414.0" font-size="10" font-weight="bold" fill="#2b2b2b" text-anchor="end" dominant-baseline="central">东风广场</text>
<text x="478.0" y="423.8" font-size="4.3" fill="#b8b8b8" text-anchor="end" dominant-baseline="central" letter-spacing="0.1">DONGFENG Square</text>
<text x="494.4" y="467.0" font-size="10" font-weight="bold" fill="#2b2b2b" text-anchor="start" dominant-baseline="central">塘子巷</text>
<text x="494.4" y="476.8" font-size="4.3" fill="#b8b8b8" text-anchor="start" dominant-baseline="central" letter-spacing="0.1">TANGZIXIANG</text>
<text x="476.5" y="526.7" font-size="10" font-weight="bold" fill="#2b2b2b" text-anchor="end" dominant-baseline="central">环城南路</text>
<text x="476.5" y="536.5" font-size="4.3" fill="#b8b8b8" text-anchor="end" dominant-baseline="central" letter-spacing="0.1">South Ring RD</text>
<text x="478.3" y="560.4" font-size="10" font-weight="bold" fill="#2b2b2b" text-anchor="end" dominant-baseline="central">昆明火车站北广场</text>
<text x="478.3" y="570.2" font-size="4.3" fill="#b8b8b8" text-anchor="end" dominant-baseline="central" letter-spacing="0.1">KUNMING Railway Station North Square</text>
<text x="478.0" y="594.0" font-size="10" font-weight="bold" fill="#2b2b2b" text-anchor="end" dominant-baseline="central">南坝</text>
<text x="478.0" y="603.8" font-size="4.3" fill="#b8b8b8" text-anchor="end" dominant-baseline="central" letter-spacing="0.1">NANBA</text>
<text x="478.0" y="627.3" font-size="10" font-weight="bold" fill="#2b2b2b" text-anchor="end" dominant-baseline="central">玉龙</text>
<text x="478.0" y="637.1" font-size="4.3" fill="#b8b8b8" text-anchor="end" dominant-baseline="central" letter-spacing="0.1">YULONG</text>
<text x="478.0" y="660.0" font-size="10" font-weight="bold" fill="#2b2b2b" text-anchor="end" dominant-baseline="central">小街</text>
<text x="478.0" y="669.8" font-size="4.3" fill="#b8b8b8" text-anchor="end" dominant-baseline="central" letter-spacing="0.1">XIAOJIE</text>
<text x="478.9" y="692.5" font-size="10" font-weight="bold" fill="#2b2b2b" text-anchor="end" dominant-baseline="central">广福路</text>
<text x="478.9" y="702.3" font-size="4.3" fill="#b8b8b8" text-anchor="end" dominant-baseline="central" letter-spacing="0.1">GUANGFU RD</text>
<text x="478.9" y="725.6" font-size="10" font-weight="bold" fill="#2b2b2b" text-anchor="end" dominant-baseline="central">叶家村</text>
<text x="478.9" y="735.4" font-size="4.3" fill="#b8b8b8" text-anchor="end" dominant-baseline="central" letter-spacing="0.1">YEJIACUN</text>
<text x="453.3" y="757.8" font-size="10" font-weight="bold" fill="#2b2b2b" text-anchor="end" dominant-baseline="central">六甲</text>
<text x="453.3" y="767.6" font-size="4.3" fill="#b8b8b8" text-anchor="end" dominant-baseline="central" letter-spacing="0.1">LIUJIA</text>
<text x="437.3" y="812.2" font-size="10" font-weight="bold" fill="#2b2b2b" text-anchor="start" dominant-baseline="central">龚家村</text>
<text x="437.3" y="822.0" font-size="4.3" fill="#b8b8b8" text-anchor="start" dominant-baseline="central" letter-spacing="0.1">GONGJIACUN</text>
<text x="477.8" y="862.2" font-size="10" font-weight="bold" fill="#2b2b2b" text-anchor="start" dominant-baseline="central">宝丰</text>
<text x="477.8" y="872.0" font-size="4.3" fill="#b8b8b8" text-anchor="start" dominant-baseline="central" letter-spacing="0.1">BAOFENG</text>
<text x="507.8" y="896.7" font-size="10" font-weight="bold" fill="#2b2b2b" text-anchor="start" dominant-baseline="central">海东公园</text>
<text x="507.8" y="906.5" font-size="4.3" fill="#b8b8b8" text-anchor="start" dominant-baseline="central" letter-spacing="0.1">HAIDONG Park</text>
<text x="318.0" y="269.8" font-size="10" font-weight="bold" fill="#2b2b2b" text-anchor="end" dominant-baseline="central">教场北路</text>
<text x="318.0" y="279.6" font-size="4.3" fill="#b8b8b8" text-anchor="end" dominant-baseline="central" letter-spacing="0.1">JIAOCHANG North RD</text>
<text x="332.7" y="306.0" font-size="10" font-weight="bold" fill="#2b2b2b" text-anchor="start" dominant-baseline="central">苏家塘</text>
<text x="332.7" y="315.8" font-size="4.3" fill="#b8b8b8" text-anchor="start" dominant-baseline="central" letter-spacing="0.1">SUJIATANG</text>
<text x="318.0" y="375.0" font-size="10" font-weight="bold" fill="#2b2b2b" text-anchor="end" dominant-baseline="central">一二一大街</text>
<text x="318.0" y="384.8" font-size="4.3" fill="#b8b8b8" text-anchor="end" dominant-baseline="central" letter-spacing="0.1">YI ER YI ST</text>
<text x="332.3" y="414.0" font-size="10" font-weight="bold" fill="#2b2b2b" text-anchor="start" dominant-baseline="central">潘家湾</text>
<text x="332.3" y="423.8" font-size="4.3" fill="#b8b8b8" text-anchor="start" dominant-baseline="central" letter-spacing="0.1">PANJIAWAN</text>
<text x="371.5" y="467.7" font-size="10" font-weight="bold" fill="#2b2b2b" text-anchor="end" dominant-baseline="central">弥勒寺</text>
<text x="371.5" y="477.5" font-size="4.3" fill="#b8b8b8" text-anchor="end" dominant-baseline="central" letter-spacing="0.1">MILESI</text>
<text x="418.7" y="498.7" font-size="10" font-weight="bold" fill="#2b2b2b" text-anchor="middle" dominant-baseline="central">金碧广场</text>
<text x="418.7" y="508.5" font-size="4.3" fill="#b8b8b8" text-anchor="middle" dominant-baseline="central" letter-spacing="0.1">JINBI Square</text>
<text x="452.7" y="467.7" font-size="10" font-weight="bold" fill="#2b2b2b" text-anchor="middle" dominant-baseline="central">得胜桥</text>
<text x="452.7" y="477.5" font-size="4.3" fill="#b8b8b8" text-anchor="middle" dominant-baseline="central" letter-spacing="0.1">DESHENGQIAO</text>
<text x="522.4" y="584.9" font-size="10" font-weight="bold" fill="#2b2b2b" text-anchor="start" dominant-baseline="central">福德</text>
<text x="522.4" y="594.7" font-size="4.3" fill="#b8b8b8" text-anchor="start" dominant-baseline="central" letter-spacing="0.1">FUDE</text>
<text x="551.0" y="613.0" font-size="10" font-weight="bold" fill="#2b2b2b" text-anchor="start" dominant-baseline="central">日新路</text>
<text x="551.0" y="622.8" font-size="4.3" fill="#b8b8b8" text-anchor="start" dominant-baseline="central" letter-spacing="0.1">RIXIN RD</text>
<text x="577.4" y="640.3" font-size="10" font-weight="bold" fill="#2b2b2b" text-anchor="start" dominant-baseline="central">巫家坝</text>
<text x="577.4" y="650.1" font-size="4.3" fill="#b8b8b8" text-anchor="start" dominant-baseline="central" letter-spacing="0.1">WUJIABA</text>
<text x="606.0" y="668.3" font-size="10" font-weight="bold" fill="#2b2b2b" text-anchor="start" dominant-baseline="central">昌宏西路</text>
<text x="606.0" y="678.1" font-size="4.3" fill="#b8b8b8" text-anchor="start" dominant-baseline="central" letter-spacing="0.1">CHANGHONG West RD</text>
<text x="633.3" y="696.2" font-size="10" font-weight="bold" fill="#2b2b2b" text-anchor="start" dominant-baseline="central">晓东村</text>
<text x="633.3" y="706.0" font-size="4.3" fill="#b8b8b8" text-anchor="start" dominant-baseline="central" letter-spacing="0.1">XIAODONGCUN</text>
<text x="656.2" y="754.0" font-size="10" font-weight="bold" fill="#2b2b2b" text-anchor="start" dominant-baseline="central">珥季路</text>
<text x="656.2" y="763.8" font-size="4.3" fill="#b8b8b8" text-anchor="start" dominant-baseline="central" letter-spacing="0.1">ERJI RD</text>
<text x="656.0" y="795.0" font-size="10" font-weight="bold" fill="#2b2b2b" text-anchor="start" dominant-baseline="central">星耀路</text>
<text x="656.0" y="804.8" font-size="4.3" fill="#b8b8b8" text-anchor="start" dominant-baseline="central" letter-spacing="0.1">XINGYAO RD</text>
<text x="656.0" y="835.1" font-size="10" font-weight="bold" fill="#2b2b2b" text-anchor="start" dominant-baseline="central">新亚洲体育城</text>
<text x="656.0" y="844.9" font-size="4.3" fill="#b8b8b8" text-anchor="start" dominant-baseline="central" letter-spacing="0.1">New Asia Athletics Park</text>
<text x="656.0" y="875.0" font-size="10" font-weight="bold" fill="#2b2b2b" text-anchor="start" dominant-baseline="central">南部汽车站</text>
<text x="656.0" y="884.8" font-size="4.3" fill="#b8b8b8" text-anchor="start" dominant-baseline="central" letter-spacing="0.1">South Coach Station</text>
<text x="720.8" y="952.6" font-size="10" font-weight="bold" fill="#2b2b2b" text-anchor="start" dominant-baseline="central">斗南</text>
<text x="720.8" y="962.4" font-size="4.3" fill="#b8b8b8" text-anchor="start" dominant-baseline="central" letter-spacing="0.1">DOUNAN</text>
<text x="749.3" y="1029.3" font-size="10" font-weight="bold" fill="#2b2b2b" text-anchor="end" dominant-baseline="central">春融街</text>
<text x="749.3" y="1039.1" font-size="4.3" fill="#b8b8b8" text-anchor="end" dominant-baseline="central" letter-spacing="0.1">CHUNRONG ST</text>
<text x="749.3" y="1105.0" font-size="10" font-weight="bold" fill="#2b2b2b" text-anchor="end" dominant-baseline="central">驼峰街</text>
<text x="749.3" y="1114.8" font-size="4.3" fill="#b8b8b8" text-anchor="end" dominant-baseline="central" letter-spacing="0.1">TUOFENG ST</text>
<text x="749.3" y="1144.0" font-size="10" font-weight="bold" fill="#2b2b2b" text-anchor="end" dominant-baseline="central">联大街</text>
<text x="749.3" y="1153.8" font-size="4.3" fill="#b8b8b8" text-anchor="end" dominant-baseline="central" letter-spacing="0.1">LIANDA ST</text>
<text x="764.0" y="1201.7" font-size="10" font-weight="bold" fill="#2b2b2b" text-anchor="start" dominant-baseline="central">谊康南路</text>
<text x="764.0" y="1211.5" font-size="4.3" fill="#b8b8b8" text-anchor="start" dominant-baseline="central" letter-spacing="0.1">YIKANG South RD</text>
<text x="764.0" y="1239.3" font-size="10" font-weight="bold" fill="#2b2b2b" text-anchor="start" dominant-baseline="central">大学城</text>
<text x="764.0" y="1249.1" font-size="4.3" fill="#b8b8b8" text-anchor="start" dominant-baseline="central" letter-spacing="0.1">University Town</text>
<text x="764.0" y="1276.7" font-size="10" font-weight="bold" fill="#2b2b2b" text-anchor="start" dominant-baseline="central">大学城南</text>
<text x="764.0" y="1286.5" font-size="4.3" fill="#b8b8b8" text-anchor="start" dominant-baseline="central" letter-spacing="0.1">University Town South</text>
<text x="842.7" y="1036.0" font-size="10" font-weight="bold" fill="#2b2b2b" text-anchor="middle" dominant-baseline="central">宜和路</text>
<text x="842.7" y="1045.8" font-size="4.3" fill="#b8b8b8" text-anchor="middle" dominant-baseline="central" letter-spacing="0.1">YIHE RD</text>
<text x="872.3" y="1105.0" font-size="10" font-weight="bold" fill="#2b2b2b" text-anchor="start" dominant-baseline="central">白龙潭</text>
<text x="872.3" y="1114.8" font-size="4.3" fill="#b8b8b8" text-anchor="start" dominant-baseline="central" letter-spacing="0.1">BAILONGTAN</text>
<text x="137.5" y="253.8" font-size="10" font-weight="bold" fill="#2b2b2b" text-anchor="end" dominant-baseline="central">金川路</text>
<text x="137.5" y="263.6" font-size="4.3" fill="#b8b8b8" text-anchor="end" dominant-baseline="central" letter-spacing="0.1">JINCHUAN RD</text>
<text x="137.5" y="291.3" font-size="10" font-weight="bold" fill="#2b2b2b" text-anchor="end" dominant-baseline="central">大河埂</text>
<text x="137.5" y="301.1" font-size="4.3" fill="#b8b8b8" text-anchor="end" dominant-baseline="central" letter-spacing="0.1">DAHEGENG</text>
<text x="184.4" y="337.2" font-size="10" font-weight="bold" fill="#2b2b2b" text-anchor="middle" dominant-baseline="central">海屯路</text>
<text x="184.4" y="347.0" font-size="4.3" fill="#b8b8b8" text-anchor="middle" dominant-baseline="central" letter-spacing="0.1">HAITUN RD</text>
<text x="230.0" y="306.0" font-size="10" font-weight="bold" fill="#2b2b2b" text-anchor="middle" dominant-baseline="central">小屯</text>
<text x="230.0" y="315.8" font-size="4.3" fill="#b8b8b8" text-anchor="middle" dominant-baseline="central" letter-spacing="0.1">XIAOTUN</text>
<text x="275.0" y="337.0" font-size="10" font-weight="bold" fill="#2b2b2b" text-anchor="middle" dominant-baseline="central">金鼎山北路</text>
<text x="275.0" y="346.8" font-size="4.3" fill="#b8b8b8" text-anchor="middle" dominant-baseline="central" letter-spacing="0.1">JINDINGSHAN North RD</text>
<text x="405.7" y="337.2" font-size="10" font-weight="bold" fill="#2b2b2b" text-anchor="middle" dominant-baseline="central">小菜园</text>
<text x="405.7" y="347.0" font-size="4.3" fill="#b8b8b8" text-anchor="middle" dominant-baseline="central" letter-spacing="0.1">XIAOCAIYUAN</text>
<text x="602.2" y="357.8" font-size="10" font-weight="bold" fill="#2b2b2b" text-anchor="start" dominant-baseline="central">白龙路</text>
<text x="602.2" y="367.6" font-size="4.3" fill="#b8b8b8" text-anchor="start" dominant-baseline="central" letter-spacing="0.1">BAILONG RD</text>
<text x="586.4" y="413.3" font-size="10" font-weight="bold" fill="#2b2b2b" text-anchor="end" dominant-baseline="central">大树营</text>
<text x="586.4" y="423.1" font-size="4.3" fill="#b8b8b8" text-anchor="end" dominant-baseline="central" letter-spacing="0.1">DASHUYING</text>
<text x="602.0" y="461.3" font-size="10" font-weight="bold" fill="#2b2b2b" text-anchor="start" dominant-baseline="central">菊花村</text>
<text x="602.0" y="471.1" font-size="4.3" fill="#b8b8b8" text-anchor="start" dominant-baseline="central" letter-spacing="0.1">JUHUACUN</text>
<text x="622.8" y="484.3" font-size="10" font-weight="bold" fill="#2b2b2b" text-anchor="start" dominant-baseline="central">菊华</text>
<text x="622.8" y="494.1" font-size="4.3" fill="#b8b8b8" text-anchor="start" dominant-baseline="central" letter-spacing="0.1">JUHUA</text>
<text x="736.7" y="600.0" font-size="10" font-weight="bold" fill="#2b2b2b" text-anchor="start" dominant-baseline="central">牛街庄</text>
<text x="736.7" y="609.8" font-size="4.3" fill="#b8b8b8" text-anchor="start" dominant-baseline="central" letter-spacing="0.1">NIUJIEZHUANG</text>
<text x="764.0" y="667.8" font-size="10" font-weight="bold" fill="#2b2b2b" text-anchor="start" dominant-baseline="central">朱家村</text>
<text x="764.0" y="677.6" font-size="4.3" fill="#b8b8b8" text-anchor="start" dominant-baseline="central" letter-spacing="0.1">ZHUJIACUN</text>
<text x="764.0" y="719.6" font-size="10" font-weight="bold" fill="#2b2b2b" text-anchor="start" dominant-baseline="central">羊甫头</text>
<text x="764.0" y="729.4" font-size="4.3" fill="#b8b8b8" text-anchor="start" dominant-baseline="central" letter-spacing="0.1">YANGFUTOU</text>
<text x="764.0" y="771.3" font-size="10" font-weight="bold" fill="#2b2b2b" text-anchor="start" dominant-baseline="central">玉绿路</text>
<text x="764.0" y="781.1" font-size="4.3" fill="#b8b8b8" text-anchor="start" dominant-baseline="central" letter-spacing="0.1">YULV RD</text>
<text x="764.0" y="823.3" font-size="10" font-weight="bold" fill="#2b2b2b" text-anchor="start" dominant-baseline="central">广卫</text>
<text x="764.0" y="833.1" font-size="4.3" fill="#b8b8b8" text-anchor="start" dominant-baseline="central" letter-spacing="0.1">GUANGWEI</text>
<text x="764.0" y="875.5" font-size="10" font-weight="bold" fill="#2b2b2b" text-anchor="start" dominant-baseline="central">塔密</text>
<text x="764.0" y="885.3" font-size="4.3" fill="#b8b8b8" text-anchor="start" dominant-baseline="central" letter-spacing="0.1">TAMI</text>
<text x="663.3" y="971.7" font-size="10" font-weight="bold" fill="#2b2b2b" text-anchor="end" dominant-baseline="central">金桂街</text>
<text x="663.3" y="981.5" font-size="4.3" fill="#b8b8b8" text-anchor="end" dominant-baseline="central" letter-spacing="0.1">JINGUI ST</text>
<text x="641.0" y="1029.0" font-size="10" font-weight="bold" fill="#2b2b2b" text-anchor="end" dominant-baseline="central">梅子村</text>
<text x="641.0" y="1038.8" font-size="4.3" fill="#b8b8b8" text-anchor="end" dominant-baseline="central" letter-spacing="0.1">MEIZICUN</text>
<text x="641.0" y="1064.3" font-size="10" font-weight="bold" fill="#2b2b2b" text-anchor="end" dominant-baseline="central">古城</text>
<text x="641.0" y="1074.1" font-size="4.3" fill="#b8b8b8" text-anchor="end" dominant-baseline="central" letter-spacing="0.1">GUCHENG</text>
<text x="641.0" y="1099.0" font-size="10" font-weight="bold" fill="#2b2b2b" text-anchor="end" dominant-baseline="central">可乐村</text>
<text x="641.0" y="1108.8" font-size="4.3" fill="#b8b8b8" text-anchor="end" dominant-baseline="central" letter-spacing="0.1">KELECUN</text>
<text x="641.0" y="1134.0" font-size="10" font-weight="bold" fill="#2b2b2b" text-anchor="end" dominant-baseline="central">祥丰街</text>
<text x="641.0" y="1143.8" font-size="4.3" fill="#b8b8b8" text-anchor="end" dominant-baseline="central" letter-spacing="0.1">XIANGFENG ST</text>
<text x="702.7" y="1175.0" font-size="10" font-weight="bold" fill="#2b2b2b" text-anchor="middle" dominant-baseline="central">牛头山</text>
<text x="702.7" y="1184.8" font-size="4.3" fill="#b8b8b8" text-anchor="middle" dominant-baseline="central" letter-spacing="0.1">NIUTOUSHAN</text>
<text x="810.7" y="1144.0" font-size="10" font-weight="bold" fill="#2b2b2b" text-anchor="middle" dominant-baseline="central">吴家营</text>
<text x="810.7" y="1153.8" font-size="4.3" fill="#b8b8b8" text-anchor="middle" dominant-baseline="central" letter-spacing="0.1">WUJIAYING</text>
<text x="126.0" y="414.0" font-size="10" font-weight="bold" fill="#2b2b2b" text-anchor="middle" dominant-baseline="central">眠山</text>
<text x="126.0" y="423.8" font-size="4.3" fill="#b8b8b8" text-anchor="middle" dominant-baseline="central" letter-spacing="0.1">MIANSHAN</text>
<text x="204.4" y="414.0" font-size="10" font-weight="bold" fill="#2b2b2b" text-anchor="middle" dominant-baseline="central">西苑</text>
<text x="204.4" y="423.8" font-size="4.3" fill="#b8b8b8" text-anchor="middle" dominant-baseline="central" letter-spacing="0.1">XIYUAN</text>
<text x="282.5" y="414.0" font-size="10" font-weight="bold" fill="#2b2b2b" text-anchor="middle" dominant-baseline="central">市体育馆</text>
<text x="282.5" y="423.8" font-size="4.3" fill="#b8b8b8" text-anchor="middle" dominant-baseline="central" letter-spacing="0.1">Municipal Gymnasium</text>
<text x="164.8" y="445.2" font-size="10" font-weight="bold" fill="#2b2b2b" text-anchor="middle" dominant-baseline="central">昌源中路</text>
<text x="164.8" y="455.0" font-size="4.3" fill="#b8b8b8" text-anchor="middle" dominant-baseline="central" letter-spacing="0.1">CHANGYUAN Central RD</text>
<text x="243.3" y="445.0" font-size="10" font-weight="bold" fill="#2b2b2b" text-anchor="middle" dominant-baseline="central">梁家河</text>
<text x="243.3" y="454.8" font-size="4.3" fill="#b8b8b8" text-anchor="middle" dominant-baseline="central" letter-spacing="0.1">LIANGJIAHE</text>
<text x="386.5" y="445.0" font-size="10" font-weight="bold" fill="#2b2b2b" text-anchor="start" dominant-baseline="central">五一路</text>
<text x="386.5" y="454.8" font-size="4.3" fill="#b8b8b8" text-anchor="start" dominant-baseline="central" letter-spacing="0.1">WUYI RD</text>
<text x="540.5" y="444.7" font-size="10" font-weight="bold" fill="#2b2b2b" text-anchor="middle" dominant-baseline="central">拓东体育馆</text>
<text x="540.5" y="454.5" font-size="4.3" fill="#b8b8b8" text-anchor="middle" dominant-baseline="central" letter-spacing="0.1">TUODONG Stadium</text>
<text x="637.0" y="413.3" font-size="10" font-weight="bold" fill="#2b2b2b" text-anchor="middle" dominant-baseline="central">金马寺</text>
<text x="637.0" y="423.1" font-size="4.3" fill="#b8b8b8" text-anchor="middle" dominant-baseline="central" letter-spacing="0.1">JINMASI</text>
<text x="675.8" y="444.7" font-size="10" font-weight="bold" fill="#2b2b2b" text-anchor="middle" dominant-baseline="central">太平村</text>
<text x="675.8" y="454.5" font-size="4.3" fill="#b8b8b8" text-anchor="middle" dominant-baseline="central" letter-spacing="0.1">TAIPINGCUN</text>
<text x="715.4" y="413.4" font-size="10" font-weight="bold" fill="#2b2b2b" text-anchor="middle" dominant-baseline="central">虹桥</text>
<text x="715.4" y="423.2" font-size="4.3" fill="#b8b8b8" text-anchor="middle" dominant-baseline="central" letter-spacing="0.1">HONGQIAO</text>
<text x="757.0" y="456.0" font-size="10" font-weight="bold" fill="#2b2b2b" text-anchor="middle" dominant-baseline="central">东部汽车站</text>
<text x="757.0" y="465.8" font-size="4.3" fill="#b8b8b8" text-anchor="middle" dominant-baseline="central" letter-spacing="0.1">East Coach Station</text>
<text x="97.0" y="466.7" font-size="10" font-weight="bold" fill="#2b2b2b" text-anchor="end" dominant-baseline="central">西部汽车站</text>
<text x="97.0" y="476.5" font-size="4.3" fill="#b8b8b8" text-anchor="end" dominant-baseline="central" letter-spacing="0.1">West Coach Station</text>
<text x="97.0" y="503.7" font-size="10" font-weight="bold" fill="#2b2b2b" text-anchor="end" dominant-baseline="central">大渔路</text>
<text x="97.0" y="513.5" font-size="4.3" fill="#b8b8b8" text-anchor="end" dominant-baseline="central" letter-spacing="0.1">DAYU RD</text>
<text x="97.0" y="540.7" font-size="10" font-weight="bold" fill="#2b2b2b" text-anchor="end" dominant-baseline="central">石咀</text>
<text x="97.0" y="550.5" font-size="4.3" fill="#b8b8b8" text-anchor="end" dominant-baseline="central" letter-spacing="0.1">SHIZUI</text>
<text x="97.0" y="577.8" font-size="10" font-weight="bold" fill="#2b2b2b" text-anchor="end" dominant-baseline="central">普坪村</text>
<text x="97.0" y="587.6" font-size="4.3" fill="#b8b8b8" text-anchor="end" dominant-baseline="central" letter-spacing="0.1">PUPINGCUN</text>
<text x="110.4" y="614.8" font-size="10" font-weight="bold" fill="#2b2b2b" text-anchor="start" dominant-baseline="central">车家壁</text>
<text x="110.4" y="624.6" font-size="4.3" fill="#b8b8b8" text-anchor="start" dominant-baseline="central" letter-spacing="0.1">CHEJIABI</text>
<text x="97.0" y="653.0" font-size="10" font-weight="bold" fill="#2b2b2b" text-anchor="end" dominant-baseline="central">西山公园</text>
<text x="97.0" y="662.8" font-size="4.3" fill="#b8b8b8" text-anchor="end" dominant-baseline="central" letter-spacing="0.1">Western Hills Park</text>
<text x="682.2" y="244.8" font-size="10" font-weight="bold" fill="#2b2b2b" text-anchor="start" dominant-baseline="central">世博园</text>
<text x="682.2" y="254.6" font-size="4.3" fill="#b8b8b8" text-anchor="start" dominant-baseline="central" letter-spacing="0.1">WORLD HORTI-EXPO GARDEN</text>
<text x="654.4" y="272.6" font-size="10" font-weight="bold" fill="#2b2b2b" text-anchor="start" dominant-baseline="central">白龙寺</text>
<text x="654.4" y="282.4" font-size="4.3" fill="#b8b8b8" text-anchor="start" dominant-baseline="central" letter-spacing="0.1">BAILONGSI</text>
<text x="626.7" y="301.0" font-size="10" font-weight="bold" fill="#2b2b2b" text-anchor="start" dominant-baseline="central">石闸</text>
<text x="626.7" y="310.8" font-size="4.3" fill="#b8b8b8" text-anchor="start" dominant-baseline="central" letter-spacing="0.1">SHIZHA</text>
<text x="540.0" y="297.8" font-size="10" font-weight="bold" fill="#2b2b2b" text-anchor="middle" dominant-baseline="central">穿金路</text>
<text x="540.0" y="307.6" font-size="4.3" fill="#b8b8b8" text-anchor="middle" dominant-baseline="central" letter-spacing="0.1">CHUANJIN RD</text>
<text x="431.0" y="367.3" font-size="10" font-weight="bold" fill="#2b2b2b" text-anchor="start" dominant-baseline="central">圆通山</text>
<text x="431.0" y="377.1" font-size="4.3" fill="#b8b8b8" text-anchor="start" dominant-baseline="central" letter-spacing="0.1">YUANTONG Hill</text>
<text x="369.6" y="369.7" font-size="10" font-weight="bold" fill="#2b2b2b" text-anchor="middle" dominant-baseline="central">华山西路</text>
<text x="369.6" y="379.5" font-size="4.3" fill="#b8b8b8" text-anchor="middle" dominant-baseline="central" letter-spacing="0.1">HUASHAN West RD</text>
<text x="356.5" y="510.6" font-size="10" font-weight="bold" fill="#2b2b2b" text-anchor="end" dominant-baseline="central">严家地</text>
<text x="356.5" y="520.4" font-size="4.3" fill="#b8b8b8" text-anchor="end" dominant-baseline="central" letter-spacing="0.1">YANJIADI</text>
<text x="328.7" y="537.6" font-size="10" font-weight="bold" fill="#2b2b2b" text-anchor="end" dominant-baseline="central">金兰路</text>
<text x="328.7" y="547.4" font-size="4.3" fill="#b8b8b8" text-anchor="end" dominant-baseline="central" letter-spacing="0.1">JINLAN RD</text>
<text x="301.3" y="565.0" font-size="10" font-weight="bold" fill="#2b2b2b" text-anchor="end" dominant-baseline="central">福海</text>
<text x="301.3" y="574.8" font-size="4.3" fill="#b8b8b8" text-anchor="end" dominant-baseline="central" letter-spacing="0.1">FUHAI</text>
<text x="273.5" y="593.3" font-size="10" font-weight="bold" fill="#2b2b2b" text-anchor="end" dominant-baseline="central">广福路西口</text>
<text x="273.5" y="603.1" font-size="4.3" fill="#b8b8b8" text-anchor="end" dominant-baseline="central" letter-spacing="0.1">GUANGFU RD WEST</text>
<text x="246.3" y="621.3" font-size="10" font-weight="bold" fill="#2b2b2b" text-anchor="end" dominant-baseline="central">大坝</text>
<text x="246.3" y="631.1" font-size="4.3" fill="#b8b8b8" text-anchor="end" dominant-baseline="central" letter-spacing="0.1">DABA</text>
<text x="254.0" y="693.4" font-size="10" font-weight="bold" fill="#2b2b2b" text-anchor="end" dominant-baseline="central">迎海路</text>
<text x="254.0" y="703.2" font-size="4.3" fill="#b8b8b8" text-anchor="end" dominant-baseline="central" letter-spacing="0.1">YINGHAI RD</text>
<text x="281.5" y="720.9" font-size="10" font-weight="bold" fill="#2b2b2b" text-anchor="end" dominant-baseline="central">渔户村</text>
<text x="281.5" y="730.7" font-size="4.3" fill="#b8b8b8" text-anchor="end" dominant-baseline="central" letter-spacing="0.1">YUHU CUN</text>
<text x="309.0" y="748.6" font-size="10" font-weight="bold" fill="#2b2b2b" text-anchor="end" dominant-baseline="central">兴体路</text>
<text x="309.0" y="758.4" font-size="4.3" fill="#b8b8b8" text-anchor="end" dominant-baseline="central" letter-spacing="0.1">XINGTI RD</text>
<text x="336.9" y="776.5" font-size="10" font-weight="bold" fill="#2b2b2b" text-anchor="end" dominant-baseline="central">庄家塘立交桥</text>
<text x="336.9" y="786.3" font-size="4.3" fill="#b8b8b8" text-anchor="end" dominant-baseline="central" letter-spacing="0.1">ZHUANGJIATANG Overpass</text>
<text x="364.6" y="804.0" font-size="10" font-weight="bold" fill="#2b2b2b" text-anchor="end" dominant-baseline="central">金家河</text>
<text x="364.6" y="813.8" font-size="4.3" fill="#b8b8b8" text-anchor="end" dominant-baseline="central" letter-spacing="0.1">JINJIA RIVER</text>
<text x="392.2" y="832.2" font-size="10" font-weight="bold" fill="#2b2b2b" text-anchor="end" dominant-baseline="central">福保</text>
<text x="392.2" y="842.0" font-size="4.3" fill="#b8b8b8" text-anchor="end" dominant-baseline="central" letter-spacing="0.1">FUBAO</text>
<text x="975.3" y="269.6" font-size="10" font-weight="bold" fill="#2b2b2b" text-anchor="start" dominant-baseline="central">机场前</text>
<text x="975.3" y="279.4" font-size="4.3" fill="#b8b8b8" text-anchor="start" dominant-baseline="central" letter-spacing="0.1">Airport Front</text>
<text x="904.8" y="340.1" font-size="10" font-weight="bold" fill="#2b2b2b" text-anchor="start" dominant-baseline="central">大板桥</text>
<text x="904.8" y="349.9" font-size="4.3" fill="#b8b8b8" text-anchor="start" dominant-baseline="central" letter-spacing="0.1">DABANQIAO</text>
<text x="531.5" y="498.5" font-size="10" font-weight="bold" fill="#2b2b2b" text-anchor="middle" dominant-baseline="central">岔街</text>
<text x="531.5" y="508.3" font-size="4.3" fill="#b8b8b8" text-anchor="middle" dominant-baseline="central" letter-spacing="0.1">CHAJIE</text>
<text x="568.9" y="498.5" font-size="10" font-weight="bold" fill="#2b2b2b" text-anchor="middle" dominant-baseline="central">东郊路</text>
<text x="568.9" y="508.3" font-size="4.3" fill="#b8b8b8" text-anchor="middle" dominant-baseline="central" letter-spacing="0.1">DONGJIAO RD</text>
<rect x="696.8" y="556.4" width="32.0" height="19.8" fill="#fff"/>
<text x="697.8" y="562.4" font-size="10" font-weight="bold" fill="#2b2b2b" text-anchor="start" dominant-baseline="central">和甸营</text>
<text x="697.8" y="572.2" font-size="4.3" fill="#b8b8b8" text-anchor="start" dominant-baseline="central" letter-spacing="0.1">HEDIANYING</text>
<text x="424.4" y="867.8" font-size="10" font-weight="bold" fill="#2b2b2b" text-anchor="end" dominant-baseline="central">滇池国际会展中心</text>
<text x="424.4" y="877.3" font-size="4.3" fill="#b8b8b8" text-anchor="end" dominant-baseline="central" letter-spacing="0.1">DIANCHI INTERNATIONAL CONVENTION</text>
<text x="424.4" y="883" font-size="4.6" fill="#b8b8b8" text-anchor="end" dominant-baseline="central">AND EXHIBITION CENTER</text>
<text x="794.3" y="1067.3" font-size="10" font-weight="bold" fill="#2b2b2b" text-anchor="middle" dominant-baseline="central">市级行政</text>
<text x="794.3" y="1079.0" font-size="10" font-weight="bold" fill="#2b2b2b" text-anchor="middle" dominant-baseline="central">中心·清风</text>
<text x="794.3" y="1089.3" font-size="4.3" fill="#b8b8b8" text-anchor="middle" dominant-baseline="central" letter-spacing="0.1">Municipal Administration</text>
<text x="794.3" y="1095" font-size="4.6" fill="#b8b8b8" text-anchor="middle" dominant-baseline="central">Center</text>
<text x="508.0" y="559.4" font-size="13" font-weight="bold" fill="#2b2b2b" text-anchor="start" dominant-baseline="central">昆明火车站</text>
<text x="508.0" y="569.9" font-size="4.3" fill="#b8b8b8" text-anchor="start" dominant-baseline="central" letter-spacing="0.1">KUNMING Railway Station</text>
<text x="508.7" y="547" font-size="7" fill="#8fd0e8" dominant-baseline="central">昆明</text>
<text x="864.0" y="1176.7" font-size="12.8" font-weight="bold" fill="#2b2b2b" text-anchor="middle" dominant-baseline="central">昆明南火车站</text>
<text x="864.0" y="1187.3" font-size="4.3" fill="#b8b8b8" text-anchor="middle" dominant-baseline="central" letter-spacing="0.1">KUNMING South Railway Station</text>
<text x="881.8" y="1161.8" font-size="7" fill="#8fd0e8" dominant-baseline="central">昆明南</text>
<text x="1003.8" y="243.1" font-size="12.6" font-weight="bold" fill="#2b2b2b" text-anchor="start" dominant-baseline="central">机场中心</text>
<text x="1003.8" y="254.6" font-size="4.3" fill="#b8b8b8" text-anchor="start" dominant-baseline="central" letter-spacing="0.1">KUNMING Airport</text>
<text x="968.3" y="213.3" font-size="9" font-weight="bold" fill="#4a8fe0" text-anchor="end" dominant-baseline="central">昆明长水</text>
<text x="968.3" y="224.2" font-size="5.5" font-weight="bold" fill="#4a8fe0" text-anchor="end" dominant-baseline="central">KMG</text>
<rect x="551.0" y="24.0" width="15" height="15" rx="2.5" fill="#0b5cca"/>
<text x="558.5" y="32.0" font-size="10.8" font-weight="bold" fill="#fff" text-anchor="middle" dominant-baseline="central">2</text>
<rect x="159.5" y="250.5" width="15" height="15" rx="2.5" fill="#f19b26"/>
<text x="167.0" y="258.5" font-size="10.8" font-weight="bold" fill="#fff" text-anchor="middle" dominant-baseline="central">4</text>
<rect x="339.5" y="266.0" width="15" height="15" rx="2.5" fill="#d90c1c"/>
<text x="347.0" y="274.0" font-size="10.8" font-weight="bold" fill="#fff" text-anchor="middle" dominant-baseline="central">1</text>
<rect x="650.3" y="208.9" width="15" height="15" rx="2.5" fill="#37a83c"/>
<text x="657.8" y="216.9" font-size="10.8" font-weight="bold" fill="#fff" text-anchor="middle" dominant-baseline="central">5</text>
<rect x="1008.1" y="207.1" width="15" height="15" rx="2.5" fill="#2a9fab"/>
<text x="1015.6" y="215.1" font-size="10.8" font-weight="bold" fill="#fff" text-anchor="middle" dominant-baseline="central">6</text>
<rect x="749.1" y="405.9" width="15" height="15" rx="2.5" fill="#c53ca8"/>
<text x="756.6" y="413.9" font-size="10.8" font-weight="bold" fill="#fff" text-anchor="middle" dominant-baseline="central">3</text>
<rect x="543.5" y="463.8" width="15" height="15" rx="2.5" fill="#2a9fab"/>
<text x="551.0" y="471.8" font-size="10.8" font-weight="bold" fill="#fff" text-anchor="middle" dominant-baseline="central">6</text>
<rect x="96.5" y="670.5" width="15" height="15" rx="2.5" fill="#c53ca8"/>
<text x="104.0" y="678.5" font-size="10.8" font-weight="bold" fill="#fff" text-anchor="middle" dominant-baseline="central">3</text>
<rect x="438.7" y="898.1" width="15" height="15" rx="2.5" fill="#37a83c"/>
<text x="446.2" y="906.1" font-size="10.8" font-weight="bold" fill="#fff" text-anchor="middle" dominant-baseline="central">5</text>
<rect x="513.2" y="925.2" width="15" height="15" rx="2.5" fill="#0b5cca"/>
<text x="520.7" y="933.2" font-size="10.8" font-weight="bold" fill="#fff" text-anchor="middle" dominant-baseline="central">2</text>
<rect x="845.0" y="1196.5" width="15" height="15" rx="2.5" fill="#d90c1c"/>
<text x="852.5" y="1204.5" font-size="10.8" font-weight="bold" fill="#fff" text-anchor="middle" dominant-baseline="central">1</text>
<rect x="868.5" y="1196.5" width="15" height="15" rx="2.5" fill="#f19b26"/>
<text x="876.0" y="1204.5" font-size="10.8" font-weight="bold" fill="#fff" text-anchor="middle" dominant-baseline="central">4</text>
<rect x="727.5" y="1273.5" width="15" height="15" rx="2.5" fill="#d90c1c"/>
<text x="735.0" y="1281.5" font-size="10.8" font-weight="bold" fill="#fff" text-anchor="middle" dominant-baseline="central">1</text>
<text x="266" y="1047" font-size="19" font-style="italic" fill="#74c4e4" stroke="#74c4e4" stroke-width="0.5" dominant-baseline="central" textLength="38" lengthAdjust="spacingAndGlyphs">滇池</text>
<text x="316" y="1047.5" font-size="19" font-style="italic" fill="#74c4e4" stroke="#74c4e4" stroke-width="0.4" dominant-baseline="central" textLength="119" lengthAdjust="spacingAndGlyphs">DIANCHI LAKE</text>
<path d="M141.9 835.2 H152.6 L138.1 936.7 H127.4 Z" fill="#8cc63f"/>
<path d="M156.5 835.2 H163.7 L150.7 936.7 H144.9 Z" fill="#8cc63f"/>
<path d="M196.4 835.2 H217.8 C205 870 180 890 153.6 896.8 C172 880 190 860 196.4 835.2 Z" fill="#8cc63f"/>
<path d="M109.9 897.8 H160 C185 898 205 915 220.7 936.7 H191.5 C180 918 165 903 145 902.6 H109.9 Z" fill="#2f7ee0"/>
<text x="96" y="959" font-size="25" font-weight="bold" fill="#111" dominant-baseline="central" textLength="158" lengthAdjust="spacingAndGlyphs">昆明轨道交通</text>
<text x="92.4" y="979.5" font-size="11.6" fill="#222" dominant-baseline="central" textLength="165" lengthAdjust="spacingAndGlyphs">Kunming Rail Transit Co.,Ltd</text>
<g transform="translate(981.7 217.5) scale(0.92)"><path d="M0 -9 C1.2 -9 1.5 -7.5 1.5 -6 V-2 L9 2.5 V4.5 L1.5 2 V6 L4 8 V9.5 L0 8.3 L-4 9.5 V8 L-1.5 6 V2 L-9 4.5 V2.5 L-1.5 -2 V-6 C-1.5 -7.5 -1.2 -9 0 -9 Z" fill="#3d8fe0"/></g>
<text x="915" y="587" font-size="15" font-weight="bold" fill="#3fabd9" dominant-baseline="central">图例</text>
<text x="954" y="589.5" font-size="12.5" fill="#a9d6ea" dominant-baseline="central">LEGEND</text>
<rect x="915" y="600.5" width="104" height="3" fill="#bfe3f0"/>
<rect x="926.3" y="620.7" width="3.6" height="68.4" fill="#d8434a"/>
<rect x="914.5" y="656.5" width="45.3" height="4" fill="#f2a23a"/>
<g transform="translate(928 658.5)"><rect x="-5" y="-3.5" width="10" height="7" rx="3.5" fill="#fff" stroke="#555" stroke-width="1"/></g>
<circle cx="928" cy="678.7" r="1.4" fill="#fff"/>
<rect x="937.9" y="621.2" width="10.5" height="10.5" rx="2.5" fill="#d8434a"/>
<text x="943.1" y="627.0" font-size="7.6" font-weight="bold" fill="#fff" text-anchor="middle" dominant-baseline="central">1</text>
<text x="934.7" y="647.8" font-size="8.5" font-weight="bold" fill="#333" dominant-baseline="central">斗南</text>
<text x="934.7" y="679.2" font-size="8.5" font-weight="bold" fill="#333" dominant-baseline="central">春融街</text>
<text x="981.8" y="624.2" font-size="8.5" font-weight="bold" fill="#333" dominant-baseline="central">线路编号</text>
<text x="981.8" y="633.9" font-size="4.6" fill="#aaa" dominant-baseline="central">Line Number</text>
<text x="981.8" y="650.8" font-size="8.5" font-weight="bold" fill="#333" dominant-baseline="central">换乘站</text>
<text x="981.8" y="660.5" font-size="4.6" fill="#aaa" dominant-baseline="central">Transfer Station</text>
<text x="981.8" y="677.0" font-size="8.5" font-weight="bold" fill="#333" dominant-baseline="central">地铁站</text>
<text x="981.8" y="686.7" font-size="4.6" fill="#aaa" dominant-baseline="central">Metro Station</text>
<text x="981.8" y="707.7" font-size="8.5" font-weight="bold" fill="#333" dominant-baseline="central">国家铁路及火车站</text>
<text x="981.8" y="717.4" font-size="4.6" fill="#aaa" dominant-baseline="central">China Railway & Railway Station</text>
<text x="981.8" y="737.9" font-size="8.5" font-weight="bold" fill="#333" dominant-baseline="central">机场</text>
<text x="981.8" y="747.6" font-size="4.6" fill="#aaa" dominant-baseline="central">Airport</text>
<path d="M915.7 709.5 H934.3 M915.7 712.5 H934.3" stroke="#a9dced" stroke-width="1"/>
<text x="944.7" y="711" font-size="6.5" fill="#a9dced" dominant-baseline="central">昆明南</text>
<g transform="translate(923.1 741.4) scale(0.75)"><path d="M0 -9 C1.2 -9 1.5 -7.5 1.5 -6 V-2 L9 2.5 V4.5 L1.5 2 V6 L4 8 V9.5 L0 8.3 L-4 9.5 V8 L-1.5 6 V2 L-9 4.5 V2.5 L-1.5 -2 V-6 C-1.5 -7.5 -1.2 -9 0 -9 Z" fill="#3d8fe0"/></g>
<text x="934.7" y="738.6" font-size="7.5" font-weight="bold" fill="#4a8fe0" dominant-baseline="central">昆明长水</text>
<text x="934.7" y="746.5" font-size="4.5" font-weight="bold" fill="#4a8fe0" dominant-baseline="central">KMG</text>
<text x="915" y="799.2" font-size="15" font-weight="bold" fill="#3fabd9" dominant-baseline="central">线路</text>
<text x="954" y="800.5" font-size="12.5" fill="#a9d6ea" dominant-baseline="central">LINES</text>
<path d="M915 812.2 H989 M915 815 H989" stroke="#bfe3f0" stroke-width="1.3"/>
<rect x="914.6" y="826.7" width="21.2" height="6" fill="#d90c1c"/>
<text x="914.6" y="840.9" font-size="9.5" font-weight="bold" fill="#333" dominant-baseline="central">1号线</text>
<text x="914.6" y="850.7" font-size="4.8" fill="#aaa" dominant-baseline="central">Line 1</text>
<text x="945.1" y="840.5" font-size="6.6" font-weight="bold" fill="#444" dominant-baseline="central">教场北路 - 大学城南 / 昆明南火车站</text>
<text x="945.1" y="846.3" font-size="3" fill="#bbb" dominant-baseline="central">JIAOCHANG North RD - University Town South / KUNMING South Railway Station</text>
<rect x="914.6" y="864.5" width="21.2" height="6" fill="#0b5cca"/>
<text x="914.6" y="878.7" font-size="9.5" font-weight="bold" fill="#333" dominant-baseline="central">2号线</text>
<text x="914.6" y="888.5" font-size="4.8" fill="#aaa" dominant-baseline="central">Line 2</text>
<text x="945.1" y="878.3" font-size="6.6" font-weight="bold" fill="#444" dominant-baseline="central">北部汽车站 - 海东公园</text>
<text x="945.1" y="884.1" font-size="3" fill="#bbb" dominant-baseline="central">North Coach Station - HAIDONG Park</text>
<rect x="914.6" y="902.3" width="21.2" height="6" fill="#c53ca8"/>
<text x="914.6" y="916.5" font-size="9.5" font-weight="bold" fill="#333" dominant-baseline="central">3号线</text>
<text x="914.6" y="926.3" font-size="4.8" fill="#aaa" dominant-baseline="central">Line 3</text>
<text x="945.1" y="916.1" font-size="6.6" font-weight="bold" fill="#444" dominant-baseline="central">东部汽车站 - 西山公园</text>
<text x="945.1" y="921.9" font-size="3" fill="#bbb" dominant-baseline="central">East Coach Station - Western Hills Park</text>
<rect x="914.6" y="940.1" width="21.2" height="6" fill="#f19b26"/>
<text x="914.6" y="954.3" font-size="9.5" font-weight="bold" fill="#333" dominant-baseline="central">4号线</text>
<text x="914.6" y="964.1" font-size="4.8" fill="#aaa" dominant-baseline="central">Line 4</text>
<text x="945.1" y="953.9" font-size="6.6" font-weight="bold" fill="#444" dominant-baseline="central">金川路 - 昆明南火车站</text>
<text x="945.1" y="959.7" font-size="3" fill="#bbb" dominant-baseline="central">JINCHUAN RD - KUNMING South Railway Station</text>
<rect x="914.6" y="977.9" width="21.2" height="6" fill="#37a83c"/>
<text x="914.6" y="992.1" font-size="9.5" font-weight="bold" fill="#333" dominant-baseline="central">5号线</text>
<text x="914.6" y="1001.9" font-size="4.8" fill="#aaa" dominant-baseline="central">Line 5</text>
<text x="945.1" y="991.7" font-size="6.6" font-weight="bold" fill="#444" dominant-baseline="central">世博园 - 宝丰</text>
<text x="945.1" y="997.5" font-size="3" fill="#bbb" dominant-baseline="central">WORLD HORTI-EXPO GARDEN - BAOFENG</text>
<rect x="914.6" y="1015.7" width="21.2" height="6" fill="#2a9fab"/>
<text x="914.6" y="1029.9" font-size="9.5" font-weight="bold" fill="#333" dominant-baseline="central">6号线</text>
<text x="914.6" y="1039.7" font-size="4.8" fill="#aaa" dominant-baseline="central">Line 6</text>
<text x="945.1" y="1029.5" font-size="6.6" font-weight="bold" fill="#444" dominant-baseline="central">塘子巷 - 机场中心</text>
<text x="945.1" y="1035.3" font-size="3" fill="#bbb" dominant-baseline="central">TANGZIXIANG - KUNMING Airport</text>
<g transform="translate(1045 301) rotate(-45)"><rect x="-23.0" y="-5.0" width="46" height="10" fill="#fff" stroke="#c3cccf" stroke-width="0.8"/><text x="0" y="0.3" font-size="6" fill="#c3cccf" text-anchor="middle" dominant-baseline="central">往 上海 ｜ 沪昆</text></g>
<g transform="translate(1023 371) rotate(-45)"><rect x="-27.0" y="-5.0" width="54" height="10" fill="#fff" stroke="#a9dced" stroke-width="0.8"/><text x="0" y="0.3" font-size="6" fill="#a9dced" text-anchor="middle" dominant-baseline="central">往 大理 ｜ 沪昆客运</text></g>
<g transform="translate(44 611.8) rotate(0)"><rect x="-23.4" y="-4.5" width="46.7" height="9" fill="#fff" stroke="#c9d3e0" stroke-width="0.8"/><text x="0" y="0.3" font-size="5.5" fill="#c9d3e0" text-anchor="middle" dominant-baseline="central">滇缅 ｜ 往 瑞丽</text></g>
<g transform="translate(54 627) rotate(0)"><rect x="-33.4" y="-5.0" width="66.7" height="9.9" fill="#fff" stroke="#a9dced" stroke-width="0.8"/><text x="0" y="0.3" font-size="5.5" fill="#a9dced" text-anchor="middle" dominant-baseline="central">滇缅大瑞铁 ｜ 往 丽江</text></g>
<g transform="translate(1029.6 1219.6) rotate(0)"><rect x="-30.0" y="-4.8" width="60" height="9.5" fill="#fff" stroke="#a9dced" stroke-width="0.8"/><text x="0" y="0.3" font-size="5.5" fill="#a9dced" text-anchor="middle" dominant-baseline="central">往 南宁 ｜ 南昆客运</text></g>
<g transform="translate(926 1288.5) rotate(0)"><rect x="-40.9" y="-4.5" width="81.7" height="9" fill="#fff" stroke="#a9dced" stroke-width="0.8"/><text x="0" y="0.3" font-size="5.5" fill="#a9dced" text-anchor="middle" dominant-baseline="central">滇玉铁路 ｜ 往 玉溪 / 河口</text></g>
<text x="14" y="639.5" font-size="8" fill="#a9dced" text-anchor="middle" dominant-baseline="central">«</text>
<text x="1066" y="1233.5" font-size="8" fill="#a9dced" text-anchor="middle" dominant-baseline="central">»</text>
<text x="1061" y="263" font-size="8" fill="#b0b8bb" text-anchor="middle" dominant-baseline="central" transform="rotate(-45 1061 263)">»</text>
<text x="1061" y="354" font-size="8" fill="#a9dced" text-anchor="middle" dominant-baseline="central" transform="rotate(-45 1061 354)">»</text>
<text x="502" y="564" font-size="6" fill="#a9dced" text-anchor="middle" dominant-baseline="central">⇉</text>
</svg></body></html>
